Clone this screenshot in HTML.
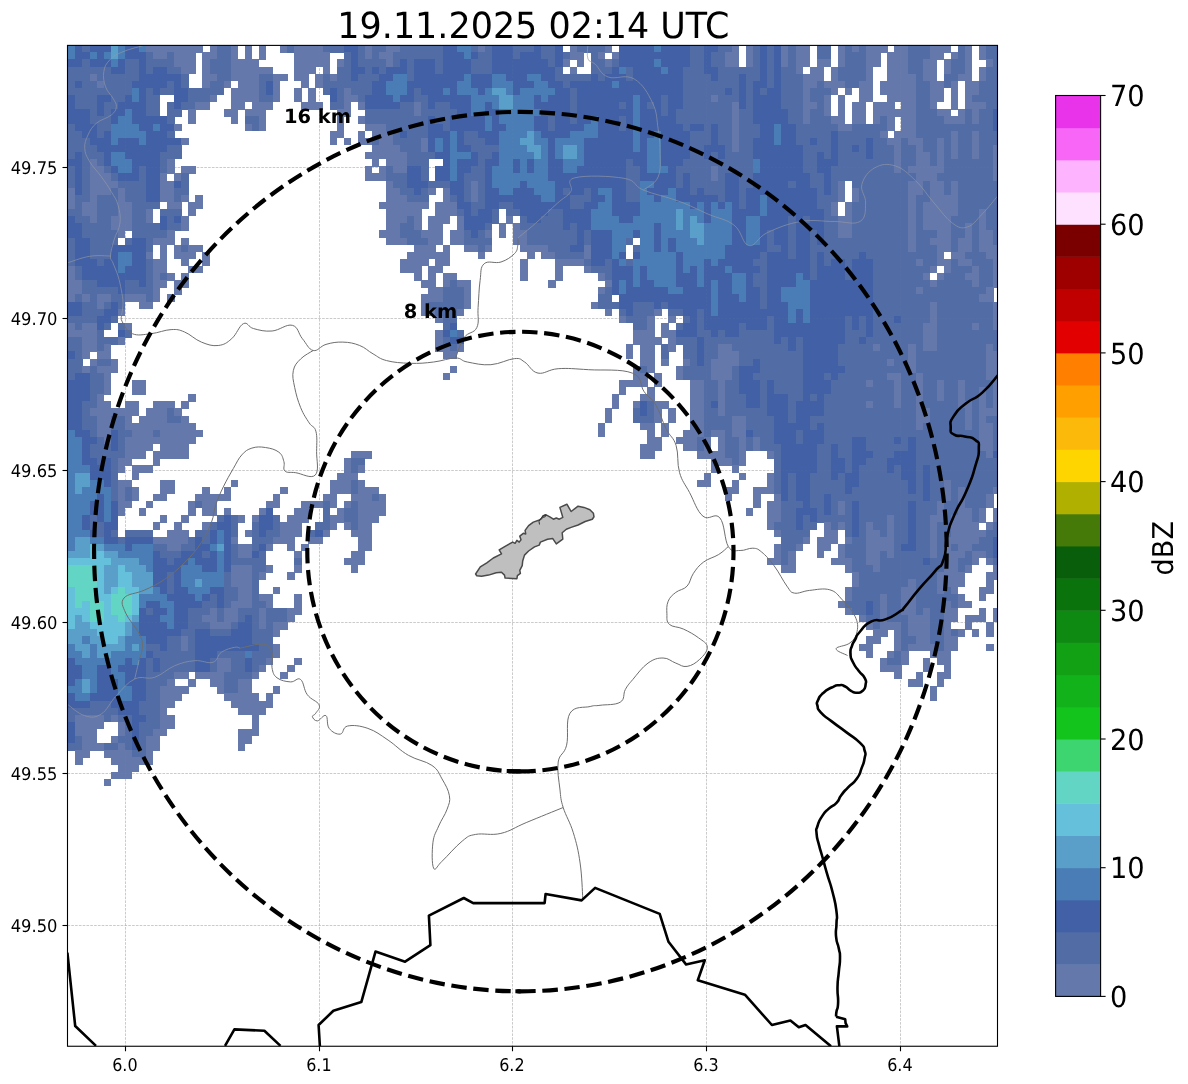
<!DOCTYPE html>
<html><head><meta charset="utf-8"><title>Radar 19.11.2025 02:14 UTC</title>
<style>
html,body{margin:0;padding:0;background:#fff;}
body{width:1188px;height:1084px;overflow:hidden;}
svg{display:block;will-change:transform;}
text{font-family:"DejaVu Sans","Liberation Sans",sans-serif;fill:#000;text-rendering:geometricPrecision;}
</style></head><body>
<svg width="1188" height="1084" viewBox="0 0 1188 1084">
<rect width="1188" height="1084" fill="#fff"/>
<defs><clipPath id="ax"><rect x="67.5" y="45.4" width="930.0" height="1000.85"/></clipPath></defs>

<g clip-path="url(#ax)">
<g stroke="#b0b0b0" stroke-opacity="0.8" stroke-width="0.8" stroke-dasharray="2.6,1.2" fill="none">
<line x1="125.50" y1="45.4" x2="125.50" y2="1046.25"/>
<line x1="319.50" y1="45.4" x2="319.50" y2="1046.25"/>
<line x1="512.50" y1="45.4" x2="512.50" y2="1046.25"/>
<line x1="706.50" y1="45.4" x2="706.50" y2="1046.25"/>
<line x1="900.50" y1="45.4" x2="900.50" y2="1046.25"/>
<line x1="67.5" y1="925.50" x2="997.5" y2="925.50"/>
<line x1="67.5" y1="773.50" x2="997.5" y2="773.50"/>
<line x1="67.5" y1="622.50" x2="997.5" y2="622.50"/>
<line x1="67.5" y1="470.50" x2="997.5" y2="470.50"/>
<line x1="67.5" y1="318.50" x2="997.5" y2="318.50"/>
<line x1="67.5" y1="167.50" x2="997.5" y2="167.50"/>
</g>
<g shape-rendering="crispEdges">
<rect x="61.28" y="45.18" width="7.36" height="7.42" fill="#4160a5"/>
<rect x="68.34" y="45.18" width="7.36" height="7.42" fill="#4a7db5"/>
<rect x="75.40" y="45.18" width="7.36" height="7.42" fill="#4160a5"/>
<rect x="82.46" y="45.18" width="7.36" height="7.42" fill="#526ca6"/>
<rect x="89.52" y="45.18" width="21.48" height="7.42" fill="#4160a5"/>
<rect x="110.70" y="45.18" width="7.36" height="7.42" fill="#5a9fc9"/>
<rect x="117.76" y="45.18" width="7.36" height="7.42" fill="#4a7db5"/>
<rect x="124.82" y="45.18" width="14.42" height="7.42" fill="#4160a5"/>
<rect x="138.94" y="45.18" width="7.36" height="7.42" fill="#4a7db5"/>
<rect x="146.00" y="45.18" width="56.78" height="7.42" fill="#6478ab"/>
<rect x="209.54" y="45.18" width="7.36" height="7.42" fill="#6478ab"/>
<rect x="216.60" y="45.18" width="14.42" height="7.42" fill="#526ca6"/>
<rect x="230.72" y="45.18" width="7.36" height="7.42" fill="#6478ab"/>
<rect x="244.84" y="45.18" width="7.36" height="7.42" fill="#6478ab"/>
<rect x="258.96" y="45.18" width="7.36" height="7.42" fill="#6478ab"/>
<rect x="280.14" y="45.18" width="7.36" height="7.42" fill="#6478ab"/>
<rect x="287.20" y="45.18" width="7.36" height="7.42" fill="#526ca6"/>
<rect x="294.26" y="45.18" width="28.54" height="7.42" fill="#6478ab"/>
<rect x="322.50" y="45.18" width="21.48" height="7.42" fill="#526ca6"/>
<rect x="343.68" y="45.18" width="14.42" height="7.42" fill="#4160a5"/>
<rect x="357.80" y="45.18" width="7.36" height="7.42" fill="#526ca6"/>
<rect x="364.86" y="45.18" width="7.36" height="7.42" fill="#6478ab"/>
<rect x="371.92" y="45.18" width="14.42" height="7.42" fill="#526ca6"/>
<rect x="386.04" y="45.18" width="14.42" height="7.42" fill="#6478ab"/>
<rect x="400.16" y="45.18" width="42.66" height="7.42" fill="#526ca6"/>
<rect x="442.52" y="45.18" width="14.42" height="7.42" fill="#4160a5"/>
<rect x="456.64" y="45.18" width="14.42" height="7.42" fill="#4a7db5"/>
<rect x="470.76" y="45.18" width="7.36" height="7.42" fill="#526ca6"/>
<rect x="477.82" y="45.18" width="7.36" height="7.42" fill="#6478ab"/>
<rect x="484.88" y="45.18" width="7.36" height="7.42" fill="#526ca6"/>
<rect x="491.94" y="45.18" width="21.48" height="7.42" fill="#4160a5"/>
<rect x="513.12" y="45.18" width="21.48" height="7.42" fill="#526ca6"/>
<rect x="534.30" y="45.18" width="7.36" height="7.42" fill="#4160a5"/>
<rect x="541.36" y="45.18" width="14.42" height="7.42" fill="#526ca6"/>
<rect x="555.48" y="45.18" width="7.36" height="7.42" fill="#4160a5"/>
<rect x="569.60" y="45.18" width="7.36" height="7.42" fill="#6478ab"/>
<rect x="576.66" y="45.18" width="28.54" height="7.42" fill="#526ca6"/>
<rect x="604.90" y="45.18" width="7.36" height="7.42" fill="#6478ab"/>
<rect x="619.02" y="45.18" width="35.60" height="7.42" fill="#4160a5"/>
<rect x="654.32" y="45.18" width="7.36" height="7.42" fill="#4a7db5"/>
<rect x="661.38" y="45.18" width="28.54" height="7.42" fill="#4160a5"/>
<rect x="689.62" y="45.18" width="14.42" height="7.42" fill="#526ca6"/>
<rect x="703.74" y="45.18" width="14.42" height="7.42" fill="#4160a5"/>
<rect x="717.86" y="45.18" width="14.42" height="7.42" fill="#526ca6"/>
<rect x="731.98" y="45.18" width="7.36" height="7.42" fill="#6478ab"/>
<rect x="746.10" y="45.18" width="7.36" height="7.42" fill="#6478ab"/>
<rect x="753.16" y="45.18" width="7.36" height="7.42" fill="#526ca6"/>
<rect x="760.22" y="45.18" width="7.36" height="7.42" fill="#4160a5"/>
<rect x="767.28" y="45.18" width="7.36" height="7.42" fill="#526ca6"/>
<rect x="774.34" y="45.18" width="7.36" height="7.42" fill="#4160a5"/>
<rect x="781.40" y="45.18" width="7.36" height="7.42" fill="#6478ab"/>
<rect x="788.46" y="45.18" width="7.36" height="7.42" fill="#526ca6"/>
<rect x="795.52" y="45.18" width="14.42" height="7.42" fill="#6478ab"/>
<rect x="816.70" y="45.18" width="14.42" height="7.42" fill="#526ca6"/>
<rect x="837.88" y="45.18" width="7.36" height="7.42" fill="#6478ab"/>
<rect x="844.94" y="45.18" width="7.36" height="7.42" fill="#526ca6"/>
<rect x="852.00" y="45.18" width="7.36" height="7.42" fill="#6478ab"/>
<rect x="859.06" y="45.18" width="7.36" height="7.42" fill="#526ca6"/>
<rect x="866.12" y="45.18" width="21.48" height="7.42" fill="#6478ab"/>
<rect x="894.36" y="45.18" width="14.42" height="7.42" fill="#6478ab"/>
<rect x="908.48" y="45.18" width="21.48" height="7.42" fill="#526ca6"/>
<rect x="929.66" y="45.18" width="21.48" height="7.42" fill="#6478ab"/>
<rect x="957.90" y="45.18" width="7.36" height="7.42" fill="#526ca6"/>
<rect x="964.96" y="45.18" width="7.36" height="7.42" fill="#6478ab"/>
<rect x="979.08" y="45.18" width="7.36" height="7.42" fill="#6478ab"/>
<rect x="986.14" y="45.18" width="14.42" height="7.42" fill="#526ca6"/>
<rect x="61.28" y="52.30" width="7.36" height="7.42" fill="#4160a5"/>
<rect x="68.34" y="52.30" width="7.36" height="7.42" fill="#4a7db5"/>
<rect x="75.40" y="52.30" width="14.42" height="7.42" fill="#4160a5"/>
<rect x="89.52" y="52.30" width="7.36" height="7.42" fill="#4a7db5"/>
<rect x="96.58" y="52.30" width="7.36" height="7.42" fill="#4160a5"/>
<rect x="103.64" y="52.30" width="7.36" height="7.42" fill="#4a7db5"/>
<rect x="110.70" y="52.30" width="7.36" height="7.42" fill="#5a9fc9"/>
<rect x="117.76" y="52.30" width="7.36" height="7.42" fill="#4a7db5"/>
<rect x="124.82" y="52.30" width="21.48" height="7.42" fill="#4160a5"/>
<rect x="146.00" y="52.30" width="7.36" height="7.42" fill="#526ca6"/>
<rect x="153.06" y="52.30" width="14.42" height="7.42" fill="#6478ab"/>
<rect x="167.18" y="52.30" width="7.36" height="7.42" fill="#526ca6"/>
<rect x="174.24" y="52.30" width="21.48" height="7.42" fill="#6478ab"/>
<rect x="202.48" y="52.30" width="14.42" height="7.42" fill="#6478ab"/>
<rect x="216.60" y="52.30" width="14.42" height="7.42" fill="#526ca6"/>
<rect x="230.72" y="52.30" width="7.36" height="7.42" fill="#6478ab"/>
<rect x="244.84" y="52.30" width="7.36" height="7.42" fill="#6478ab"/>
<rect x="258.96" y="52.30" width="7.36" height="7.42" fill="#6478ab"/>
<rect x="294.26" y="52.30" width="35.60" height="7.42" fill="#6478ab"/>
<rect x="343.68" y="52.30" width="7.36" height="7.42" fill="#526ca6"/>
<rect x="350.74" y="52.30" width="7.36" height="7.42" fill="#4160a5"/>
<rect x="357.80" y="52.30" width="7.36" height="7.42" fill="#526ca6"/>
<rect x="364.86" y="52.30" width="7.36" height="7.42" fill="#6478ab"/>
<rect x="371.92" y="52.30" width="7.36" height="7.42" fill="#526ca6"/>
<rect x="378.98" y="52.30" width="14.42" height="7.42" fill="#6478ab"/>
<rect x="393.10" y="52.30" width="49.72" height="7.42" fill="#526ca6"/>
<rect x="442.52" y="52.30" width="21.48" height="7.42" fill="#4160a5"/>
<rect x="463.70" y="52.30" width="7.36" height="7.42" fill="#4a7db5"/>
<rect x="470.76" y="52.30" width="7.36" height="7.42" fill="#4160a5"/>
<rect x="477.82" y="52.30" width="14.42" height="7.42" fill="#526ca6"/>
<rect x="491.94" y="52.30" width="21.48" height="7.42" fill="#4160a5"/>
<rect x="513.12" y="52.30" width="7.36" height="7.42" fill="#526ca6"/>
<rect x="520.18" y="52.30" width="21.48" height="7.42" fill="#4160a5"/>
<rect x="541.36" y="52.30" width="14.42" height="7.42" fill="#526ca6"/>
<rect x="555.48" y="52.30" width="7.36" height="7.42" fill="#4160a5"/>
<rect x="562.54" y="52.30" width="7.36" height="7.42" fill="#526ca6"/>
<rect x="569.60" y="52.30" width="14.42" height="7.42" fill="#6478ab"/>
<rect x="590.78" y="52.30" width="7.36" height="7.42" fill="#526ca6"/>
<rect x="597.84" y="52.30" width="7.36" height="7.42" fill="#6478ab"/>
<rect x="611.96" y="52.30" width="7.36" height="7.42" fill="#6478ab"/>
<rect x="619.02" y="52.30" width="70.90" height="7.42" fill="#4160a5"/>
<rect x="689.62" y="52.30" width="14.42" height="7.42" fill="#526ca6"/>
<rect x="703.74" y="52.30" width="7.36" height="7.42" fill="#4160a5"/>
<rect x="710.80" y="52.30" width="14.42" height="7.42" fill="#526ca6"/>
<rect x="724.92" y="52.30" width="14.42" height="7.42" fill="#6478ab"/>
<rect x="746.10" y="52.30" width="7.36" height="7.42" fill="#6478ab"/>
<rect x="753.16" y="52.30" width="7.36" height="7.42" fill="#526ca6"/>
<rect x="760.22" y="52.30" width="7.36" height="7.42" fill="#4160a5"/>
<rect x="767.28" y="52.30" width="7.36" height="7.42" fill="#526ca6"/>
<rect x="774.34" y="52.30" width="7.36" height="7.42" fill="#4160a5"/>
<rect x="781.40" y="52.30" width="7.36" height="7.42" fill="#6478ab"/>
<rect x="788.46" y="52.30" width="7.36" height="7.42" fill="#526ca6"/>
<rect x="795.52" y="52.30" width="14.42" height="7.42" fill="#6478ab"/>
<rect x="816.70" y="52.30" width="14.42" height="7.42" fill="#526ca6"/>
<rect x="837.88" y="52.30" width="7.36" height="7.42" fill="#6478ab"/>
<rect x="844.94" y="52.30" width="21.48" height="7.42" fill="#526ca6"/>
<rect x="866.12" y="52.30" width="14.42" height="7.42" fill="#6478ab"/>
<rect x="887.30" y="52.30" width="21.48" height="7.42" fill="#6478ab"/>
<rect x="908.48" y="52.30" width="21.48" height="7.42" fill="#526ca6"/>
<rect x="929.66" y="52.30" width="14.42" height="7.42" fill="#6478ab"/>
<rect x="950.84" y="52.30" width="7.36" height="7.42" fill="#6478ab"/>
<rect x="957.90" y="52.30" width="7.36" height="7.42" fill="#526ca6"/>
<rect x="964.96" y="52.30" width="7.36" height="7.42" fill="#6478ab"/>
<rect x="979.08" y="52.30" width="7.36" height="7.42" fill="#6478ab"/>
<rect x="986.14" y="52.30" width="14.42" height="7.42" fill="#526ca6"/>
<rect x="61.28" y="59.43" width="21.48" height="7.42" fill="#4160a5"/>
<rect x="82.46" y="59.43" width="7.36" height="7.42" fill="#526ca6"/>
<rect x="89.52" y="59.43" width="21.48" height="7.42" fill="#4160a5"/>
<rect x="110.70" y="59.43" width="7.36" height="7.42" fill="#4a7db5"/>
<rect x="117.76" y="59.43" width="7.36" height="7.42" fill="#4160a5"/>
<rect x="124.82" y="59.43" width="14.42" height="7.42" fill="#526ca6"/>
<rect x="138.94" y="59.43" width="7.36" height="7.42" fill="#4160a5"/>
<rect x="146.00" y="59.43" width="28.54" height="7.42" fill="#526ca6"/>
<rect x="174.24" y="59.43" width="21.48" height="7.42" fill="#6478ab"/>
<rect x="202.48" y="59.43" width="7.36" height="7.42" fill="#6478ab"/>
<rect x="209.54" y="59.43" width="21.48" height="7.42" fill="#526ca6"/>
<rect x="230.72" y="59.43" width="28.54" height="7.42" fill="#6478ab"/>
<rect x="294.26" y="59.43" width="35.60" height="7.42" fill="#6478ab"/>
<rect x="336.62" y="59.43" width="7.36" height="7.42" fill="#6478ab"/>
<rect x="343.68" y="59.43" width="7.36" height="7.42" fill="#526ca6"/>
<rect x="350.74" y="59.43" width="7.36" height="7.42" fill="#4160a5"/>
<rect x="357.80" y="59.43" width="28.54" height="7.42" fill="#526ca6"/>
<rect x="386.04" y="59.43" width="7.36" height="7.42" fill="#6478ab"/>
<rect x="393.10" y="59.43" width="7.36" height="7.42" fill="#526ca6"/>
<rect x="400.16" y="59.43" width="7.36" height="7.42" fill="#4160a5"/>
<rect x="407.22" y="59.43" width="7.36" height="7.42" fill="#526ca6"/>
<rect x="414.28" y="59.43" width="21.48" height="7.42" fill="#4160a5"/>
<rect x="435.46" y="59.43" width="7.36" height="7.42" fill="#526ca6"/>
<rect x="442.52" y="59.43" width="28.54" height="7.42" fill="#4160a5"/>
<rect x="470.76" y="59.43" width="21.48" height="7.42" fill="#526ca6"/>
<rect x="491.94" y="59.43" width="56.78" height="7.42" fill="#4160a5"/>
<rect x="548.42" y="59.43" width="7.36" height="7.42" fill="#526ca6"/>
<rect x="555.48" y="59.43" width="7.36" height="7.42" fill="#4160a5"/>
<rect x="562.54" y="59.43" width="7.36" height="7.42" fill="#6478ab"/>
<rect x="576.66" y="59.43" width="7.36" height="7.42" fill="#6478ab"/>
<rect x="590.78" y="59.43" width="14.42" height="7.42" fill="#526ca6"/>
<rect x="604.90" y="59.43" width="7.36" height="7.42" fill="#6478ab"/>
<rect x="611.96" y="59.43" width="7.36" height="7.42" fill="#526ca6"/>
<rect x="619.02" y="59.43" width="35.60" height="7.42" fill="#4160a5"/>
<rect x="654.32" y="59.43" width="7.36" height="7.42" fill="#4a7db5"/>
<rect x="661.38" y="59.43" width="28.54" height="7.42" fill="#4160a5"/>
<rect x="689.62" y="59.43" width="14.42" height="7.42" fill="#526ca6"/>
<rect x="703.74" y="59.43" width="7.36" height="7.42" fill="#4160a5"/>
<rect x="710.80" y="59.43" width="14.42" height="7.42" fill="#526ca6"/>
<rect x="724.92" y="59.43" width="14.42" height="7.42" fill="#6478ab"/>
<rect x="746.10" y="59.43" width="7.36" height="7.42" fill="#6478ab"/>
<rect x="753.16" y="59.43" width="7.36" height="7.42" fill="#526ca6"/>
<rect x="760.22" y="59.43" width="7.36" height="7.42" fill="#4160a5"/>
<rect x="767.28" y="59.43" width="7.36" height="7.42" fill="#526ca6"/>
<rect x="774.34" y="59.43" width="7.36" height="7.42" fill="#4160a5"/>
<rect x="781.40" y="59.43" width="7.36" height="7.42" fill="#6478ab"/>
<rect x="788.46" y="59.43" width="7.36" height="7.42" fill="#526ca6"/>
<rect x="795.52" y="59.43" width="14.42" height="7.42" fill="#6478ab"/>
<rect x="816.70" y="59.43" width="14.42" height="7.42" fill="#6478ab"/>
<rect x="837.88" y="59.43" width="7.36" height="7.42" fill="#6478ab"/>
<rect x="844.94" y="59.43" width="21.48" height="7.42" fill="#526ca6"/>
<rect x="866.12" y="59.43" width="14.42" height="7.42" fill="#6478ab"/>
<rect x="887.30" y="59.43" width="21.48" height="7.42" fill="#6478ab"/>
<rect x="908.48" y="59.43" width="14.42" height="7.42" fill="#526ca6"/>
<rect x="922.60" y="59.43" width="14.42" height="7.42" fill="#6478ab"/>
<rect x="943.78" y="59.43" width="7.36" height="7.42" fill="#6478ab"/>
<rect x="950.84" y="59.43" width="14.42" height="7.42" fill="#526ca6"/>
<rect x="964.96" y="59.43" width="7.36" height="7.42" fill="#6478ab"/>
<rect x="986.14" y="59.43" width="7.36" height="7.42" fill="#6478ab"/>
<rect x="993.20" y="59.43" width="7.36" height="7.42" fill="#526ca6"/>
<rect x="61.28" y="66.55" width="49.72" height="7.42" fill="#526ca6"/>
<rect x="110.70" y="66.55" width="14.42" height="7.42" fill="#4160a5"/>
<rect x="124.82" y="66.55" width="14.42" height="7.42" fill="#526ca6"/>
<rect x="138.94" y="66.55" width="7.36" height="7.42" fill="#4160a5"/>
<rect x="146.00" y="66.55" width="7.36" height="7.42" fill="#526ca6"/>
<rect x="153.06" y="66.55" width="14.42" height="7.42" fill="#4160a5"/>
<rect x="167.18" y="66.55" width="14.42" height="7.42" fill="#526ca6"/>
<rect x="181.30" y="66.55" width="14.42" height="7.42" fill="#6478ab"/>
<rect x="202.48" y="66.55" width="7.36" height="7.42" fill="#6478ab"/>
<rect x="209.54" y="66.55" width="21.48" height="7.42" fill="#526ca6"/>
<rect x="230.72" y="66.55" width="42.66" height="7.42" fill="#6478ab"/>
<rect x="294.26" y="66.55" width="21.48" height="7.42" fill="#6478ab"/>
<rect x="322.50" y="66.55" width="7.36" height="7.42" fill="#6478ab"/>
<rect x="336.62" y="66.55" width="14.42" height="7.42" fill="#526ca6"/>
<rect x="350.74" y="66.55" width="14.42" height="7.42" fill="#4160a5"/>
<rect x="364.86" y="66.55" width="7.36" height="7.42" fill="#526ca6"/>
<rect x="371.92" y="66.55" width="7.36" height="7.42" fill="#4160a5"/>
<rect x="378.98" y="66.55" width="7.36" height="7.42" fill="#526ca6"/>
<rect x="386.04" y="66.55" width="21.48" height="7.42" fill="#4160a5"/>
<rect x="407.22" y="66.55" width="7.36" height="7.42" fill="#526ca6"/>
<rect x="414.28" y="66.55" width="21.48" height="7.42" fill="#4160a5"/>
<rect x="435.46" y="66.55" width="7.36" height="7.42" fill="#526ca6"/>
<rect x="442.52" y="66.55" width="28.54" height="7.42" fill="#4160a5"/>
<rect x="470.76" y="66.55" width="21.48" height="7.42" fill="#526ca6"/>
<rect x="491.94" y="66.55" width="63.84" height="7.42" fill="#4160a5"/>
<rect x="555.48" y="66.55" width="7.36" height="7.42" fill="#526ca6"/>
<rect x="569.60" y="66.55" width="7.36" height="7.42" fill="#6478ab"/>
<rect x="590.78" y="66.55" width="21.48" height="7.42" fill="#526ca6"/>
<rect x="611.96" y="66.55" width="7.36" height="7.42" fill="#4160a5"/>
<rect x="619.02" y="66.55" width="7.36" height="7.42" fill="#4a7db5"/>
<rect x="626.08" y="66.55" width="7.36" height="7.42" fill="#526ca6"/>
<rect x="633.14" y="66.55" width="28.54" height="7.42" fill="#4160a5"/>
<rect x="661.38" y="66.55" width="7.36" height="7.42" fill="#4a7db5"/>
<rect x="668.44" y="66.55" width="14.42" height="7.42" fill="#4160a5"/>
<rect x="682.56" y="66.55" width="21.48" height="7.42" fill="#526ca6"/>
<rect x="703.74" y="66.55" width="14.42" height="7.42" fill="#4160a5"/>
<rect x="717.86" y="66.55" width="42.66" height="7.42" fill="#526ca6"/>
<rect x="760.22" y="66.55" width="7.36" height="7.42" fill="#4160a5"/>
<rect x="767.28" y="66.55" width="7.36" height="7.42" fill="#526ca6"/>
<rect x="774.34" y="66.55" width="7.36" height="7.42" fill="#4160a5"/>
<rect x="781.40" y="66.55" width="14.42" height="7.42" fill="#526ca6"/>
<rect x="795.52" y="66.55" width="7.36" height="7.42" fill="#6478ab"/>
<rect x="809.64" y="66.55" width="14.42" height="7.42" fill="#6478ab"/>
<rect x="830.82" y="66.55" width="7.36" height="7.42" fill="#6478ab"/>
<rect x="837.88" y="66.55" width="28.54" height="7.42" fill="#526ca6"/>
<rect x="866.12" y="66.55" width="7.36" height="7.42" fill="#6478ab"/>
<rect x="887.30" y="66.55" width="21.48" height="7.42" fill="#6478ab"/>
<rect x="908.48" y="66.55" width="14.42" height="7.42" fill="#526ca6"/>
<rect x="922.60" y="66.55" width="14.42" height="7.42" fill="#6478ab"/>
<rect x="943.78" y="66.55" width="7.36" height="7.42" fill="#6478ab"/>
<rect x="950.84" y="66.55" width="14.42" height="7.42" fill="#526ca6"/>
<rect x="964.96" y="66.55" width="7.36" height="7.42" fill="#6478ab"/>
<rect x="979.08" y="66.55" width="7.36" height="7.42" fill="#6478ab"/>
<rect x="986.14" y="66.55" width="14.42" height="7.42" fill="#526ca6"/>
<rect x="61.28" y="73.67" width="7.36" height="7.42" fill="#6478ab"/>
<rect x="68.34" y="73.67" width="21.48" height="7.42" fill="#526ca6"/>
<rect x="89.52" y="73.67" width="7.36" height="7.42" fill="#6478ab"/>
<rect x="96.58" y="73.67" width="42.66" height="7.42" fill="#526ca6"/>
<rect x="138.94" y="73.67" width="42.66" height="7.42" fill="#4160a5"/>
<rect x="181.30" y="73.67" width="7.36" height="7.42" fill="#526ca6"/>
<rect x="202.48" y="73.67" width="14.42" height="7.42" fill="#6478ab"/>
<rect x="216.60" y="73.67" width="14.42" height="7.42" fill="#526ca6"/>
<rect x="230.72" y="73.67" width="28.54" height="7.42" fill="#6478ab"/>
<rect x="258.96" y="73.67" width="14.42" height="7.42" fill="#526ca6"/>
<rect x="273.08" y="73.67" width="14.42" height="7.42" fill="#6478ab"/>
<rect x="294.26" y="73.67" width="14.42" height="7.42" fill="#6478ab"/>
<rect x="315.44" y="73.67" width="7.36" height="7.42" fill="#6478ab"/>
<rect x="322.50" y="73.67" width="7.36" height="7.42" fill="#526ca6"/>
<rect x="329.56" y="73.67" width="7.36" height="7.42" fill="#6478ab"/>
<rect x="336.62" y="73.67" width="14.42" height="7.42" fill="#526ca6"/>
<rect x="350.74" y="73.67" width="7.36" height="7.42" fill="#4160a5"/>
<rect x="357.80" y="73.67" width="21.48" height="7.42" fill="#526ca6"/>
<rect x="378.98" y="73.67" width="14.42" height="7.42" fill="#4160a5"/>
<rect x="393.10" y="73.67" width="14.42" height="7.42" fill="#4a7db5"/>
<rect x="407.22" y="73.67" width="7.36" height="7.42" fill="#526ca6"/>
<rect x="414.28" y="73.67" width="49.72" height="7.42" fill="#4160a5"/>
<rect x="463.70" y="73.67" width="7.36" height="7.42" fill="#4a7db5"/>
<rect x="470.76" y="73.67" width="21.48" height="7.42" fill="#4160a5"/>
<rect x="491.94" y="73.67" width="14.42" height="7.42" fill="#4a7db5"/>
<rect x="506.06" y="73.67" width="21.48" height="7.42" fill="#4160a5"/>
<rect x="527.24" y="73.67" width="14.42" height="7.42" fill="#4a7db5"/>
<rect x="541.36" y="73.67" width="14.42" height="7.42" fill="#4160a5"/>
<rect x="555.48" y="73.67" width="35.60" height="7.42" fill="#526ca6"/>
<rect x="590.78" y="73.67" width="7.36" height="7.42" fill="#4160a5"/>
<rect x="597.84" y="73.67" width="7.36" height="7.42" fill="#526ca6"/>
<rect x="604.90" y="73.67" width="21.48" height="7.42" fill="#4160a5"/>
<rect x="626.08" y="73.67" width="7.36" height="7.42" fill="#526ca6"/>
<rect x="633.14" y="73.67" width="49.72" height="7.42" fill="#4160a5"/>
<rect x="682.56" y="73.67" width="28.54" height="7.42" fill="#526ca6"/>
<rect x="710.80" y="73.67" width="7.36" height="7.42" fill="#4160a5"/>
<rect x="717.86" y="73.67" width="21.48" height="7.42" fill="#526ca6"/>
<rect x="739.04" y="73.67" width="7.36" height="7.42" fill="#4160a5"/>
<rect x="746.10" y="73.67" width="14.42" height="7.42" fill="#526ca6"/>
<rect x="760.22" y="73.67" width="7.36" height="7.42" fill="#4160a5"/>
<rect x="767.28" y="73.67" width="7.36" height="7.42" fill="#526ca6"/>
<rect x="774.34" y="73.67" width="7.36" height="7.42" fill="#4160a5"/>
<rect x="781.40" y="73.67" width="21.48" height="7.42" fill="#526ca6"/>
<rect x="802.58" y="73.67" width="21.48" height="7.42" fill="#6478ab"/>
<rect x="830.82" y="73.67" width="7.36" height="7.42" fill="#6478ab"/>
<rect x="837.88" y="73.67" width="28.54" height="7.42" fill="#526ca6"/>
<rect x="866.12" y="73.67" width="7.36" height="7.42" fill="#6478ab"/>
<rect x="887.30" y="73.67" width="28.54" height="7.42" fill="#6478ab"/>
<rect x="915.54" y="73.67" width="7.36" height="7.42" fill="#526ca6"/>
<rect x="922.60" y="73.67" width="14.42" height="7.42" fill="#6478ab"/>
<rect x="943.78" y="73.67" width="14.42" height="7.42" fill="#526ca6"/>
<rect x="957.90" y="73.67" width="14.42" height="7.42" fill="#6478ab"/>
<rect x="979.08" y="73.67" width="7.36" height="7.42" fill="#6478ab"/>
<rect x="986.14" y="73.67" width="14.42" height="7.42" fill="#526ca6"/>
<rect x="61.28" y="80.80" width="7.36" height="7.42" fill="#6478ab"/>
<rect x="68.34" y="80.80" width="7.36" height="7.42" fill="#526ca6"/>
<rect x="75.40" y="80.80" width="7.36" height="7.42" fill="#4160a5"/>
<rect x="82.46" y="80.80" width="14.42" height="7.42" fill="#526ca6"/>
<rect x="96.58" y="80.80" width="7.36" height="7.42" fill="#6478ab"/>
<rect x="103.64" y="80.80" width="28.54" height="7.42" fill="#526ca6"/>
<rect x="131.88" y="80.80" width="35.60" height="7.42" fill="#4160a5"/>
<rect x="167.18" y="80.80" width="7.36" height="7.42" fill="#526ca6"/>
<rect x="174.24" y="80.80" width="7.36" height="7.42" fill="#4160a5"/>
<rect x="181.30" y="80.80" width="7.36" height="7.42" fill="#526ca6"/>
<rect x="202.48" y="80.80" width="7.36" height="7.42" fill="#6478ab"/>
<rect x="209.54" y="80.80" width="14.42" height="7.42" fill="#526ca6"/>
<rect x="223.66" y="80.80" width="7.36" height="7.42" fill="#6478ab"/>
<rect x="237.78" y="80.80" width="21.48" height="7.42" fill="#6478ab"/>
<rect x="258.96" y="80.80" width="7.36" height="7.42" fill="#526ca6"/>
<rect x="266.02" y="80.80" width="7.36" height="7.42" fill="#4160a5"/>
<rect x="273.08" y="80.80" width="7.36" height="7.42" fill="#6478ab"/>
<rect x="301.32" y="80.80" width="7.36" height="7.42" fill="#6478ab"/>
<rect x="315.44" y="80.80" width="7.36" height="7.42" fill="#6478ab"/>
<rect x="322.50" y="80.80" width="49.72" height="7.42" fill="#526ca6"/>
<rect x="371.92" y="80.80" width="14.42" height="7.42" fill="#4160a5"/>
<rect x="386.04" y="80.80" width="21.48" height="7.42" fill="#4a7db5"/>
<rect x="407.22" y="80.80" width="49.72" height="7.42" fill="#4160a5"/>
<rect x="456.64" y="80.80" width="14.42" height="7.42" fill="#4a7db5"/>
<rect x="470.76" y="80.80" width="21.48" height="7.42" fill="#4160a5"/>
<rect x="491.94" y="80.80" width="21.48" height="7.42" fill="#4a7db5"/>
<rect x="513.12" y="80.80" width="21.48" height="7.42" fill="#4160a5"/>
<rect x="534.30" y="80.80" width="14.42" height="7.42" fill="#4a7db5"/>
<rect x="548.42" y="80.80" width="14.42" height="7.42" fill="#4160a5"/>
<rect x="562.54" y="80.80" width="7.36" height="7.42" fill="#526ca6"/>
<rect x="569.60" y="80.80" width="42.66" height="7.42" fill="#4160a5"/>
<rect x="611.96" y="80.80" width="7.36" height="7.42" fill="#4a7db5"/>
<rect x="619.02" y="80.80" width="63.84" height="7.42" fill="#4160a5"/>
<rect x="682.56" y="80.80" width="56.78" height="7.42" fill="#526ca6"/>
<rect x="739.04" y="80.80" width="7.36" height="7.42" fill="#4160a5"/>
<rect x="746.10" y="80.80" width="7.36" height="7.42" fill="#526ca6"/>
<rect x="753.16" y="80.80" width="14.42" height="7.42" fill="#4160a5"/>
<rect x="767.28" y="80.80" width="7.36" height="7.42" fill="#526ca6"/>
<rect x="774.34" y="80.80" width="7.36" height="7.42" fill="#4160a5"/>
<rect x="781.40" y="80.80" width="21.48" height="7.42" fill="#526ca6"/>
<rect x="802.58" y="80.80" width="14.42" height="7.42" fill="#6478ab"/>
<rect x="816.70" y="80.80" width="7.36" height="7.42" fill="#526ca6"/>
<rect x="823.76" y="80.80" width="21.48" height="7.42" fill="#6478ab"/>
<rect x="844.94" y="80.80" width="14.42" height="7.42" fill="#526ca6"/>
<rect x="859.06" y="80.80" width="14.42" height="7.42" fill="#6478ab"/>
<rect x="880.24" y="80.80" width="35.60" height="7.42" fill="#6478ab"/>
<rect x="915.54" y="80.80" width="14.42" height="7.42" fill="#526ca6"/>
<rect x="929.66" y="80.80" width="14.42" height="7.42" fill="#6478ab"/>
<rect x="943.78" y="80.80" width="7.36" height="7.42" fill="#526ca6"/>
<rect x="950.84" y="80.80" width="7.36" height="7.42" fill="#6478ab"/>
<rect x="964.96" y="80.80" width="14.42" height="7.42" fill="#6478ab"/>
<rect x="979.08" y="80.80" width="21.48" height="7.42" fill="#526ca6"/>
<rect x="61.28" y="87.92" width="70.90" height="7.42" fill="#526ca6"/>
<rect x="131.88" y="87.92" width="7.36" height="7.42" fill="#4a7db5"/>
<rect x="138.94" y="87.92" width="7.36" height="7.42" fill="#4160a5"/>
<rect x="146.00" y="87.92" width="7.36" height="7.42" fill="#526ca6"/>
<rect x="153.06" y="87.92" width="7.36" height="7.42" fill="#4160a5"/>
<rect x="160.12" y="87.92" width="14.42" height="7.42" fill="#526ca6"/>
<rect x="174.24" y="87.92" width="14.42" height="7.42" fill="#4160a5"/>
<rect x="188.36" y="87.92" width="35.60" height="7.42" fill="#526ca6"/>
<rect x="230.72" y="87.92" width="28.54" height="7.42" fill="#6478ab"/>
<rect x="258.96" y="87.92" width="7.36" height="7.42" fill="#526ca6"/>
<rect x="266.02" y="87.92" width="7.36" height="7.42" fill="#4160a5"/>
<rect x="273.08" y="87.92" width="7.36" height="7.42" fill="#6478ab"/>
<rect x="294.26" y="87.92" width="7.36" height="7.42" fill="#6478ab"/>
<rect x="308.38" y="87.92" width="7.36" height="7.42" fill="#6478ab"/>
<rect x="322.50" y="87.92" width="7.36" height="7.42" fill="#526ca6"/>
<rect x="329.56" y="87.92" width="7.36" height="7.42" fill="#4160a5"/>
<rect x="336.62" y="87.92" width="7.36" height="7.42" fill="#526ca6"/>
<rect x="343.68" y="87.92" width="7.36" height="7.42" fill="#6478ab"/>
<rect x="350.74" y="87.92" width="21.48" height="7.42" fill="#526ca6"/>
<rect x="371.92" y="87.92" width="14.42" height="7.42" fill="#4160a5"/>
<rect x="386.04" y="87.92" width="21.48" height="7.42" fill="#4a7db5"/>
<rect x="407.22" y="87.92" width="7.36" height="7.42" fill="#4160a5"/>
<rect x="414.28" y="87.92" width="7.36" height="7.42" fill="#526ca6"/>
<rect x="421.34" y="87.92" width="21.48" height="7.42" fill="#4160a5"/>
<rect x="442.52" y="87.92" width="7.36" height="7.42" fill="#4a7db5"/>
<rect x="449.58" y="87.92" width="7.36" height="7.42" fill="#4160a5"/>
<rect x="456.64" y="87.92" width="21.48" height="7.42" fill="#4a7db5"/>
<rect x="477.82" y="87.92" width="7.36" height="7.42" fill="#4160a5"/>
<rect x="484.88" y="87.92" width="7.36" height="7.42" fill="#4a7db5"/>
<rect x="491.94" y="87.92" width="14.42" height="7.42" fill="#5a9fc9"/>
<rect x="506.06" y="87.92" width="7.36" height="7.42" fill="#4a7db5"/>
<rect x="513.12" y="87.92" width="7.36" height="7.42" fill="#4160a5"/>
<rect x="520.18" y="87.92" width="35.60" height="7.42" fill="#4a7db5"/>
<rect x="555.48" y="87.92" width="14.42" height="7.42" fill="#4160a5"/>
<rect x="569.60" y="87.92" width="7.36" height="7.42" fill="#526ca6"/>
<rect x="576.66" y="87.92" width="106.20" height="7.42" fill="#4160a5"/>
<rect x="682.56" y="87.92" width="42.66" height="7.42" fill="#526ca6"/>
<rect x="724.92" y="87.92" width="7.36" height="7.42" fill="#4160a5"/>
<rect x="731.98" y="87.92" width="7.36" height="7.42" fill="#526ca6"/>
<rect x="739.04" y="87.92" width="7.36" height="7.42" fill="#4160a5"/>
<rect x="746.10" y="87.92" width="7.36" height="7.42" fill="#526ca6"/>
<rect x="753.16" y="87.92" width="7.36" height="7.42" fill="#4160a5"/>
<rect x="760.22" y="87.92" width="7.36" height="7.42" fill="#526ca6"/>
<rect x="767.28" y="87.92" width="14.42" height="7.42" fill="#4160a5"/>
<rect x="781.40" y="87.92" width="21.48" height="7.42" fill="#526ca6"/>
<rect x="802.58" y="87.92" width="7.36" height="7.42" fill="#6478ab"/>
<rect x="809.64" y="87.92" width="21.48" height="7.42" fill="#526ca6"/>
<rect x="830.82" y="87.92" width="7.36" height="7.42" fill="#6478ab"/>
<rect x="844.94" y="87.92" width="7.36" height="7.42" fill="#6478ab"/>
<rect x="859.06" y="87.92" width="14.42" height="7.42" fill="#6478ab"/>
<rect x="880.24" y="87.92" width="35.60" height="7.42" fill="#6478ab"/>
<rect x="915.54" y="87.92" width="14.42" height="7.42" fill="#526ca6"/>
<rect x="929.66" y="87.92" width="14.42" height="7.42" fill="#6478ab"/>
<rect x="950.84" y="87.92" width="7.36" height="7.42" fill="#6478ab"/>
<rect x="964.96" y="87.92" width="14.42" height="7.42" fill="#6478ab"/>
<rect x="979.08" y="87.92" width="21.48" height="7.42" fill="#526ca6"/>
<rect x="61.28" y="95.04" width="14.42" height="7.42" fill="#4160a5"/>
<rect x="75.40" y="95.04" width="21.48" height="7.42" fill="#526ca6"/>
<rect x="96.58" y="95.04" width="14.42" height="7.42" fill="#4160a5"/>
<rect x="110.70" y="95.04" width="14.42" height="7.42" fill="#526ca6"/>
<rect x="124.82" y="95.04" width="7.36" height="7.42" fill="#4160a5"/>
<rect x="131.88" y="95.04" width="7.36" height="7.42" fill="#4a7db5"/>
<rect x="138.94" y="95.04" width="7.36" height="7.42" fill="#4160a5"/>
<rect x="146.00" y="95.04" width="14.42" height="7.42" fill="#526ca6"/>
<rect x="174.24" y="95.04" width="14.42" height="7.42" fill="#4160a5"/>
<rect x="188.36" y="95.04" width="21.48" height="7.42" fill="#526ca6"/>
<rect x="209.54" y="95.04" width="7.36" height="7.42" fill="#6478ab"/>
<rect x="230.72" y="95.04" width="28.54" height="7.42" fill="#6478ab"/>
<rect x="258.96" y="95.04" width="14.42" height="7.42" fill="#526ca6"/>
<rect x="273.08" y="95.04" width="7.36" height="7.42" fill="#6478ab"/>
<rect x="294.26" y="95.04" width="7.36" height="7.42" fill="#6478ab"/>
<rect x="308.38" y="95.04" width="7.36" height="7.42" fill="#6478ab"/>
<rect x="329.56" y="95.04" width="7.36" height="7.42" fill="#4160a5"/>
<rect x="336.62" y="95.04" width="7.36" height="7.42" fill="#526ca6"/>
<rect x="343.68" y="95.04" width="14.42" height="7.42" fill="#6478ab"/>
<rect x="357.80" y="95.04" width="7.36" height="7.42" fill="#526ca6"/>
<rect x="364.86" y="95.04" width="28.54" height="7.42" fill="#4160a5"/>
<rect x="393.10" y="95.04" width="7.36" height="7.42" fill="#4a7db5"/>
<rect x="400.16" y="95.04" width="14.42" height="7.42" fill="#4160a5"/>
<rect x="414.28" y="95.04" width="14.42" height="7.42" fill="#526ca6"/>
<rect x="428.40" y="95.04" width="42.66" height="7.42" fill="#4160a5"/>
<rect x="470.76" y="95.04" width="28.54" height="7.42" fill="#4a7db5"/>
<rect x="499.00" y="95.04" width="14.42" height="7.42" fill="#5a9fc9"/>
<rect x="513.12" y="95.04" width="21.48" height="7.42" fill="#4a7db5"/>
<rect x="534.30" y="95.04" width="7.36" height="7.42" fill="#4160a5"/>
<rect x="541.36" y="95.04" width="7.36" height="7.42" fill="#4a7db5"/>
<rect x="548.42" y="95.04" width="21.48" height="7.42" fill="#4160a5"/>
<rect x="569.60" y="95.04" width="7.36" height="7.42" fill="#526ca6"/>
<rect x="576.66" y="95.04" width="56.78" height="7.42" fill="#4160a5"/>
<rect x="633.14" y="95.04" width="7.36" height="7.42" fill="#4a7db5"/>
<rect x="640.20" y="95.04" width="21.48" height="7.42" fill="#4160a5"/>
<rect x="661.38" y="95.04" width="7.36" height="7.42" fill="#526ca6"/>
<rect x="668.44" y="95.04" width="14.42" height="7.42" fill="#4160a5"/>
<rect x="682.56" y="95.04" width="28.54" height="7.42" fill="#526ca6"/>
<rect x="710.80" y="95.04" width="7.36" height="7.42" fill="#6478ab"/>
<rect x="717.86" y="95.04" width="21.48" height="7.42" fill="#526ca6"/>
<rect x="739.04" y="95.04" width="7.36" height="7.42" fill="#4160a5"/>
<rect x="746.10" y="95.04" width="7.36" height="7.42" fill="#526ca6"/>
<rect x="753.16" y="95.04" width="28.54" height="7.42" fill="#4160a5"/>
<rect x="781.40" y="95.04" width="21.48" height="7.42" fill="#526ca6"/>
<rect x="802.58" y="95.04" width="7.36" height="7.42" fill="#6478ab"/>
<rect x="809.64" y="95.04" width="14.42" height="7.42" fill="#526ca6"/>
<rect x="823.76" y="95.04" width="7.36" height="7.42" fill="#6478ab"/>
<rect x="837.88" y="95.04" width="7.36" height="7.42" fill="#6478ab"/>
<rect x="859.06" y="95.04" width="14.42" height="7.42" fill="#6478ab"/>
<rect x="887.30" y="95.04" width="28.54" height="7.42" fill="#6478ab"/>
<rect x="915.54" y="95.04" width="14.42" height="7.42" fill="#526ca6"/>
<rect x="929.66" y="95.04" width="14.42" height="7.42" fill="#6478ab"/>
<rect x="950.84" y="95.04" width="7.36" height="7.42" fill="#6478ab"/>
<rect x="964.96" y="95.04" width="7.36" height="7.42" fill="#6478ab"/>
<rect x="972.02" y="95.04" width="28.54" height="7.42" fill="#526ca6"/>
<rect x="61.28" y="102.16" width="14.42" height="7.42" fill="#4160a5"/>
<rect x="75.40" y="102.16" width="21.48" height="7.42" fill="#526ca6"/>
<rect x="96.58" y="102.16" width="7.36" height="7.42" fill="#4160a5"/>
<rect x="103.64" y="102.16" width="14.42" height="7.42" fill="#526ca6"/>
<rect x="117.76" y="102.16" width="28.54" height="7.42" fill="#4160a5"/>
<rect x="146.00" y="102.16" width="14.42" height="7.42" fill="#526ca6"/>
<rect x="167.18" y="102.16" width="7.36" height="7.42" fill="#526ca6"/>
<rect x="174.24" y="102.16" width="7.36" height="7.42" fill="#4160a5"/>
<rect x="181.30" y="102.16" width="14.42" height="7.42" fill="#526ca6"/>
<rect x="195.42" y="102.16" width="14.42" height="7.42" fill="#6478ab"/>
<rect x="230.72" y="102.16" width="14.42" height="7.42" fill="#6478ab"/>
<rect x="251.90" y="102.16" width="21.48" height="7.42" fill="#6478ab"/>
<rect x="301.32" y="102.16" width="21.48" height="7.42" fill="#6478ab"/>
<rect x="329.56" y="102.16" width="14.42" height="7.42" fill="#526ca6"/>
<rect x="343.68" y="102.16" width="7.36" height="7.42" fill="#6478ab"/>
<rect x="357.80" y="102.16" width="7.36" height="7.42" fill="#6478ab"/>
<rect x="364.86" y="102.16" width="35.60" height="7.42" fill="#4160a5"/>
<rect x="400.16" y="102.16" width="14.42" height="7.42" fill="#526ca6"/>
<rect x="414.28" y="102.16" width="7.36" height="7.42" fill="#6478ab"/>
<rect x="421.34" y="102.16" width="7.36" height="7.42" fill="#526ca6"/>
<rect x="428.40" y="102.16" width="7.36" height="7.42" fill="#4160a5"/>
<rect x="435.46" y="102.16" width="14.42" height="7.42" fill="#526ca6"/>
<rect x="449.58" y="102.16" width="21.48" height="7.42" fill="#4160a5"/>
<rect x="470.76" y="102.16" width="14.42" height="7.42" fill="#4a7db5"/>
<rect x="484.88" y="102.16" width="7.36" height="7.42" fill="#4160a5"/>
<rect x="491.94" y="102.16" width="7.36" height="7.42" fill="#4a7db5"/>
<rect x="499.00" y="102.16" width="14.42" height="7.42" fill="#5a9fc9"/>
<rect x="513.12" y="102.16" width="21.48" height="7.42" fill="#4a7db5"/>
<rect x="534.30" y="102.16" width="35.60" height="7.42" fill="#4160a5"/>
<rect x="569.60" y="102.16" width="7.36" height="7.42" fill="#526ca6"/>
<rect x="576.66" y="102.16" width="42.66" height="7.42" fill="#4160a5"/>
<rect x="619.02" y="102.16" width="7.36" height="7.42" fill="#526ca6"/>
<rect x="626.08" y="102.16" width="7.36" height="7.42" fill="#4160a5"/>
<rect x="633.14" y="102.16" width="7.36" height="7.42" fill="#4a7db5"/>
<rect x="640.20" y="102.16" width="7.36" height="7.42" fill="#4160a5"/>
<rect x="647.26" y="102.16" width="7.36" height="7.42" fill="#526ca6"/>
<rect x="654.32" y="102.16" width="7.36" height="7.42" fill="#4160a5"/>
<rect x="661.38" y="102.16" width="7.36" height="7.42" fill="#526ca6"/>
<rect x="668.44" y="102.16" width="14.42" height="7.42" fill="#4160a5"/>
<rect x="682.56" y="102.16" width="49.72" height="7.42" fill="#526ca6"/>
<rect x="731.98" y="102.16" width="7.36" height="7.42" fill="#6478ab"/>
<rect x="739.04" y="102.16" width="7.36" height="7.42" fill="#4160a5"/>
<rect x="746.10" y="102.16" width="7.36" height="7.42" fill="#526ca6"/>
<rect x="753.16" y="102.16" width="28.54" height="7.42" fill="#4160a5"/>
<rect x="781.40" y="102.16" width="21.48" height="7.42" fill="#526ca6"/>
<rect x="802.58" y="102.16" width="14.42" height="7.42" fill="#6478ab"/>
<rect x="816.70" y="102.16" width="7.36" height="7.42" fill="#526ca6"/>
<rect x="823.76" y="102.16" width="7.36" height="7.42" fill="#6478ab"/>
<rect x="837.88" y="102.16" width="7.36" height="7.42" fill="#6478ab"/>
<rect x="852.00" y="102.16" width="14.42" height="7.42" fill="#6478ab"/>
<rect x="873.18" y="102.16" width="21.48" height="7.42" fill="#6478ab"/>
<rect x="901.42" y="102.16" width="14.42" height="7.42" fill="#6478ab"/>
<rect x="915.54" y="102.16" width="14.42" height="7.42" fill="#526ca6"/>
<rect x="929.66" y="102.16" width="7.36" height="7.42" fill="#6478ab"/>
<rect x="950.84" y="102.16" width="7.36" height="7.42" fill="#6478ab"/>
<rect x="964.96" y="102.16" width="21.48" height="7.42" fill="#6478ab"/>
<rect x="986.14" y="102.16" width="14.42" height="7.42" fill="#526ca6"/>
<rect x="61.28" y="109.29" width="28.54" height="7.42" fill="#4160a5"/>
<rect x="89.52" y="109.29" width="7.36" height="7.42" fill="#526ca6"/>
<rect x="96.58" y="109.29" width="7.36" height="7.42" fill="#4160a5"/>
<rect x="103.64" y="109.29" width="7.36" height="7.42" fill="#526ca6"/>
<rect x="110.70" y="109.29" width="14.42" height="7.42" fill="#4160a5"/>
<rect x="124.82" y="109.29" width="7.36" height="7.42" fill="#4a7db5"/>
<rect x="131.88" y="109.29" width="14.42" height="7.42" fill="#4160a5"/>
<rect x="146.00" y="109.29" width="14.42" height="7.42" fill="#526ca6"/>
<rect x="167.18" y="109.29" width="14.42" height="7.42" fill="#526ca6"/>
<rect x="188.36" y="109.29" width="7.36" height="7.42" fill="#6478ab"/>
<rect x="223.66" y="109.29" width="14.42" height="7.42" fill="#6478ab"/>
<rect x="244.84" y="109.29" width="21.48" height="7.42" fill="#6478ab"/>
<rect x="336.62" y="109.29" width="14.42" height="7.42" fill="#6478ab"/>
<rect x="364.86" y="109.29" width="49.72" height="7.42" fill="#526ca6"/>
<rect x="414.28" y="109.29" width="7.36" height="7.42" fill="#6478ab"/>
<rect x="421.34" y="109.29" width="35.60" height="7.42" fill="#526ca6"/>
<rect x="456.64" y="109.29" width="14.42" height="7.42" fill="#4160a5"/>
<rect x="470.76" y="109.29" width="14.42" height="7.42" fill="#4a7db5"/>
<rect x="484.88" y="109.29" width="14.42" height="7.42" fill="#4160a5"/>
<rect x="499.00" y="109.29" width="42.66" height="7.42" fill="#4a7db5"/>
<rect x="541.36" y="109.29" width="28.54" height="7.42" fill="#4160a5"/>
<rect x="569.60" y="109.29" width="7.36" height="7.42" fill="#526ca6"/>
<rect x="576.66" y="109.29" width="56.78" height="7.42" fill="#4160a5"/>
<rect x="633.14" y="109.29" width="7.36" height="7.42" fill="#4a7db5"/>
<rect x="640.20" y="109.29" width="21.48" height="7.42" fill="#4160a5"/>
<rect x="661.38" y="109.29" width="7.36" height="7.42" fill="#526ca6"/>
<rect x="668.44" y="109.29" width="7.36" height="7.42" fill="#4160a5"/>
<rect x="675.50" y="109.29" width="56.78" height="7.42" fill="#526ca6"/>
<rect x="731.98" y="109.29" width="7.36" height="7.42" fill="#6478ab"/>
<rect x="739.04" y="109.29" width="14.42" height="7.42" fill="#526ca6"/>
<rect x="753.16" y="109.29" width="35.60" height="7.42" fill="#4160a5"/>
<rect x="788.46" y="109.29" width="14.42" height="7.42" fill="#526ca6"/>
<rect x="802.58" y="109.29" width="7.36" height="7.42" fill="#6478ab"/>
<rect x="809.64" y="109.29" width="14.42" height="7.42" fill="#526ca6"/>
<rect x="823.76" y="109.29" width="7.36" height="7.42" fill="#6478ab"/>
<rect x="837.88" y="109.29" width="7.36" height="7.42" fill="#6478ab"/>
<rect x="852.00" y="109.29" width="14.42" height="7.42" fill="#6478ab"/>
<rect x="873.18" y="109.29" width="42.66" height="7.42" fill="#6478ab"/>
<rect x="915.54" y="109.29" width="21.48" height="7.42" fill="#526ca6"/>
<rect x="936.72" y="109.29" width="14.42" height="7.42" fill="#6478ab"/>
<rect x="957.90" y="109.29" width="7.36" height="7.42" fill="#6478ab"/>
<rect x="964.96" y="109.29" width="7.36" height="7.42" fill="#526ca6"/>
<rect x="972.02" y="109.29" width="7.36" height="7.42" fill="#6478ab"/>
<rect x="979.08" y="109.29" width="14.42" height="7.42" fill="#526ca6"/>
<rect x="993.20" y="109.29" width="7.36" height="7.42" fill="#4160a5"/>
<rect x="61.28" y="116.41" width="28.54" height="7.42" fill="#4160a5"/>
<rect x="89.52" y="116.41" width="21.48" height="7.42" fill="#526ca6"/>
<rect x="110.70" y="116.41" width="7.36" height="7.42" fill="#4160a5"/>
<rect x="117.76" y="116.41" width="14.42" height="7.42" fill="#4a7db5"/>
<rect x="131.88" y="116.41" width="35.60" height="7.42" fill="#4160a5"/>
<rect x="167.18" y="116.41" width="7.36" height="7.42" fill="#526ca6"/>
<rect x="188.36" y="116.41" width="7.36" height="7.42" fill="#6478ab"/>
<rect x="230.72" y="116.41" width="7.36" height="7.42" fill="#6478ab"/>
<rect x="244.84" y="116.41" width="14.42" height="7.42" fill="#526ca6"/>
<rect x="258.96" y="116.41" width="7.36" height="7.42" fill="#6478ab"/>
<rect x="336.62" y="116.41" width="7.36" height="7.42" fill="#6478ab"/>
<rect x="357.80" y="116.41" width="7.36" height="7.42" fill="#6478ab"/>
<rect x="364.86" y="116.41" width="63.84" height="7.42" fill="#526ca6"/>
<rect x="428.40" y="116.41" width="7.36" height="7.42" fill="#4160a5"/>
<rect x="435.46" y="116.41" width="14.42" height="7.42" fill="#526ca6"/>
<rect x="449.58" y="116.41" width="35.60" height="7.42" fill="#4160a5"/>
<rect x="484.88" y="116.41" width="7.36" height="7.42" fill="#4a7db5"/>
<rect x="491.94" y="116.41" width="7.36" height="7.42" fill="#4160a5"/>
<rect x="499.00" y="116.41" width="35.60" height="7.42" fill="#4a7db5"/>
<rect x="534.30" y="116.41" width="14.42" height="7.42" fill="#4160a5"/>
<rect x="548.42" y="116.41" width="7.36" height="7.42" fill="#526ca6"/>
<rect x="555.48" y="116.41" width="14.42" height="7.42" fill="#4160a5"/>
<rect x="569.60" y="116.41" width="7.36" height="7.42" fill="#526ca6"/>
<rect x="576.66" y="116.41" width="14.42" height="7.42" fill="#4160a5"/>
<rect x="590.78" y="116.41" width="7.36" height="7.42" fill="#4a7db5"/>
<rect x="597.84" y="116.41" width="21.48" height="7.42" fill="#4160a5"/>
<rect x="619.02" y="116.41" width="7.36" height="7.42" fill="#526ca6"/>
<rect x="626.08" y="116.41" width="7.36" height="7.42" fill="#4160a5"/>
<rect x="633.14" y="116.41" width="7.36" height="7.42" fill="#4a7db5"/>
<rect x="640.20" y="116.41" width="35.60" height="7.42" fill="#4160a5"/>
<rect x="675.50" y="116.41" width="56.78" height="7.42" fill="#526ca6"/>
<rect x="731.98" y="116.41" width="7.36" height="7.42" fill="#6478ab"/>
<rect x="739.04" y="116.41" width="14.42" height="7.42" fill="#526ca6"/>
<rect x="753.16" y="116.41" width="35.60" height="7.42" fill="#4160a5"/>
<rect x="788.46" y="116.41" width="14.42" height="7.42" fill="#526ca6"/>
<rect x="802.58" y="116.41" width="7.36" height="7.42" fill="#6478ab"/>
<rect x="809.64" y="116.41" width="21.48" height="7.42" fill="#526ca6"/>
<rect x="830.82" y="116.41" width="14.42" height="7.42" fill="#6478ab"/>
<rect x="852.00" y="116.41" width="14.42" height="7.42" fill="#6478ab"/>
<rect x="873.18" y="116.41" width="7.36" height="7.42" fill="#6478ab"/>
<rect x="880.24" y="116.41" width="7.36" height="7.42" fill="#526ca6"/>
<rect x="887.30" y="116.41" width="7.36" height="7.42" fill="#6478ab"/>
<rect x="901.42" y="116.41" width="14.42" height="7.42" fill="#6478ab"/>
<rect x="915.54" y="116.41" width="28.54" height="7.42" fill="#526ca6"/>
<rect x="943.78" y="116.41" width="21.48" height="7.42" fill="#6478ab"/>
<rect x="964.96" y="116.41" width="7.36" height="7.42" fill="#526ca6"/>
<rect x="972.02" y="116.41" width="7.36" height="7.42" fill="#6478ab"/>
<rect x="979.08" y="116.41" width="14.42" height="7.42" fill="#526ca6"/>
<rect x="993.20" y="116.41" width="7.36" height="7.42" fill="#4160a5"/>
<rect x="61.28" y="123.53" width="14.42" height="7.42" fill="#526ca6"/>
<rect x="75.40" y="123.53" width="21.48" height="7.42" fill="#4160a5"/>
<rect x="96.58" y="123.53" width="14.42" height="7.42" fill="#526ca6"/>
<rect x="110.70" y="123.53" width="28.54" height="7.42" fill="#4a7db5"/>
<rect x="138.94" y="123.53" width="14.42" height="7.42" fill="#4160a5"/>
<rect x="153.06" y="123.53" width="7.36" height="7.42" fill="#4a7db5"/>
<rect x="160.12" y="123.53" width="14.42" height="7.42" fill="#4160a5"/>
<rect x="174.24" y="123.53" width="7.36" height="7.42" fill="#6478ab"/>
<rect x="244.84" y="123.53" width="7.36" height="7.42" fill="#6478ab"/>
<rect x="251.90" y="123.53" width="7.36" height="7.42" fill="#526ca6"/>
<rect x="258.96" y="123.53" width="7.36" height="7.42" fill="#6478ab"/>
<rect x="336.62" y="123.53" width="7.36" height="7.42" fill="#6478ab"/>
<rect x="364.86" y="123.53" width="21.48" height="7.42" fill="#6478ab"/>
<rect x="386.04" y="123.53" width="42.66" height="7.42" fill="#526ca6"/>
<rect x="428.40" y="123.53" width="14.42" height="7.42" fill="#4160a5"/>
<rect x="442.52" y="123.53" width="7.36" height="7.42" fill="#526ca6"/>
<rect x="449.58" y="123.53" width="35.60" height="7.42" fill="#4160a5"/>
<rect x="484.88" y="123.53" width="7.36" height="7.42" fill="#4a7db5"/>
<rect x="491.94" y="123.53" width="14.42" height="7.42" fill="#4160a5"/>
<rect x="506.06" y="123.53" width="28.54" height="7.42" fill="#4a7db5"/>
<rect x="534.30" y="123.53" width="14.42" height="7.42" fill="#4160a5"/>
<rect x="548.42" y="123.53" width="7.36" height="7.42" fill="#526ca6"/>
<rect x="555.48" y="123.53" width="28.54" height="7.42" fill="#4160a5"/>
<rect x="583.72" y="123.53" width="14.42" height="7.42" fill="#4a7db5"/>
<rect x="597.84" y="123.53" width="21.48" height="7.42" fill="#4160a5"/>
<rect x="619.02" y="123.53" width="7.36" height="7.42" fill="#526ca6"/>
<rect x="626.08" y="123.53" width="7.36" height="7.42" fill="#4160a5"/>
<rect x="633.14" y="123.53" width="7.36" height="7.42" fill="#4a7db5"/>
<rect x="640.20" y="123.53" width="42.66" height="7.42" fill="#4160a5"/>
<rect x="682.56" y="123.53" width="7.36" height="7.42" fill="#526ca6"/>
<rect x="689.62" y="123.53" width="14.42" height="7.42" fill="#4160a5"/>
<rect x="703.74" y="123.53" width="7.36" height="7.42" fill="#526ca6"/>
<rect x="710.80" y="123.53" width="7.36" height="7.42" fill="#4160a5"/>
<rect x="717.86" y="123.53" width="14.42" height="7.42" fill="#526ca6"/>
<rect x="731.98" y="123.53" width="7.36" height="7.42" fill="#6478ab"/>
<rect x="739.04" y="123.53" width="21.48" height="7.42" fill="#526ca6"/>
<rect x="760.22" y="123.53" width="14.42" height="7.42" fill="#4160a5"/>
<rect x="774.34" y="123.53" width="7.36" height="7.42" fill="#4a7db5"/>
<rect x="781.40" y="123.53" width="14.42" height="7.42" fill="#4160a5"/>
<rect x="795.52" y="123.53" width="42.66" height="7.42" fill="#526ca6"/>
<rect x="837.88" y="123.53" width="14.42" height="7.42" fill="#6478ab"/>
<rect x="852.00" y="123.53" width="35.60" height="7.42" fill="#526ca6"/>
<rect x="887.30" y="123.53" width="7.36" height="7.42" fill="#6478ab"/>
<rect x="901.42" y="123.53" width="14.42" height="7.42" fill="#6478ab"/>
<rect x="915.54" y="123.53" width="77.96" height="7.42" fill="#526ca6"/>
<rect x="993.20" y="123.53" width="7.36" height="7.42" fill="#4160a5"/>
<rect x="61.28" y="130.66" width="21.48" height="7.42" fill="#526ca6"/>
<rect x="82.46" y="130.66" width="14.42" height="7.42" fill="#4160a5"/>
<rect x="96.58" y="130.66" width="7.36" height="7.42" fill="#526ca6"/>
<rect x="103.64" y="130.66" width="7.36" height="7.42" fill="#4160a5"/>
<rect x="110.70" y="130.66" width="35.60" height="7.42" fill="#4a7db5"/>
<rect x="146.00" y="130.66" width="21.48" height="7.42" fill="#4160a5"/>
<rect x="167.18" y="130.66" width="7.36" height="7.42" fill="#526ca6"/>
<rect x="329.56" y="130.66" width="14.42" height="7.42" fill="#6478ab"/>
<rect x="357.80" y="130.66" width="7.36" height="7.42" fill="#6478ab"/>
<rect x="371.92" y="130.66" width="21.48" height="7.42" fill="#6478ab"/>
<rect x="393.10" y="130.66" width="7.36" height="7.42" fill="#526ca6"/>
<rect x="400.16" y="130.66" width="7.36" height="7.42" fill="#4160a5"/>
<rect x="407.22" y="130.66" width="21.48" height="7.42" fill="#526ca6"/>
<rect x="428.40" y="130.66" width="21.48" height="7.42" fill="#4160a5"/>
<rect x="449.58" y="130.66" width="7.36" height="7.42" fill="#4a7db5"/>
<rect x="456.64" y="130.66" width="7.36" height="7.42" fill="#4160a5"/>
<rect x="463.70" y="130.66" width="14.42" height="7.42" fill="#526ca6"/>
<rect x="477.82" y="130.66" width="21.48" height="7.42" fill="#4160a5"/>
<rect x="499.00" y="130.66" width="28.54" height="7.42" fill="#4a7db5"/>
<rect x="527.24" y="130.66" width="7.36" height="7.42" fill="#5a9fc9"/>
<rect x="534.30" y="130.66" width="7.36" height="7.42" fill="#4a7db5"/>
<rect x="541.36" y="130.66" width="28.54" height="7.42" fill="#4160a5"/>
<rect x="569.60" y="130.66" width="28.54" height="7.42" fill="#4a7db5"/>
<rect x="597.84" y="130.66" width="35.60" height="7.42" fill="#4160a5"/>
<rect x="633.14" y="130.66" width="7.36" height="7.42" fill="#4a7db5"/>
<rect x="640.20" y="130.66" width="14.42" height="7.42" fill="#4160a5"/>
<rect x="654.32" y="130.66" width="7.36" height="7.42" fill="#4a7db5"/>
<rect x="661.38" y="130.66" width="28.54" height="7.42" fill="#4160a5"/>
<rect x="689.62" y="130.66" width="21.48" height="7.42" fill="#526ca6"/>
<rect x="710.80" y="130.66" width="7.36" height="7.42" fill="#4160a5"/>
<rect x="717.86" y="130.66" width="14.42" height="7.42" fill="#526ca6"/>
<rect x="731.98" y="130.66" width="7.36" height="7.42" fill="#6478ab"/>
<rect x="739.04" y="130.66" width="21.48" height="7.42" fill="#526ca6"/>
<rect x="760.22" y="130.66" width="14.42" height="7.42" fill="#4160a5"/>
<rect x="774.34" y="130.66" width="7.36" height="7.42" fill="#4a7db5"/>
<rect x="781.40" y="130.66" width="14.42" height="7.42" fill="#4160a5"/>
<rect x="795.52" y="130.66" width="35.60" height="7.42" fill="#526ca6"/>
<rect x="830.82" y="130.66" width="7.36" height="7.42" fill="#4160a5"/>
<rect x="837.88" y="130.66" width="42.66" height="7.42" fill="#526ca6"/>
<rect x="880.24" y="130.66" width="7.36" height="7.42" fill="#6478ab"/>
<rect x="894.36" y="130.66" width="21.48" height="7.42" fill="#6478ab"/>
<rect x="915.54" y="130.66" width="35.60" height="7.42" fill="#526ca6"/>
<rect x="950.84" y="130.66" width="7.36" height="7.42" fill="#6478ab"/>
<rect x="957.90" y="130.66" width="14.42" height="7.42" fill="#526ca6"/>
<rect x="972.02" y="130.66" width="7.36" height="7.42" fill="#6478ab"/>
<rect x="979.08" y="130.66" width="21.48" height="7.42" fill="#526ca6"/>
<rect x="61.28" y="137.78" width="28.54" height="7.42" fill="#526ca6"/>
<rect x="89.52" y="137.78" width="21.48" height="7.42" fill="#4160a5"/>
<rect x="110.70" y="137.78" width="7.36" height="7.42" fill="#4a7db5"/>
<rect x="117.76" y="137.78" width="21.48" height="7.42" fill="#4160a5"/>
<rect x="138.94" y="137.78" width="7.36" height="7.42" fill="#4a7db5"/>
<rect x="146.00" y="137.78" width="35.60" height="7.42" fill="#4160a5"/>
<rect x="181.30" y="137.78" width="7.36" height="7.42" fill="#6478ab"/>
<rect x="329.56" y="137.78" width="7.36" height="7.42" fill="#6478ab"/>
<rect x="343.68" y="137.78" width="7.36" height="7.42" fill="#6478ab"/>
<rect x="357.80" y="137.78" width="14.42" height="7.42" fill="#6478ab"/>
<rect x="371.92" y="137.78" width="7.36" height="7.42" fill="#526ca6"/>
<rect x="378.98" y="137.78" width="14.42" height="7.42" fill="#6478ab"/>
<rect x="393.10" y="137.78" width="28.54" height="7.42" fill="#526ca6"/>
<rect x="421.34" y="137.78" width="7.36" height="7.42" fill="#6478ab"/>
<rect x="428.40" y="137.78" width="7.36" height="7.42" fill="#4160a5"/>
<rect x="435.46" y="137.78" width="7.36" height="7.42" fill="#4a7db5"/>
<rect x="442.52" y="137.78" width="7.36" height="7.42" fill="#4160a5"/>
<rect x="449.58" y="137.78" width="7.36" height="7.42" fill="#4a7db5"/>
<rect x="456.64" y="137.78" width="7.36" height="7.42" fill="#4160a5"/>
<rect x="463.70" y="137.78" width="21.48" height="7.42" fill="#526ca6"/>
<rect x="484.88" y="137.78" width="14.42" height="7.42" fill="#4160a5"/>
<rect x="499.00" y="137.78" width="21.48" height="7.42" fill="#4a7db5"/>
<rect x="520.18" y="137.78" width="14.42" height="7.42" fill="#5a9fc9"/>
<rect x="534.30" y="137.78" width="14.42" height="7.42" fill="#4a7db5"/>
<rect x="548.42" y="137.78" width="7.36" height="7.42" fill="#4160a5"/>
<rect x="555.48" y="137.78" width="28.54" height="7.42" fill="#4a7db5"/>
<rect x="583.72" y="137.78" width="49.72" height="7.42" fill="#4160a5"/>
<rect x="633.14" y="137.78" width="7.36" height="7.42" fill="#4a7db5"/>
<rect x="640.20" y="137.78" width="7.36" height="7.42" fill="#4160a5"/>
<rect x="647.26" y="137.78" width="14.42" height="7.42" fill="#4a7db5"/>
<rect x="661.38" y="137.78" width="28.54" height="7.42" fill="#4160a5"/>
<rect x="689.62" y="137.78" width="21.48" height="7.42" fill="#526ca6"/>
<rect x="710.80" y="137.78" width="7.36" height="7.42" fill="#4160a5"/>
<rect x="717.86" y="137.78" width="14.42" height="7.42" fill="#526ca6"/>
<rect x="731.98" y="137.78" width="7.36" height="7.42" fill="#6478ab"/>
<rect x="739.04" y="137.78" width="14.42" height="7.42" fill="#526ca6"/>
<rect x="753.16" y="137.78" width="21.48" height="7.42" fill="#4160a5"/>
<rect x="774.34" y="137.78" width="7.36" height="7.42" fill="#4a7db5"/>
<rect x="781.40" y="137.78" width="14.42" height="7.42" fill="#4160a5"/>
<rect x="795.52" y="137.78" width="14.42" height="7.42" fill="#526ca6"/>
<rect x="809.64" y="137.78" width="7.36" height="7.42" fill="#4160a5"/>
<rect x="816.70" y="137.78" width="14.42" height="7.42" fill="#526ca6"/>
<rect x="830.82" y="137.78" width="7.36" height="7.42" fill="#4160a5"/>
<rect x="837.88" y="137.78" width="28.54" height="7.42" fill="#526ca6"/>
<rect x="866.12" y="137.78" width="7.36" height="7.42" fill="#4160a5"/>
<rect x="873.18" y="137.78" width="14.42" height="7.42" fill="#526ca6"/>
<rect x="887.30" y="137.78" width="14.42" height="7.42" fill="#6478ab"/>
<rect x="901.42" y="137.78" width="7.36" height="7.42" fill="#526ca6"/>
<rect x="908.48" y="137.78" width="14.42" height="7.42" fill="#6478ab"/>
<rect x="922.60" y="137.78" width="14.42" height="7.42" fill="#526ca6"/>
<rect x="936.72" y="137.78" width="7.36" height="7.42" fill="#6478ab"/>
<rect x="943.78" y="137.78" width="7.36" height="7.42" fill="#526ca6"/>
<rect x="950.84" y="137.78" width="7.36" height="7.42" fill="#6478ab"/>
<rect x="957.90" y="137.78" width="14.42" height="7.42" fill="#526ca6"/>
<rect x="972.02" y="137.78" width="7.36" height="7.42" fill="#6478ab"/>
<rect x="979.08" y="137.78" width="21.48" height="7.42" fill="#526ca6"/>
<rect x="61.28" y="144.90" width="35.60" height="7.42" fill="#526ca6"/>
<rect x="96.58" y="144.90" width="70.90" height="7.42" fill="#4160a5"/>
<rect x="167.18" y="144.90" width="14.42" height="7.42" fill="#526ca6"/>
<rect x="371.92" y="144.90" width="28.54" height="7.42" fill="#6478ab"/>
<rect x="400.16" y="144.90" width="21.48" height="7.42" fill="#526ca6"/>
<rect x="421.34" y="144.90" width="7.36" height="7.42" fill="#6478ab"/>
<rect x="428.40" y="144.90" width="7.36" height="7.42" fill="#4160a5"/>
<rect x="435.46" y="144.90" width="7.36" height="7.42" fill="#4a7db5"/>
<rect x="442.52" y="144.90" width="7.36" height="7.42" fill="#4160a5"/>
<rect x="449.58" y="144.90" width="7.36" height="7.42" fill="#4a7db5"/>
<rect x="456.64" y="144.90" width="14.42" height="7.42" fill="#4160a5"/>
<rect x="470.76" y="144.90" width="28.54" height="7.42" fill="#526ca6"/>
<rect x="499.00" y="144.90" width="28.54" height="7.42" fill="#4a7db5"/>
<rect x="527.24" y="144.90" width="14.42" height="7.42" fill="#5a9fc9"/>
<rect x="541.36" y="144.90" width="7.36" height="7.42" fill="#4a7db5"/>
<rect x="548.42" y="144.90" width="7.36" height="7.42" fill="#4160a5"/>
<rect x="555.48" y="144.90" width="7.36" height="7.42" fill="#4a7db5"/>
<rect x="562.54" y="144.90" width="14.42" height="7.42" fill="#5a9fc9"/>
<rect x="576.66" y="144.90" width="7.36" height="7.42" fill="#4a7db5"/>
<rect x="583.72" y="144.90" width="49.72" height="7.42" fill="#4160a5"/>
<rect x="633.14" y="144.90" width="7.36" height="7.42" fill="#4a7db5"/>
<rect x="640.20" y="144.90" width="7.36" height="7.42" fill="#4160a5"/>
<rect x="647.26" y="144.90" width="14.42" height="7.42" fill="#4a7db5"/>
<rect x="661.38" y="144.90" width="28.54" height="7.42" fill="#4160a5"/>
<rect x="689.62" y="144.90" width="14.42" height="7.42" fill="#526ca6"/>
<rect x="703.74" y="144.90" width="21.48" height="7.42" fill="#4160a5"/>
<rect x="724.92" y="144.90" width="7.36" height="7.42" fill="#526ca6"/>
<rect x="731.98" y="144.90" width="7.36" height="7.42" fill="#6478ab"/>
<rect x="739.04" y="144.90" width="14.42" height="7.42" fill="#526ca6"/>
<rect x="753.16" y="144.90" width="49.72" height="7.42" fill="#4160a5"/>
<rect x="802.58" y="144.90" width="28.54" height="7.42" fill="#526ca6"/>
<rect x="830.82" y="144.90" width="7.36" height="7.42" fill="#4160a5"/>
<rect x="837.88" y="144.90" width="14.42" height="7.42" fill="#526ca6"/>
<rect x="852.00" y="144.90" width="7.36" height="7.42" fill="#4160a5"/>
<rect x="859.06" y="144.90" width="7.36" height="7.42" fill="#526ca6"/>
<rect x="866.12" y="144.90" width="7.36" height="7.42" fill="#4160a5"/>
<rect x="873.18" y="144.90" width="21.48" height="7.42" fill="#526ca6"/>
<rect x="894.36" y="144.90" width="7.36" height="7.42" fill="#6478ab"/>
<rect x="901.42" y="144.90" width="14.42" height="7.42" fill="#526ca6"/>
<rect x="915.54" y="144.90" width="7.36" height="7.42" fill="#6478ab"/>
<rect x="922.60" y="144.90" width="14.42" height="7.42" fill="#526ca6"/>
<rect x="936.72" y="144.90" width="7.36" height="7.42" fill="#6478ab"/>
<rect x="943.78" y="144.90" width="7.36" height="7.42" fill="#526ca6"/>
<rect x="950.84" y="144.90" width="7.36" height="7.42" fill="#6478ab"/>
<rect x="957.90" y="144.90" width="14.42" height="7.42" fill="#526ca6"/>
<rect x="972.02" y="144.90" width="7.36" height="7.42" fill="#6478ab"/>
<rect x="979.08" y="144.90" width="14.42" height="7.42" fill="#526ca6"/>
<rect x="993.20" y="144.90" width="7.36" height="7.42" fill="#6478ab"/>
<rect x="61.28" y="152.03" width="14.42" height="7.42" fill="#526ca6"/>
<rect x="75.40" y="152.03" width="7.36" height="7.42" fill="#4160a5"/>
<rect x="82.46" y="152.03" width="21.48" height="7.42" fill="#526ca6"/>
<rect x="103.64" y="152.03" width="7.36" height="7.42" fill="#4160a5"/>
<rect x="110.70" y="152.03" width="14.42" height="7.42" fill="#4a7db5"/>
<rect x="124.82" y="152.03" width="35.60" height="7.42" fill="#4160a5"/>
<rect x="160.12" y="152.03" width="21.48" height="7.42" fill="#526ca6"/>
<rect x="364.86" y="152.03" width="42.66" height="7.42" fill="#6478ab"/>
<rect x="407.22" y="152.03" width="28.54" height="7.42" fill="#526ca6"/>
<rect x="435.46" y="152.03" width="14.42" height="7.42" fill="#4160a5"/>
<rect x="449.58" y="152.03" width="21.48" height="7.42" fill="#4a7db5"/>
<rect x="470.76" y="152.03" width="7.36" height="7.42" fill="#4160a5"/>
<rect x="477.82" y="152.03" width="14.42" height="7.42" fill="#526ca6"/>
<rect x="491.94" y="152.03" width="7.36" height="7.42" fill="#4160a5"/>
<rect x="499.00" y="152.03" width="35.60" height="7.42" fill="#4a7db5"/>
<rect x="534.30" y="152.03" width="7.36" height="7.42" fill="#5a9fc9"/>
<rect x="541.36" y="152.03" width="7.36" height="7.42" fill="#4a7db5"/>
<rect x="548.42" y="152.03" width="7.36" height="7.42" fill="#4160a5"/>
<rect x="555.48" y="152.03" width="7.36" height="7.42" fill="#4a7db5"/>
<rect x="562.54" y="152.03" width="14.42" height="7.42" fill="#5a9fc9"/>
<rect x="576.66" y="152.03" width="7.36" height="7.42" fill="#4a7db5"/>
<rect x="583.72" y="152.03" width="63.84" height="7.42" fill="#4160a5"/>
<rect x="647.26" y="152.03" width="14.42" height="7.42" fill="#4a7db5"/>
<rect x="661.38" y="152.03" width="28.54" height="7.42" fill="#4160a5"/>
<rect x="689.62" y="152.03" width="14.42" height="7.42" fill="#526ca6"/>
<rect x="703.74" y="152.03" width="7.36" height="7.42" fill="#4160a5"/>
<rect x="710.80" y="152.03" width="7.36" height="7.42" fill="#526ca6"/>
<rect x="717.86" y="152.03" width="7.36" height="7.42" fill="#4160a5"/>
<rect x="724.92" y="152.03" width="28.54" height="7.42" fill="#526ca6"/>
<rect x="753.16" y="152.03" width="49.72" height="7.42" fill="#4160a5"/>
<rect x="802.58" y="152.03" width="14.42" height="7.42" fill="#526ca6"/>
<rect x="816.70" y="152.03" width="7.36" height="7.42" fill="#4160a5"/>
<rect x="823.76" y="152.03" width="7.36" height="7.42" fill="#526ca6"/>
<rect x="830.82" y="152.03" width="7.36" height="7.42" fill="#4160a5"/>
<rect x="837.88" y="152.03" width="28.54" height="7.42" fill="#526ca6"/>
<rect x="866.12" y="152.03" width="7.36" height="7.42" fill="#4160a5"/>
<rect x="873.18" y="152.03" width="21.48" height="7.42" fill="#526ca6"/>
<rect x="894.36" y="152.03" width="7.36" height="7.42" fill="#6478ab"/>
<rect x="901.42" y="152.03" width="14.42" height="7.42" fill="#526ca6"/>
<rect x="915.54" y="152.03" width="14.42" height="7.42" fill="#6478ab"/>
<rect x="929.66" y="152.03" width="7.36" height="7.42" fill="#526ca6"/>
<rect x="936.72" y="152.03" width="7.36" height="7.42" fill="#6478ab"/>
<rect x="943.78" y="152.03" width="7.36" height="7.42" fill="#526ca6"/>
<rect x="950.84" y="152.03" width="7.36" height="7.42" fill="#6478ab"/>
<rect x="957.90" y="152.03" width="14.42" height="7.42" fill="#526ca6"/>
<rect x="972.02" y="152.03" width="7.36" height="7.42" fill="#6478ab"/>
<rect x="979.08" y="152.03" width="14.42" height="7.42" fill="#526ca6"/>
<rect x="993.20" y="152.03" width="7.36" height="7.42" fill="#6478ab"/>
<rect x="61.28" y="159.15" width="7.36" height="7.42" fill="#526ca6"/>
<rect x="68.34" y="159.15" width="14.42" height="7.42" fill="#4160a5"/>
<rect x="82.46" y="159.15" width="7.36" height="7.42" fill="#526ca6"/>
<rect x="89.52" y="159.15" width="7.36" height="7.42" fill="#6478ab"/>
<rect x="96.58" y="159.15" width="7.36" height="7.42" fill="#526ca6"/>
<rect x="103.64" y="159.15" width="7.36" height="7.42" fill="#4160a5"/>
<rect x="110.70" y="159.15" width="21.48" height="7.42" fill="#4a7db5"/>
<rect x="131.88" y="159.15" width="28.54" height="7.42" fill="#4160a5"/>
<rect x="160.12" y="159.15" width="7.36" height="7.42" fill="#526ca6"/>
<rect x="167.18" y="159.15" width="7.36" height="7.42" fill="#6478ab"/>
<rect x="371.92" y="159.15" width="7.36" height="7.42" fill="#6478ab"/>
<rect x="386.04" y="159.15" width="21.48" height="7.42" fill="#6478ab"/>
<rect x="407.22" y="159.15" width="21.48" height="7.42" fill="#526ca6"/>
<rect x="442.52" y="159.15" width="7.36" height="7.42" fill="#4160a5"/>
<rect x="449.58" y="159.15" width="7.36" height="7.42" fill="#4a7db5"/>
<rect x="456.64" y="159.15" width="21.48" height="7.42" fill="#4160a5"/>
<rect x="477.82" y="159.15" width="7.36" height="7.42" fill="#526ca6"/>
<rect x="484.88" y="159.15" width="14.42" height="7.42" fill="#4160a5"/>
<rect x="499.00" y="159.15" width="14.42" height="7.42" fill="#4a7db5"/>
<rect x="513.12" y="159.15" width="7.36" height="7.42" fill="#4160a5"/>
<rect x="520.18" y="159.15" width="7.36" height="7.42" fill="#4a7db5"/>
<rect x="527.24" y="159.15" width="7.36" height="7.42" fill="#4160a5"/>
<rect x="534.30" y="159.15" width="14.42" height="7.42" fill="#4a7db5"/>
<rect x="548.42" y="159.15" width="14.42" height="7.42" fill="#4160a5"/>
<rect x="562.54" y="159.15" width="21.48" height="7.42" fill="#4a7db5"/>
<rect x="583.72" y="159.15" width="42.66" height="7.42" fill="#4160a5"/>
<rect x="626.08" y="159.15" width="7.36" height="7.42" fill="#526ca6"/>
<rect x="633.14" y="159.15" width="14.42" height="7.42" fill="#4160a5"/>
<rect x="647.26" y="159.15" width="14.42" height="7.42" fill="#4a7db5"/>
<rect x="661.38" y="159.15" width="21.48" height="7.42" fill="#4160a5"/>
<rect x="682.56" y="159.15" width="70.90" height="7.42" fill="#526ca6"/>
<rect x="753.16" y="159.15" width="7.36" height="7.42" fill="#4a7db5"/>
<rect x="760.22" y="159.15" width="42.66" height="7.42" fill="#4160a5"/>
<rect x="802.58" y="159.15" width="14.42" height="7.42" fill="#526ca6"/>
<rect x="816.70" y="159.15" width="21.48" height="7.42" fill="#4160a5"/>
<rect x="837.88" y="159.15" width="56.78" height="7.42" fill="#526ca6"/>
<rect x="894.36" y="159.15" width="7.36" height="7.42" fill="#6478ab"/>
<rect x="901.42" y="159.15" width="14.42" height="7.42" fill="#526ca6"/>
<rect x="915.54" y="159.15" width="14.42" height="7.42" fill="#6478ab"/>
<rect x="929.66" y="159.15" width="7.36" height="7.42" fill="#526ca6"/>
<rect x="936.72" y="159.15" width="7.36" height="7.42" fill="#6478ab"/>
<rect x="943.78" y="159.15" width="49.72" height="7.42" fill="#526ca6"/>
<rect x="993.20" y="159.15" width="7.36" height="7.42" fill="#6478ab"/>
<rect x="61.28" y="166.27" width="7.36" height="7.42" fill="#6478ab"/>
<rect x="68.34" y="166.27" width="7.36" height="7.42" fill="#526ca6"/>
<rect x="75.40" y="166.27" width="7.36" height="7.42" fill="#4160a5"/>
<rect x="82.46" y="166.27" width="7.36" height="7.42" fill="#526ca6"/>
<rect x="89.52" y="166.27" width="14.42" height="7.42" fill="#6478ab"/>
<rect x="103.64" y="166.27" width="7.36" height="7.42" fill="#526ca6"/>
<rect x="110.70" y="166.27" width="7.36" height="7.42" fill="#4160a5"/>
<rect x="117.76" y="166.27" width="14.42" height="7.42" fill="#4a7db5"/>
<rect x="131.88" y="166.27" width="7.36" height="7.42" fill="#4160a5"/>
<rect x="138.94" y="166.27" width="7.36" height="7.42" fill="#526ca6"/>
<rect x="146.00" y="166.27" width="14.42" height="7.42" fill="#4160a5"/>
<rect x="160.12" y="166.27" width="7.36" height="7.42" fill="#526ca6"/>
<rect x="167.18" y="166.27" width="7.36" height="7.42" fill="#6478ab"/>
<rect x="181.30" y="166.27" width="14.42" height="7.42" fill="#6478ab"/>
<rect x="364.86" y="166.27" width="7.36" height="7.42" fill="#6478ab"/>
<rect x="378.98" y="166.27" width="7.36" height="7.42" fill="#6478ab"/>
<rect x="386.04" y="166.27" width="7.36" height="7.42" fill="#526ca6"/>
<rect x="393.10" y="166.27" width="14.42" height="7.42" fill="#6478ab"/>
<rect x="407.22" y="166.27" width="14.42" height="7.42" fill="#4160a5"/>
<rect x="421.34" y="166.27" width="7.36" height="7.42" fill="#526ca6"/>
<rect x="435.46" y="166.27" width="14.42" height="7.42" fill="#4160a5"/>
<rect x="449.58" y="166.27" width="7.36" height="7.42" fill="#4a7db5"/>
<rect x="456.64" y="166.27" width="14.42" height="7.42" fill="#4160a5"/>
<rect x="470.76" y="166.27" width="14.42" height="7.42" fill="#526ca6"/>
<rect x="484.88" y="166.27" width="7.36" height="7.42" fill="#4160a5"/>
<rect x="491.94" y="166.27" width="21.48" height="7.42" fill="#4a7db5"/>
<rect x="513.12" y="166.27" width="7.36" height="7.42" fill="#4160a5"/>
<rect x="520.18" y="166.27" width="7.36" height="7.42" fill="#4a7db5"/>
<rect x="527.24" y="166.27" width="7.36" height="7.42" fill="#4160a5"/>
<rect x="534.30" y="166.27" width="14.42" height="7.42" fill="#4a7db5"/>
<rect x="548.42" y="166.27" width="14.42" height="7.42" fill="#4160a5"/>
<rect x="562.54" y="166.27" width="14.42" height="7.42" fill="#4a7db5"/>
<rect x="576.66" y="166.27" width="49.72" height="7.42" fill="#4160a5"/>
<rect x="626.08" y="166.27" width="14.42" height="7.42" fill="#526ca6"/>
<rect x="640.20" y="166.27" width="7.36" height="7.42" fill="#4160a5"/>
<rect x="647.26" y="166.27" width="21.48" height="7.42" fill="#4a7db5"/>
<rect x="668.44" y="166.27" width="7.36" height="7.42" fill="#4160a5"/>
<rect x="675.50" y="166.27" width="35.60" height="7.42" fill="#526ca6"/>
<rect x="710.80" y="166.27" width="7.36" height="7.42" fill="#6478ab"/>
<rect x="717.86" y="166.27" width="35.60" height="7.42" fill="#526ca6"/>
<rect x="753.16" y="166.27" width="7.36" height="7.42" fill="#4a7db5"/>
<rect x="760.22" y="166.27" width="42.66" height="7.42" fill="#4160a5"/>
<rect x="802.58" y="166.27" width="14.42" height="7.42" fill="#526ca6"/>
<rect x="816.70" y="166.27" width="14.42" height="7.42" fill="#4160a5"/>
<rect x="830.82" y="166.27" width="63.84" height="7.42" fill="#526ca6"/>
<rect x="894.36" y="166.27" width="7.36" height="7.42" fill="#6478ab"/>
<rect x="901.42" y="166.27" width="7.36" height="7.42" fill="#526ca6"/>
<rect x="908.48" y="166.27" width="35.60" height="7.42" fill="#6478ab"/>
<rect x="943.78" y="166.27" width="49.72" height="7.42" fill="#526ca6"/>
<rect x="993.20" y="166.27" width="7.36" height="7.42" fill="#6478ab"/>
<rect x="61.28" y="173.39" width="7.36" height="7.42" fill="#6478ab"/>
<rect x="68.34" y="173.39" width="7.36" height="7.42" fill="#526ca6"/>
<rect x="75.40" y="173.39" width="7.36" height="7.42" fill="#4160a5"/>
<rect x="82.46" y="173.39" width="7.36" height="7.42" fill="#526ca6"/>
<rect x="89.52" y="173.39" width="21.48" height="7.42" fill="#6478ab"/>
<rect x="110.70" y="173.39" width="7.36" height="7.42" fill="#526ca6"/>
<rect x="117.76" y="173.39" width="21.48" height="7.42" fill="#4160a5"/>
<rect x="138.94" y="173.39" width="7.36" height="7.42" fill="#526ca6"/>
<rect x="146.00" y="173.39" width="14.42" height="7.42" fill="#4160a5"/>
<rect x="160.12" y="173.39" width="7.36" height="7.42" fill="#6478ab"/>
<rect x="174.24" y="173.39" width="7.36" height="7.42" fill="#6478ab"/>
<rect x="181.30" y="173.39" width="7.36" height="7.42" fill="#526ca6"/>
<rect x="364.86" y="173.39" width="21.48" height="7.42" fill="#6478ab"/>
<rect x="386.04" y="173.39" width="21.48" height="7.42" fill="#526ca6"/>
<rect x="407.22" y="173.39" width="14.42" height="7.42" fill="#4160a5"/>
<rect x="421.34" y="173.39" width="7.36" height="7.42" fill="#526ca6"/>
<rect x="435.46" y="173.39" width="14.42" height="7.42" fill="#4160a5"/>
<rect x="449.58" y="173.39" width="7.36" height="7.42" fill="#4a7db5"/>
<rect x="456.64" y="173.39" width="7.36" height="7.42" fill="#4160a5"/>
<rect x="463.70" y="173.39" width="21.48" height="7.42" fill="#526ca6"/>
<rect x="484.88" y="173.39" width="7.36" height="7.42" fill="#4160a5"/>
<rect x="491.94" y="173.39" width="56.78" height="7.42" fill="#4a7db5"/>
<rect x="548.42" y="173.39" width="77.96" height="7.42" fill="#4160a5"/>
<rect x="626.08" y="173.39" width="14.42" height="7.42" fill="#526ca6"/>
<rect x="640.20" y="173.39" width="35.60" height="7.42" fill="#4160a5"/>
<rect x="675.50" y="173.39" width="7.36" height="7.42" fill="#526ca6"/>
<rect x="682.56" y="173.39" width="7.36" height="7.42" fill="#4160a5"/>
<rect x="689.62" y="173.39" width="21.48" height="7.42" fill="#526ca6"/>
<rect x="710.80" y="173.39" width="7.36" height="7.42" fill="#6478ab"/>
<rect x="717.86" y="173.39" width="7.36" height="7.42" fill="#526ca6"/>
<rect x="724.92" y="173.39" width="14.42" height="7.42" fill="#4160a5"/>
<rect x="739.04" y="173.39" width="14.42" height="7.42" fill="#526ca6"/>
<rect x="753.16" y="173.39" width="56.78" height="7.42" fill="#4160a5"/>
<rect x="809.64" y="173.39" width="14.42" height="7.42" fill="#526ca6"/>
<rect x="823.76" y="173.39" width="7.36" height="7.42" fill="#4160a5"/>
<rect x="830.82" y="173.39" width="85.02" height="7.42" fill="#526ca6"/>
<rect x="915.54" y="173.39" width="21.48" height="7.42" fill="#6478ab"/>
<rect x="936.72" y="173.39" width="56.78" height="7.42" fill="#526ca6"/>
<rect x="993.20" y="173.39" width="7.36" height="7.42" fill="#6478ab"/>
<rect x="61.28" y="180.52" width="7.36" height="7.42" fill="#6478ab"/>
<rect x="68.34" y="180.52" width="7.36" height="7.42" fill="#526ca6"/>
<rect x="75.40" y="180.52" width="7.36" height="7.42" fill="#4160a5"/>
<rect x="82.46" y="180.52" width="7.36" height="7.42" fill="#526ca6"/>
<rect x="89.52" y="180.52" width="28.54" height="7.42" fill="#6478ab"/>
<rect x="117.76" y="180.52" width="28.54" height="7.42" fill="#526ca6"/>
<rect x="146.00" y="180.52" width="14.42" height="7.42" fill="#4160a5"/>
<rect x="160.12" y="180.52" width="14.42" height="7.42" fill="#6478ab"/>
<rect x="174.24" y="180.52" width="7.36" height="7.42" fill="#4160a5"/>
<rect x="181.30" y="180.52" width="7.36" height="7.42" fill="#526ca6"/>
<rect x="386.04" y="180.52" width="7.36" height="7.42" fill="#6478ab"/>
<rect x="393.10" y="180.52" width="14.42" height="7.42" fill="#526ca6"/>
<rect x="407.22" y="180.52" width="21.48" height="7.42" fill="#4160a5"/>
<rect x="428.40" y="180.52" width="21.48" height="7.42" fill="#526ca6"/>
<rect x="449.58" y="180.52" width="14.42" height="7.42" fill="#4160a5"/>
<rect x="463.70" y="180.52" width="7.36" height="7.42" fill="#526ca6"/>
<rect x="470.76" y="180.52" width="7.36" height="7.42" fill="#6478ab"/>
<rect x="477.82" y="180.52" width="7.36" height="7.42" fill="#526ca6"/>
<rect x="484.88" y="180.52" width="7.36" height="7.42" fill="#4160a5"/>
<rect x="491.94" y="180.52" width="28.54" height="7.42" fill="#4a7db5"/>
<rect x="520.18" y="180.52" width="7.36" height="7.42" fill="#4160a5"/>
<rect x="527.24" y="180.52" width="28.54" height="7.42" fill="#4a7db5"/>
<rect x="555.48" y="180.52" width="70.90" height="7.42" fill="#4160a5"/>
<rect x="626.08" y="180.52" width="14.42" height="7.42" fill="#526ca6"/>
<rect x="640.20" y="180.52" width="14.42" height="7.42" fill="#4a7db5"/>
<rect x="654.32" y="180.52" width="21.48" height="7.42" fill="#4160a5"/>
<rect x="675.50" y="180.52" width="7.36" height="7.42" fill="#526ca6"/>
<rect x="682.56" y="180.52" width="7.36" height="7.42" fill="#4160a5"/>
<rect x="689.62" y="180.52" width="35.60" height="7.42" fill="#526ca6"/>
<rect x="724.92" y="180.52" width="14.42" height="7.42" fill="#4160a5"/>
<rect x="739.04" y="180.52" width="14.42" height="7.42" fill="#526ca6"/>
<rect x="753.16" y="180.52" width="35.60" height="7.42" fill="#4160a5"/>
<rect x="788.46" y="180.52" width="7.36" height="7.42" fill="#526ca6"/>
<rect x="795.52" y="180.52" width="14.42" height="7.42" fill="#4160a5"/>
<rect x="809.64" y="180.52" width="14.42" height="7.42" fill="#526ca6"/>
<rect x="823.76" y="180.52" width="7.36" height="7.42" fill="#4160a5"/>
<rect x="830.82" y="180.52" width="7.36" height="7.42" fill="#526ca6"/>
<rect x="837.88" y="180.52" width="7.36" height="7.42" fill="#6478ab"/>
<rect x="852.00" y="180.52" width="56.78" height="7.42" fill="#526ca6"/>
<rect x="908.48" y="180.52" width="14.42" height="7.42" fill="#6478ab"/>
<rect x="922.60" y="180.52" width="7.36" height="7.42" fill="#526ca6"/>
<rect x="929.66" y="180.52" width="14.42" height="7.42" fill="#6478ab"/>
<rect x="943.78" y="180.52" width="7.36" height="7.42" fill="#526ca6"/>
<rect x="950.84" y="180.52" width="7.36" height="7.42" fill="#6478ab"/>
<rect x="957.90" y="180.52" width="42.66" height="7.42" fill="#526ca6"/>
<rect x="61.28" y="187.64" width="14.42" height="7.42" fill="#6478ab"/>
<rect x="75.40" y="187.64" width="7.36" height="7.42" fill="#4160a5"/>
<rect x="82.46" y="187.64" width="7.36" height="7.42" fill="#526ca6"/>
<rect x="89.52" y="187.64" width="21.48" height="7.42" fill="#6478ab"/>
<rect x="110.70" y="187.64" width="7.36" height="7.42" fill="#526ca6"/>
<rect x="117.76" y="187.64" width="7.36" height="7.42" fill="#6478ab"/>
<rect x="124.82" y="187.64" width="21.48" height="7.42" fill="#526ca6"/>
<rect x="146.00" y="187.64" width="14.42" height="7.42" fill="#4160a5"/>
<rect x="160.12" y="187.64" width="14.42" height="7.42" fill="#6478ab"/>
<rect x="174.24" y="187.64" width="14.42" height="7.42" fill="#526ca6"/>
<rect x="386.04" y="187.64" width="14.42" height="7.42" fill="#6478ab"/>
<rect x="400.16" y="187.64" width="14.42" height="7.42" fill="#526ca6"/>
<rect x="414.28" y="187.64" width="7.36" height="7.42" fill="#4160a5"/>
<rect x="421.34" y="187.64" width="7.36" height="7.42" fill="#526ca6"/>
<rect x="428.40" y="187.64" width="7.36" height="7.42" fill="#6478ab"/>
<rect x="442.52" y="187.64" width="7.36" height="7.42" fill="#6478ab"/>
<rect x="449.58" y="187.64" width="14.42" height="7.42" fill="#4160a5"/>
<rect x="463.70" y="187.64" width="7.36" height="7.42" fill="#526ca6"/>
<rect x="470.76" y="187.64" width="7.36" height="7.42" fill="#6478ab"/>
<rect x="477.82" y="187.64" width="7.36" height="7.42" fill="#526ca6"/>
<rect x="484.88" y="187.64" width="14.42" height="7.42" fill="#4160a5"/>
<rect x="499.00" y="187.64" width="14.42" height="7.42" fill="#4a7db5"/>
<rect x="513.12" y="187.64" width="21.48" height="7.42" fill="#4160a5"/>
<rect x="534.30" y="187.64" width="21.48" height="7.42" fill="#4a7db5"/>
<rect x="555.48" y="187.64" width="7.36" height="7.42" fill="#4160a5"/>
<rect x="562.54" y="187.64" width="7.36" height="7.42" fill="#526ca6"/>
<rect x="569.60" y="187.64" width="14.42" height="7.42" fill="#4160a5"/>
<rect x="583.72" y="187.64" width="7.36" height="7.42" fill="#526ca6"/>
<rect x="590.78" y="187.64" width="7.36" height="7.42" fill="#4160a5"/>
<rect x="597.84" y="187.64" width="14.42" height="7.42" fill="#4a7db5"/>
<rect x="611.96" y="187.64" width="14.42" height="7.42" fill="#4160a5"/>
<rect x="626.08" y="187.64" width="14.42" height="7.42" fill="#526ca6"/>
<rect x="640.20" y="187.64" width="7.36" height="7.42" fill="#4a7db5"/>
<rect x="647.26" y="187.64" width="21.48" height="7.42" fill="#4160a5"/>
<rect x="668.44" y="187.64" width="7.36" height="7.42" fill="#4a7db5"/>
<rect x="675.50" y="187.64" width="14.42" height="7.42" fill="#4160a5"/>
<rect x="689.62" y="187.64" width="7.36" height="7.42" fill="#526ca6"/>
<rect x="696.68" y="187.64" width="7.36" height="7.42" fill="#4160a5"/>
<rect x="703.74" y="187.64" width="21.48" height="7.42" fill="#526ca6"/>
<rect x="724.92" y="187.64" width="14.42" height="7.42" fill="#4160a5"/>
<rect x="739.04" y="187.64" width="7.36" height="7.42" fill="#526ca6"/>
<rect x="746.10" y="187.64" width="70.90" height="7.42" fill="#4160a5"/>
<rect x="816.70" y="187.64" width="7.36" height="7.42" fill="#526ca6"/>
<rect x="823.76" y="187.64" width="7.36" height="7.42" fill="#4160a5"/>
<rect x="830.82" y="187.64" width="7.36" height="7.42" fill="#526ca6"/>
<rect x="837.88" y="187.64" width="7.36" height="7.42" fill="#6478ab"/>
<rect x="852.00" y="187.64" width="7.36" height="7.42" fill="#6478ab"/>
<rect x="859.06" y="187.64" width="49.72" height="7.42" fill="#526ca6"/>
<rect x="908.48" y="187.64" width="14.42" height="7.42" fill="#6478ab"/>
<rect x="922.60" y="187.64" width="7.36" height="7.42" fill="#526ca6"/>
<rect x="929.66" y="187.64" width="14.42" height="7.42" fill="#6478ab"/>
<rect x="943.78" y="187.64" width="7.36" height="7.42" fill="#526ca6"/>
<rect x="950.84" y="187.64" width="7.36" height="7.42" fill="#6478ab"/>
<rect x="957.90" y="187.64" width="42.66" height="7.42" fill="#526ca6"/>
<rect x="61.28" y="194.76" width="14.42" height="7.42" fill="#6478ab"/>
<rect x="75.40" y="194.76" width="14.42" height="7.42" fill="#526ca6"/>
<rect x="89.52" y="194.76" width="7.36" height="7.42" fill="#6478ab"/>
<rect x="96.58" y="194.76" width="21.48" height="7.42" fill="#526ca6"/>
<rect x="117.76" y="194.76" width="7.36" height="7.42" fill="#6478ab"/>
<rect x="124.82" y="194.76" width="21.48" height="7.42" fill="#526ca6"/>
<rect x="146.00" y="194.76" width="14.42" height="7.42" fill="#4160a5"/>
<rect x="160.12" y="194.76" width="14.42" height="7.42" fill="#6478ab"/>
<rect x="174.24" y="194.76" width="7.36" height="7.42" fill="#526ca6"/>
<rect x="181.30" y="194.76" width="7.36" height="7.42" fill="#6478ab"/>
<rect x="195.42" y="194.76" width="7.36" height="7.42" fill="#6478ab"/>
<rect x="386.04" y="194.76" width="21.48" height="7.42" fill="#6478ab"/>
<rect x="407.22" y="194.76" width="21.48" height="7.42" fill="#526ca6"/>
<rect x="442.52" y="194.76" width="7.36" height="7.42" fill="#6478ab"/>
<rect x="449.58" y="194.76" width="7.36" height="7.42" fill="#526ca6"/>
<rect x="456.64" y="194.76" width="7.36" height="7.42" fill="#4160a5"/>
<rect x="463.70" y="194.76" width="7.36" height="7.42" fill="#526ca6"/>
<rect x="470.76" y="194.76" width="7.36" height="7.42" fill="#6478ab"/>
<rect x="477.82" y="194.76" width="7.36" height="7.42" fill="#526ca6"/>
<rect x="484.88" y="194.76" width="56.78" height="7.42" fill="#4160a5"/>
<rect x="541.36" y="194.76" width="14.42" height="7.42" fill="#4a7db5"/>
<rect x="555.48" y="194.76" width="14.42" height="7.42" fill="#4160a5"/>
<rect x="569.60" y="194.76" width="21.48" height="7.42" fill="#526ca6"/>
<rect x="590.78" y="194.76" width="14.42" height="7.42" fill="#4160a5"/>
<rect x="604.90" y="194.76" width="7.36" height="7.42" fill="#4a7db5"/>
<rect x="611.96" y="194.76" width="14.42" height="7.42" fill="#4160a5"/>
<rect x="626.08" y="194.76" width="14.42" height="7.42" fill="#526ca6"/>
<rect x="640.20" y="194.76" width="14.42" height="7.42" fill="#4a7db5"/>
<rect x="654.32" y="194.76" width="7.36" height="7.42" fill="#4160a5"/>
<rect x="661.38" y="194.76" width="14.42" height="7.42" fill="#4a7db5"/>
<rect x="675.50" y="194.76" width="42.66" height="7.42" fill="#4160a5"/>
<rect x="717.86" y="194.76" width="7.36" height="7.42" fill="#526ca6"/>
<rect x="724.92" y="194.76" width="14.42" height="7.42" fill="#4160a5"/>
<rect x="739.04" y="194.76" width="7.36" height="7.42" fill="#526ca6"/>
<rect x="746.10" y="194.76" width="14.42" height="7.42" fill="#4160a5"/>
<rect x="760.22" y="194.76" width="7.36" height="7.42" fill="#4a7db5"/>
<rect x="767.28" y="194.76" width="49.72" height="7.42" fill="#4160a5"/>
<rect x="816.70" y="194.76" width="21.48" height="7.42" fill="#526ca6"/>
<rect x="837.88" y="194.76" width="7.36" height="7.42" fill="#6478ab"/>
<rect x="852.00" y="194.76" width="7.36" height="7.42" fill="#6478ab"/>
<rect x="859.06" y="194.76" width="49.72" height="7.42" fill="#526ca6"/>
<rect x="908.48" y="194.76" width="7.36" height="7.42" fill="#6478ab"/>
<rect x="915.54" y="194.76" width="14.42" height="7.42" fill="#526ca6"/>
<rect x="929.66" y="194.76" width="28.54" height="7.42" fill="#6478ab"/>
<rect x="957.90" y="194.76" width="42.66" height="7.42" fill="#526ca6"/>
<rect x="61.28" y="201.89" width="14.42" height="7.42" fill="#6478ab"/>
<rect x="75.40" y="201.89" width="7.36" height="7.42" fill="#526ca6"/>
<rect x="82.46" y="201.89" width="14.42" height="7.42" fill="#6478ab"/>
<rect x="96.58" y="201.89" width="21.48" height="7.42" fill="#526ca6"/>
<rect x="117.76" y="201.89" width="14.42" height="7.42" fill="#6478ab"/>
<rect x="131.88" y="201.89" width="28.54" height="7.42" fill="#526ca6"/>
<rect x="167.18" y="201.89" width="14.42" height="7.42" fill="#6478ab"/>
<rect x="188.36" y="201.89" width="14.42" height="7.42" fill="#6478ab"/>
<rect x="378.98" y="201.89" width="49.72" height="7.42" fill="#6478ab"/>
<rect x="435.46" y="201.89" width="21.48" height="7.42" fill="#6478ab"/>
<rect x="456.64" y="201.89" width="14.42" height="7.42" fill="#4160a5"/>
<rect x="470.76" y="201.89" width="14.42" height="7.42" fill="#526ca6"/>
<rect x="484.88" y="201.89" width="14.42" height="7.42" fill="#4160a5"/>
<rect x="499.00" y="201.89" width="14.42" height="7.42" fill="#526ca6"/>
<rect x="513.12" y="201.89" width="56.78" height="7.42" fill="#4160a5"/>
<rect x="569.60" y="201.89" width="14.42" height="7.42" fill="#526ca6"/>
<rect x="583.72" y="201.89" width="14.42" height="7.42" fill="#4160a5"/>
<rect x="597.84" y="201.89" width="14.42" height="7.42" fill="#4a7db5"/>
<rect x="611.96" y="201.89" width="28.54" height="7.42" fill="#4160a5"/>
<rect x="640.20" y="201.89" width="49.72" height="7.42" fill="#4a7db5"/>
<rect x="689.62" y="201.89" width="7.36" height="7.42" fill="#4160a5"/>
<rect x="696.68" y="201.89" width="7.36" height="7.42" fill="#4a7db5"/>
<rect x="703.74" y="201.89" width="7.36" height="7.42" fill="#4160a5"/>
<rect x="710.80" y="201.89" width="7.36" height="7.42" fill="#4a7db5"/>
<rect x="717.86" y="201.89" width="7.36" height="7.42" fill="#4160a5"/>
<rect x="724.92" y="201.89" width="7.36" height="7.42" fill="#4a7db5"/>
<rect x="731.98" y="201.89" width="7.36" height="7.42" fill="#4160a5"/>
<rect x="739.04" y="201.89" width="7.36" height="7.42" fill="#526ca6"/>
<rect x="746.10" y="201.89" width="14.42" height="7.42" fill="#4160a5"/>
<rect x="760.22" y="201.89" width="7.36" height="7.42" fill="#4a7db5"/>
<rect x="767.28" y="201.89" width="49.72" height="7.42" fill="#4160a5"/>
<rect x="816.70" y="201.89" width="14.42" height="7.42" fill="#526ca6"/>
<rect x="830.82" y="201.89" width="7.36" height="7.42" fill="#6478ab"/>
<rect x="844.94" y="201.89" width="7.36" height="7.42" fill="#6478ab"/>
<rect x="852.00" y="201.89" width="56.78" height="7.42" fill="#526ca6"/>
<rect x="908.48" y="201.89" width="7.36" height="7.42" fill="#6478ab"/>
<rect x="915.54" y="201.89" width="7.36" height="7.42" fill="#526ca6"/>
<rect x="922.60" y="201.89" width="35.60" height="7.42" fill="#6478ab"/>
<rect x="957.90" y="201.89" width="42.66" height="7.42" fill="#526ca6"/>
<rect x="61.28" y="209.01" width="21.48" height="7.42" fill="#526ca6"/>
<rect x="82.46" y="209.01" width="14.42" height="7.42" fill="#6478ab"/>
<rect x="96.58" y="209.01" width="21.48" height="7.42" fill="#526ca6"/>
<rect x="117.76" y="209.01" width="14.42" height="7.42" fill="#6478ab"/>
<rect x="131.88" y="209.01" width="14.42" height="7.42" fill="#526ca6"/>
<rect x="146.00" y="209.01" width="7.36" height="7.42" fill="#6478ab"/>
<rect x="160.12" y="209.01" width="21.48" height="7.42" fill="#526ca6"/>
<rect x="188.36" y="209.01" width="7.36" height="7.42" fill="#6478ab"/>
<rect x="386.04" y="209.01" width="35.60" height="7.42" fill="#6478ab"/>
<rect x="435.46" y="209.01" width="21.48" height="7.42" fill="#6478ab"/>
<rect x="456.64" y="209.01" width="7.36" height="7.42" fill="#526ca6"/>
<rect x="463.70" y="209.01" width="7.36" height="7.42" fill="#4160a5"/>
<rect x="470.76" y="209.01" width="7.36" height="7.42" fill="#526ca6"/>
<rect x="477.82" y="209.01" width="14.42" height="7.42" fill="#4160a5"/>
<rect x="491.94" y="209.01" width="7.36" height="7.42" fill="#526ca6"/>
<rect x="506.06" y="209.01" width="14.42" height="7.42" fill="#526ca6"/>
<rect x="520.18" y="209.01" width="28.54" height="7.42" fill="#4160a5"/>
<rect x="548.42" y="209.01" width="14.42" height="7.42" fill="#526ca6"/>
<rect x="562.54" y="209.01" width="28.54" height="7.42" fill="#4160a5"/>
<rect x="590.78" y="209.01" width="21.48" height="7.42" fill="#4a7db5"/>
<rect x="611.96" y="209.01" width="28.54" height="7.42" fill="#4160a5"/>
<rect x="640.20" y="209.01" width="35.60" height="7.42" fill="#4a7db5"/>
<rect x="675.50" y="209.01" width="7.36" height="7.42" fill="#5a9fc9"/>
<rect x="682.56" y="209.01" width="21.48" height="7.42" fill="#4a7db5"/>
<rect x="703.74" y="209.01" width="7.36" height="7.42" fill="#4160a5"/>
<rect x="710.80" y="209.01" width="21.48" height="7.42" fill="#4a7db5"/>
<rect x="731.98" y="209.01" width="28.54" height="7.42" fill="#4160a5"/>
<rect x="760.22" y="209.01" width="7.36" height="7.42" fill="#4a7db5"/>
<rect x="767.28" y="209.01" width="56.78" height="7.42" fill="#4160a5"/>
<rect x="823.76" y="209.01" width="7.36" height="7.42" fill="#526ca6"/>
<rect x="830.82" y="209.01" width="7.36" height="7.42" fill="#6478ab"/>
<rect x="844.94" y="209.01" width="7.36" height="7.42" fill="#6478ab"/>
<rect x="852.00" y="209.01" width="56.78" height="7.42" fill="#526ca6"/>
<rect x="908.48" y="209.01" width="7.36" height="7.42" fill="#6478ab"/>
<rect x="915.54" y="209.01" width="7.36" height="7.42" fill="#526ca6"/>
<rect x="922.60" y="209.01" width="35.60" height="7.42" fill="#6478ab"/>
<rect x="957.90" y="209.01" width="21.48" height="7.42" fill="#526ca6"/>
<rect x="979.08" y="209.01" width="7.36" height="7.42" fill="#6478ab"/>
<rect x="986.14" y="209.01" width="14.42" height="7.42" fill="#526ca6"/>
<rect x="61.28" y="216.13" width="14.42" height="7.42" fill="#4160a5"/>
<rect x="75.40" y="216.13" width="14.42" height="7.42" fill="#526ca6"/>
<rect x="89.52" y="216.13" width="7.36" height="7.42" fill="#6478ab"/>
<rect x="96.58" y="216.13" width="14.42" height="7.42" fill="#526ca6"/>
<rect x="110.70" y="216.13" width="21.48" height="7.42" fill="#6478ab"/>
<rect x="131.88" y="216.13" width="14.42" height="7.42" fill="#526ca6"/>
<rect x="146.00" y="216.13" width="7.36" height="7.42" fill="#6478ab"/>
<rect x="160.12" y="216.13" width="7.36" height="7.42" fill="#4160a5"/>
<rect x="167.18" y="216.13" width="7.36" height="7.42" fill="#526ca6"/>
<rect x="174.24" y="216.13" width="7.36" height="7.42" fill="#4160a5"/>
<rect x="181.30" y="216.13" width="7.36" height="7.42" fill="#6478ab"/>
<rect x="386.04" y="216.13" width="21.48" height="7.42" fill="#6478ab"/>
<rect x="407.22" y="216.13" width="7.36" height="7.42" fill="#526ca6"/>
<rect x="414.28" y="216.13" width="7.36" height="7.42" fill="#6478ab"/>
<rect x="428.40" y="216.13" width="21.48" height="7.42" fill="#6478ab"/>
<rect x="456.64" y="216.13" width="7.36" height="7.42" fill="#6478ab"/>
<rect x="463.70" y="216.13" width="28.54" height="7.42" fill="#4160a5"/>
<rect x="491.94" y="216.13" width="7.36" height="7.42" fill="#526ca6"/>
<rect x="506.06" y="216.13" width="7.36" height="7.42" fill="#6478ab"/>
<rect x="520.18" y="216.13" width="7.36" height="7.42" fill="#526ca6"/>
<rect x="527.24" y="216.13" width="14.42" height="7.42" fill="#4160a5"/>
<rect x="541.36" y="216.13" width="21.48" height="7.42" fill="#526ca6"/>
<rect x="562.54" y="216.13" width="28.54" height="7.42" fill="#4160a5"/>
<rect x="590.78" y="216.13" width="28.54" height="7.42" fill="#4a7db5"/>
<rect x="619.02" y="216.13" width="14.42" height="7.42" fill="#4160a5"/>
<rect x="633.14" y="216.13" width="42.66" height="7.42" fill="#4a7db5"/>
<rect x="675.50" y="216.13" width="7.36" height="7.42" fill="#5a9fc9"/>
<rect x="682.56" y="216.13" width="7.36" height="7.42" fill="#4a7db5"/>
<rect x="689.62" y="216.13" width="7.36" height="7.42" fill="#5a9fc9"/>
<rect x="696.68" y="216.13" width="7.36" height="7.42" fill="#4a7db5"/>
<rect x="703.74" y="216.13" width="7.36" height="7.42" fill="#4160a5"/>
<rect x="710.80" y="216.13" width="21.48" height="7.42" fill="#4a7db5"/>
<rect x="731.98" y="216.13" width="14.42" height="7.42" fill="#4160a5"/>
<rect x="746.10" y="216.13" width="14.42" height="7.42" fill="#4a7db5"/>
<rect x="760.22" y="216.13" width="28.54" height="7.42" fill="#4160a5"/>
<rect x="788.46" y="216.13" width="7.36" height="7.42" fill="#526ca6"/>
<rect x="795.52" y="216.13" width="7.36" height="7.42" fill="#4160a5"/>
<rect x="802.58" y="216.13" width="7.36" height="7.42" fill="#526ca6"/>
<rect x="809.64" y="216.13" width="14.42" height="7.42" fill="#4160a5"/>
<rect x="823.76" y="216.13" width="14.42" height="7.42" fill="#526ca6"/>
<rect x="837.88" y="216.13" width="14.42" height="7.42" fill="#6478ab"/>
<rect x="852.00" y="216.13" width="56.78" height="7.42" fill="#526ca6"/>
<rect x="908.48" y="216.13" width="7.36" height="7.42" fill="#6478ab"/>
<rect x="915.54" y="216.13" width="7.36" height="7.42" fill="#526ca6"/>
<rect x="922.60" y="216.13" width="28.54" height="7.42" fill="#6478ab"/>
<rect x="950.84" y="216.13" width="28.54" height="7.42" fill="#526ca6"/>
<rect x="979.08" y="216.13" width="7.36" height="7.42" fill="#6478ab"/>
<rect x="986.14" y="216.13" width="14.42" height="7.42" fill="#526ca6"/>
<rect x="61.28" y="223.26" width="21.48" height="7.42" fill="#4160a5"/>
<rect x="82.46" y="223.26" width="28.54" height="7.42" fill="#526ca6"/>
<rect x="110.70" y="223.26" width="21.48" height="7.42" fill="#6478ab"/>
<rect x="131.88" y="223.26" width="28.54" height="7.42" fill="#526ca6"/>
<rect x="160.12" y="223.26" width="7.36" height="7.42" fill="#4160a5"/>
<rect x="167.18" y="223.26" width="14.42" height="7.42" fill="#526ca6"/>
<rect x="181.30" y="223.26" width="7.36" height="7.42" fill="#6478ab"/>
<rect x="386.04" y="223.26" width="14.42" height="7.42" fill="#6478ab"/>
<rect x="400.16" y="223.26" width="14.42" height="7.42" fill="#526ca6"/>
<rect x="414.28" y="223.26" width="7.36" height="7.42" fill="#6478ab"/>
<rect x="428.40" y="223.26" width="14.42" height="7.42" fill="#6478ab"/>
<rect x="456.64" y="223.26" width="7.36" height="7.42" fill="#6478ab"/>
<rect x="463.70" y="223.26" width="21.48" height="7.42" fill="#4160a5"/>
<rect x="484.88" y="223.26" width="7.36" height="7.42" fill="#526ca6"/>
<rect x="499.00" y="223.26" width="7.36" height="7.42" fill="#6478ab"/>
<rect x="513.12" y="223.26" width="7.36" height="7.42" fill="#6478ab"/>
<rect x="520.18" y="223.26" width="42.66" height="7.42" fill="#526ca6"/>
<rect x="562.54" y="223.26" width="7.36" height="7.42" fill="#4160a5"/>
<rect x="569.60" y="223.26" width="7.36" height="7.42" fill="#526ca6"/>
<rect x="576.66" y="223.26" width="14.42" height="7.42" fill="#4160a5"/>
<rect x="590.78" y="223.26" width="63.84" height="7.42" fill="#4a7db5"/>
<rect x="654.32" y="223.26" width="7.36" height="7.42" fill="#4160a5"/>
<rect x="661.38" y="223.26" width="14.42" height="7.42" fill="#4a7db5"/>
<rect x="675.50" y="223.26" width="7.36" height="7.42" fill="#5a9fc9"/>
<rect x="682.56" y="223.26" width="7.36" height="7.42" fill="#4a7db5"/>
<rect x="689.62" y="223.26" width="14.42" height="7.42" fill="#5a9fc9"/>
<rect x="703.74" y="223.26" width="28.54" height="7.42" fill="#4a7db5"/>
<rect x="731.98" y="223.26" width="14.42" height="7.42" fill="#4160a5"/>
<rect x="746.10" y="223.26" width="14.42" height="7.42" fill="#4a7db5"/>
<rect x="760.22" y="223.26" width="28.54" height="7.42" fill="#4160a5"/>
<rect x="788.46" y="223.26" width="7.36" height="7.42" fill="#526ca6"/>
<rect x="795.52" y="223.26" width="28.54" height="7.42" fill="#4160a5"/>
<rect x="823.76" y="223.26" width="14.42" height="7.42" fill="#526ca6"/>
<rect x="837.88" y="223.26" width="14.42" height="7.42" fill="#6478ab"/>
<rect x="852.00" y="223.26" width="56.78" height="7.42" fill="#526ca6"/>
<rect x="908.48" y="223.26" width="7.36" height="7.42" fill="#6478ab"/>
<rect x="915.54" y="223.26" width="7.36" height="7.42" fill="#526ca6"/>
<rect x="922.60" y="223.26" width="28.54" height="7.42" fill="#6478ab"/>
<rect x="950.84" y="223.26" width="14.42" height="7.42" fill="#526ca6"/>
<rect x="964.96" y="223.26" width="7.36" height="7.42" fill="#6478ab"/>
<rect x="972.02" y="223.26" width="7.36" height="7.42" fill="#526ca6"/>
<rect x="979.08" y="223.26" width="7.36" height="7.42" fill="#6478ab"/>
<rect x="986.14" y="223.26" width="14.42" height="7.42" fill="#526ca6"/>
<rect x="61.28" y="230.38" width="21.48" height="7.42" fill="#4160a5"/>
<rect x="82.46" y="230.38" width="35.60" height="7.42" fill="#526ca6"/>
<rect x="117.76" y="230.38" width="7.36" height="7.42" fill="#6478ab"/>
<rect x="131.88" y="230.38" width="35.60" height="7.42" fill="#526ca6"/>
<rect x="167.18" y="230.38" width="7.36" height="7.42" fill="#6478ab"/>
<rect x="378.98" y="230.38" width="21.48" height="7.42" fill="#6478ab"/>
<rect x="400.16" y="230.38" width="21.48" height="7.42" fill="#526ca6"/>
<rect x="421.34" y="230.38" width="21.48" height="7.42" fill="#6478ab"/>
<rect x="449.58" y="230.38" width="14.42" height="7.42" fill="#6478ab"/>
<rect x="463.70" y="230.38" width="7.36" height="7.42" fill="#526ca6"/>
<rect x="470.76" y="230.38" width="7.36" height="7.42" fill="#4160a5"/>
<rect x="477.82" y="230.38" width="7.36" height="7.42" fill="#526ca6"/>
<rect x="484.88" y="230.38" width="7.36" height="7.42" fill="#6478ab"/>
<rect x="499.00" y="230.38" width="7.36" height="7.42" fill="#6478ab"/>
<rect x="513.12" y="230.38" width="14.42" height="7.42" fill="#6478ab"/>
<rect x="527.24" y="230.38" width="49.72" height="7.42" fill="#526ca6"/>
<rect x="576.66" y="230.38" width="7.36" height="7.42" fill="#4160a5"/>
<rect x="583.72" y="230.38" width="7.36" height="7.42" fill="#526ca6"/>
<rect x="590.78" y="230.38" width="21.48" height="7.42" fill="#4160a5"/>
<rect x="611.96" y="230.38" width="21.48" height="7.42" fill="#4a7db5"/>
<rect x="633.14" y="230.38" width="7.36" height="7.42" fill="#4160a5"/>
<rect x="640.20" y="230.38" width="14.42" height="7.42" fill="#4a7db5"/>
<rect x="654.32" y="230.38" width="7.36" height="7.42" fill="#4160a5"/>
<rect x="661.38" y="230.38" width="28.54" height="7.42" fill="#4a7db5"/>
<rect x="689.62" y="230.38" width="14.42" height="7.42" fill="#5a9fc9"/>
<rect x="703.74" y="230.38" width="28.54" height="7.42" fill="#4a7db5"/>
<rect x="731.98" y="230.38" width="14.42" height="7.42" fill="#4160a5"/>
<rect x="746.10" y="230.38" width="14.42" height="7.42" fill="#4a7db5"/>
<rect x="760.22" y="230.38" width="7.36" height="7.42" fill="#4160a5"/>
<rect x="767.28" y="230.38" width="7.36" height="7.42" fill="#526ca6"/>
<rect x="774.34" y="230.38" width="14.42" height="7.42" fill="#4160a5"/>
<rect x="788.46" y="230.38" width="7.36" height="7.42" fill="#526ca6"/>
<rect x="795.52" y="230.38" width="14.42" height="7.42" fill="#4160a5"/>
<rect x="809.64" y="230.38" width="7.36" height="7.42" fill="#526ca6"/>
<rect x="816.70" y="230.38" width="7.36" height="7.42" fill="#4160a5"/>
<rect x="823.76" y="230.38" width="14.42" height="7.42" fill="#526ca6"/>
<rect x="837.88" y="230.38" width="14.42" height="7.42" fill="#6478ab"/>
<rect x="852.00" y="230.38" width="56.78" height="7.42" fill="#526ca6"/>
<rect x="908.48" y="230.38" width="7.36" height="7.42" fill="#6478ab"/>
<rect x="915.54" y="230.38" width="21.48" height="7.42" fill="#526ca6"/>
<rect x="936.72" y="230.38" width="14.42" height="7.42" fill="#6478ab"/>
<rect x="950.84" y="230.38" width="14.42" height="7.42" fill="#526ca6"/>
<rect x="964.96" y="230.38" width="7.36" height="7.42" fill="#6478ab"/>
<rect x="972.02" y="230.38" width="7.36" height="7.42" fill="#526ca6"/>
<rect x="979.08" y="230.38" width="14.42" height="7.42" fill="#6478ab"/>
<rect x="993.20" y="230.38" width="7.36" height="7.42" fill="#526ca6"/>
<rect x="61.28" y="237.50" width="14.42" height="7.42" fill="#526ca6"/>
<rect x="75.40" y="237.50" width="14.42" height="7.42" fill="#4160a5"/>
<rect x="89.52" y="237.50" width="28.54" height="7.42" fill="#526ca6"/>
<rect x="124.82" y="237.50" width="7.36" height="7.42" fill="#526ca6"/>
<rect x="131.88" y="237.50" width="14.42" height="7.42" fill="#4160a5"/>
<rect x="146.00" y="237.50" width="7.36" height="7.42" fill="#526ca6"/>
<rect x="153.06" y="237.50" width="21.48" height="7.42" fill="#6478ab"/>
<rect x="181.30" y="237.50" width="7.36" height="7.42" fill="#6478ab"/>
<rect x="386.04" y="237.50" width="21.48" height="7.42" fill="#6478ab"/>
<rect x="407.22" y="237.50" width="21.48" height="7.42" fill="#526ca6"/>
<rect x="428.40" y="237.50" width="14.42" height="7.42" fill="#6478ab"/>
<rect x="449.58" y="237.50" width="14.42" height="7.42" fill="#6478ab"/>
<rect x="463.70" y="237.50" width="28.54" height="7.42" fill="#526ca6"/>
<rect x="513.12" y="237.50" width="14.42" height="7.42" fill="#6478ab"/>
<rect x="527.24" y="237.50" width="49.72" height="7.42" fill="#526ca6"/>
<rect x="576.66" y="237.50" width="7.36" height="7.42" fill="#4160a5"/>
<rect x="583.72" y="237.50" width="7.36" height="7.42" fill="#526ca6"/>
<rect x="590.78" y="237.50" width="21.48" height="7.42" fill="#4160a5"/>
<rect x="611.96" y="237.50" width="14.42" height="7.42" fill="#4a7db5"/>
<rect x="626.08" y="237.50" width="7.36" height="7.42" fill="#526ca6"/>
<rect x="640.20" y="237.50" width="14.42" height="7.42" fill="#4a7db5"/>
<rect x="654.32" y="237.50" width="7.36" height="7.42" fill="#4160a5"/>
<rect x="661.38" y="237.50" width="7.36" height="7.42" fill="#4a7db5"/>
<rect x="668.44" y="237.50" width="7.36" height="7.42" fill="#4160a5"/>
<rect x="675.50" y="237.50" width="21.48" height="7.42" fill="#4a7db5"/>
<rect x="696.68" y="237.50" width="7.36" height="7.42" fill="#5a9fc9"/>
<rect x="703.74" y="237.50" width="28.54" height="7.42" fill="#4a7db5"/>
<rect x="731.98" y="237.50" width="14.42" height="7.42" fill="#4160a5"/>
<rect x="746.10" y="237.50" width="14.42" height="7.42" fill="#4a7db5"/>
<rect x="760.22" y="237.50" width="7.36" height="7.42" fill="#4160a5"/>
<rect x="767.28" y="237.50" width="7.36" height="7.42" fill="#526ca6"/>
<rect x="774.34" y="237.50" width="14.42" height="7.42" fill="#4160a5"/>
<rect x="788.46" y="237.50" width="7.36" height="7.42" fill="#526ca6"/>
<rect x="795.52" y="237.50" width="14.42" height="7.42" fill="#4160a5"/>
<rect x="809.64" y="237.50" width="7.36" height="7.42" fill="#526ca6"/>
<rect x="816.70" y="237.50" width="7.36" height="7.42" fill="#4160a5"/>
<rect x="823.76" y="237.50" width="85.02" height="7.42" fill="#526ca6"/>
<rect x="908.48" y="237.50" width="7.36" height="7.42" fill="#6478ab"/>
<rect x="915.54" y="237.50" width="14.42" height="7.42" fill="#526ca6"/>
<rect x="929.66" y="237.50" width="21.48" height="7.42" fill="#6478ab"/>
<rect x="950.84" y="237.50" width="7.36" height="7.42" fill="#526ca6"/>
<rect x="957.90" y="237.50" width="14.42" height="7.42" fill="#6478ab"/>
<rect x="972.02" y="237.50" width="7.36" height="7.42" fill="#526ca6"/>
<rect x="979.08" y="237.50" width="14.42" height="7.42" fill="#6478ab"/>
<rect x="993.20" y="237.50" width="7.36" height="7.42" fill="#526ca6"/>
<rect x="61.28" y="244.62" width="14.42" height="7.42" fill="#526ca6"/>
<rect x="75.40" y="244.62" width="14.42" height="7.42" fill="#4160a5"/>
<rect x="89.52" y="244.62" width="21.48" height="7.42" fill="#526ca6"/>
<rect x="110.70" y="244.62" width="35.60" height="7.42" fill="#4160a5"/>
<rect x="146.00" y="244.62" width="7.36" height="7.42" fill="#526ca6"/>
<rect x="160.12" y="244.62" width="7.36" height="7.42" fill="#6478ab"/>
<rect x="174.24" y="244.62" width="7.36" height="7.42" fill="#6478ab"/>
<rect x="181.30" y="244.62" width="7.36" height="7.42" fill="#526ca6"/>
<rect x="188.36" y="244.62" width="14.42" height="7.42" fill="#6478ab"/>
<rect x="414.28" y="244.62" width="21.48" height="7.42" fill="#6478ab"/>
<rect x="442.52" y="244.62" width="7.36" height="7.42" fill="#6478ab"/>
<rect x="463.70" y="244.62" width="14.42" height="7.42" fill="#6478ab"/>
<rect x="477.82" y="244.62" width="7.36" height="7.42" fill="#526ca6"/>
<rect x="484.88" y="244.62" width="7.36" height="7.42" fill="#6478ab"/>
<rect x="520.18" y="244.62" width="28.54" height="7.42" fill="#6478ab"/>
<rect x="548.42" y="244.62" width="21.48" height="7.42" fill="#526ca6"/>
<rect x="569.60" y="244.62" width="14.42" height="7.42" fill="#4160a5"/>
<rect x="583.72" y="244.62" width="7.36" height="7.42" fill="#6478ab"/>
<rect x="590.78" y="244.62" width="21.48" height="7.42" fill="#4160a5"/>
<rect x="611.96" y="244.62" width="14.42" height="7.42" fill="#4a7db5"/>
<rect x="633.14" y="244.62" width="7.36" height="7.42" fill="#526ca6"/>
<rect x="640.20" y="244.62" width="14.42" height="7.42" fill="#4a7db5"/>
<rect x="654.32" y="244.62" width="7.36" height="7.42" fill="#4160a5"/>
<rect x="661.38" y="244.62" width="7.36" height="7.42" fill="#4a7db5"/>
<rect x="668.44" y="244.62" width="7.36" height="7.42" fill="#4160a5"/>
<rect x="675.50" y="244.62" width="49.72" height="7.42" fill="#4a7db5"/>
<rect x="724.92" y="244.62" width="42.66" height="7.42" fill="#4160a5"/>
<rect x="767.28" y="244.62" width="14.42" height="7.42" fill="#526ca6"/>
<rect x="781.40" y="244.62" width="7.36" height="7.42" fill="#4160a5"/>
<rect x="788.46" y="244.62" width="7.36" height="7.42" fill="#526ca6"/>
<rect x="795.52" y="244.62" width="14.42" height="7.42" fill="#4160a5"/>
<rect x="809.64" y="244.62" width="99.14" height="7.42" fill="#526ca6"/>
<rect x="908.48" y="244.62" width="7.36" height="7.42" fill="#6478ab"/>
<rect x="915.54" y="244.62" width="21.48" height="7.42" fill="#526ca6"/>
<rect x="936.72" y="244.62" width="14.42" height="7.42" fill="#6478ab"/>
<rect x="950.84" y="244.62" width="7.36" height="7.42" fill="#526ca6"/>
<rect x="957.90" y="244.62" width="14.42" height="7.42" fill="#6478ab"/>
<rect x="972.02" y="244.62" width="7.36" height="7.42" fill="#526ca6"/>
<rect x="979.08" y="244.62" width="21.48" height="7.42" fill="#6478ab"/>
<rect x="61.28" y="251.75" width="14.42" height="7.42" fill="#526ca6"/>
<rect x="75.40" y="251.75" width="14.42" height="7.42" fill="#4160a5"/>
<rect x="89.52" y="251.75" width="21.48" height="7.42" fill="#526ca6"/>
<rect x="110.70" y="251.75" width="7.36" height="7.42" fill="#4160a5"/>
<rect x="117.76" y="251.75" width="14.42" height="7.42" fill="#4a7db5"/>
<rect x="131.88" y="251.75" width="14.42" height="7.42" fill="#4160a5"/>
<rect x="146.00" y="251.75" width="7.36" height="7.42" fill="#6478ab"/>
<rect x="160.12" y="251.75" width="7.36" height="7.42" fill="#6478ab"/>
<rect x="174.24" y="251.75" width="21.48" height="7.42" fill="#6478ab"/>
<rect x="202.48" y="251.75" width="7.36" height="7.42" fill="#6478ab"/>
<rect x="407.22" y="251.75" width="42.66" height="7.42" fill="#6478ab"/>
<rect x="477.82" y="251.75" width="7.36" height="7.42" fill="#6478ab"/>
<rect x="527.24" y="251.75" width="7.36" height="7.42" fill="#6478ab"/>
<rect x="541.36" y="251.75" width="14.42" height="7.42" fill="#6478ab"/>
<rect x="555.48" y="251.75" width="28.54" height="7.42" fill="#526ca6"/>
<rect x="583.72" y="251.75" width="7.36" height="7.42" fill="#6478ab"/>
<rect x="590.78" y="251.75" width="21.48" height="7.42" fill="#4160a5"/>
<rect x="611.96" y="251.75" width="7.36" height="7.42" fill="#4a7db5"/>
<rect x="619.02" y="251.75" width="7.36" height="7.42" fill="#4160a5"/>
<rect x="633.14" y="251.75" width="7.36" height="7.42" fill="#4160a5"/>
<rect x="640.20" y="251.75" width="35.60" height="7.42" fill="#4a7db5"/>
<rect x="675.50" y="251.75" width="7.36" height="7.42" fill="#4160a5"/>
<rect x="682.56" y="251.75" width="42.66" height="7.42" fill="#4a7db5"/>
<rect x="724.92" y="251.75" width="35.60" height="7.42" fill="#4160a5"/>
<rect x="760.22" y="251.75" width="7.36" height="7.42" fill="#526ca6"/>
<rect x="767.28" y="251.75" width="21.48" height="7.42" fill="#4160a5"/>
<rect x="788.46" y="251.75" width="7.36" height="7.42" fill="#526ca6"/>
<rect x="795.52" y="251.75" width="14.42" height="7.42" fill="#4160a5"/>
<rect x="809.64" y="251.75" width="7.36" height="7.42" fill="#526ca6"/>
<rect x="816.70" y="251.75" width="7.36" height="7.42" fill="#4160a5"/>
<rect x="823.76" y="251.75" width="35.60" height="7.42" fill="#526ca6"/>
<rect x="859.06" y="251.75" width="7.36" height="7.42" fill="#4160a5"/>
<rect x="866.12" y="251.75" width="70.90" height="7.42" fill="#526ca6"/>
<rect x="936.72" y="251.75" width="7.36" height="7.42" fill="#6478ab"/>
<rect x="950.84" y="251.75" width="14.42" height="7.42" fill="#6478ab"/>
<rect x="964.96" y="251.75" width="21.48" height="7.42" fill="#526ca6"/>
<rect x="986.14" y="251.75" width="14.42" height="7.42" fill="#6478ab"/>
<rect x="61.28" y="258.87" width="7.36" height="7.42" fill="#6478ab"/>
<rect x="68.34" y="258.87" width="7.36" height="7.42" fill="#526ca6"/>
<rect x="75.40" y="258.87" width="21.48" height="7.42" fill="#4160a5"/>
<rect x="96.58" y="258.87" width="7.36" height="7.42" fill="#526ca6"/>
<rect x="103.64" y="258.87" width="14.42" height="7.42" fill="#4160a5"/>
<rect x="117.76" y="258.87" width="14.42" height="7.42" fill="#4a7db5"/>
<rect x="131.88" y="258.87" width="14.42" height="7.42" fill="#4160a5"/>
<rect x="146.00" y="258.87" width="7.36" height="7.42" fill="#526ca6"/>
<rect x="153.06" y="258.87" width="14.42" height="7.42" fill="#6478ab"/>
<rect x="181.30" y="258.87" width="7.36" height="7.42" fill="#6478ab"/>
<rect x="202.48" y="258.87" width="7.36" height="7.42" fill="#6478ab"/>
<rect x="400.16" y="258.87" width="28.54" height="7.42" fill="#6478ab"/>
<rect x="435.46" y="258.87" width="14.42" height="7.42" fill="#6478ab"/>
<rect x="520.18" y="258.87" width="7.36" height="7.42" fill="#6478ab"/>
<rect x="555.48" y="258.87" width="28.54" height="7.42" fill="#6478ab"/>
<rect x="583.72" y="258.87" width="7.36" height="7.42" fill="#526ca6"/>
<rect x="590.78" y="258.87" width="14.42" height="7.42" fill="#4160a5"/>
<rect x="604.90" y="258.87" width="7.36" height="7.42" fill="#526ca6"/>
<rect x="611.96" y="258.87" width="7.36" height="7.42" fill="#4160a5"/>
<rect x="619.02" y="258.87" width="7.36" height="7.42" fill="#4a7db5"/>
<rect x="626.08" y="258.87" width="7.36" height="7.42" fill="#526ca6"/>
<rect x="633.14" y="258.87" width="42.66" height="7.42" fill="#4a7db5"/>
<rect x="675.50" y="258.87" width="7.36" height="7.42" fill="#4160a5"/>
<rect x="682.56" y="258.87" width="21.48" height="7.42" fill="#4a7db5"/>
<rect x="703.74" y="258.87" width="7.36" height="7.42" fill="#4160a5"/>
<rect x="710.80" y="258.87" width="7.36" height="7.42" fill="#4a7db5"/>
<rect x="717.86" y="258.87" width="35.60" height="7.42" fill="#4160a5"/>
<rect x="753.16" y="258.87" width="14.42" height="7.42" fill="#526ca6"/>
<rect x="767.28" y="258.87" width="42.66" height="7.42" fill="#4160a5"/>
<rect x="809.64" y="258.87" width="7.36" height="7.42" fill="#526ca6"/>
<rect x="816.70" y="258.87" width="7.36" height="7.42" fill="#4160a5"/>
<rect x="823.76" y="258.87" width="7.36" height="7.42" fill="#526ca6"/>
<rect x="830.82" y="258.87" width="14.42" height="7.42" fill="#4160a5"/>
<rect x="844.94" y="258.87" width="7.36" height="7.42" fill="#526ca6"/>
<rect x="852.00" y="258.87" width="21.48" height="7.42" fill="#4160a5"/>
<rect x="873.18" y="258.87" width="42.66" height="7.42" fill="#526ca6"/>
<rect x="915.54" y="258.87" width="7.36" height="7.42" fill="#6478ab"/>
<rect x="922.60" y="258.87" width="14.42" height="7.42" fill="#526ca6"/>
<rect x="936.72" y="258.87" width="14.42" height="7.42" fill="#6478ab"/>
<rect x="950.84" y="258.87" width="7.36" height="7.42" fill="#526ca6"/>
<rect x="957.90" y="258.87" width="14.42" height="7.42" fill="#6478ab"/>
<rect x="972.02" y="258.87" width="21.48" height="7.42" fill="#526ca6"/>
<rect x="993.20" y="258.87" width="7.36" height="7.42" fill="#6478ab"/>
<rect x="61.28" y="265.99" width="14.42" height="7.42" fill="#6478ab"/>
<rect x="75.40" y="265.99" width="7.36" height="7.42" fill="#526ca6"/>
<rect x="82.46" y="265.99" width="35.60" height="7.42" fill="#4160a5"/>
<rect x="117.76" y="265.99" width="7.36" height="7.42" fill="#4a7db5"/>
<rect x="124.82" y="265.99" width="21.48" height="7.42" fill="#4160a5"/>
<rect x="146.00" y="265.99" width="7.36" height="7.42" fill="#526ca6"/>
<rect x="153.06" y="265.99" width="14.42" height="7.42" fill="#6478ab"/>
<rect x="188.36" y="265.99" width="14.42" height="7.42" fill="#6478ab"/>
<rect x="400.16" y="265.99" width="21.48" height="7.42" fill="#6478ab"/>
<rect x="428.40" y="265.99" width="14.42" height="7.42" fill="#6478ab"/>
<rect x="520.18" y="265.99" width="7.36" height="7.42" fill="#6478ab"/>
<rect x="555.48" y="265.99" width="7.36" height="7.42" fill="#6478ab"/>
<rect x="583.72" y="265.99" width="7.36" height="7.42" fill="#6478ab"/>
<rect x="590.78" y="265.99" width="21.48" height="7.42" fill="#526ca6"/>
<rect x="611.96" y="265.99" width="21.48" height="7.42" fill="#4160a5"/>
<rect x="633.14" y="265.99" width="7.36" height="7.42" fill="#4a7db5"/>
<rect x="640.20" y="265.99" width="7.36" height="7.42" fill="#4160a5"/>
<rect x="647.26" y="265.99" width="28.54" height="7.42" fill="#4a7db5"/>
<rect x="675.50" y="265.99" width="7.36" height="7.42" fill="#4160a5"/>
<rect x="682.56" y="265.99" width="7.36" height="7.42" fill="#4a7db5"/>
<rect x="689.62" y="265.99" width="7.36" height="7.42" fill="#4160a5"/>
<rect x="696.68" y="265.99" width="7.36" height="7.42" fill="#4a7db5"/>
<rect x="703.74" y="265.99" width="21.48" height="7.42" fill="#4160a5"/>
<rect x="724.92" y="265.99" width="7.36" height="7.42" fill="#4a7db5"/>
<rect x="731.98" y="265.99" width="28.54" height="7.42" fill="#4160a5"/>
<rect x="760.22" y="265.99" width="7.36" height="7.42" fill="#526ca6"/>
<rect x="767.28" y="265.99" width="42.66" height="7.42" fill="#4160a5"/>
<rect x="809.64" y="265.99" width="7.36" height="7.42" fill="#526ca6"/>
<rect x="816.70" y="265.99" width="28.54" height="7.42" fill="#4160a5"/>
<rect x="844.94" y="265.99" width="7.36" height="7.42" fill="#526ca6"/>
<rect x="852.00" y="265.99" width="21.48" height="7.42" fill="#4160a5"/>
<rect x="873.18" y="265.99" width="56.78" height="7.42" fill="#526ca6"/>
<rect x="929.66" y="265.99" width="7.36" height="7.42" fill="#6478ab"/>
<rect x="943.78" y="265.99" width="7.36" height="7.42" fill="#6478ab"/>
<rect x="950.84" y="265.99" width="21.48" height="7.42" fill="#526ca6"/>
<rect x="972.02" y="265.99" width="7.36" height="7.42" fill="#6478ab"/>
<rect x="979.08" y="265.99" width="14.42" height="7.42" fill="#526ca6"/>
<rect x="993.20" y="265.99" width="7.36" height="7.42" fill="#6478ab"/>
<rect x="61.28" y="273.12" width="14.42" height="7.42" fill="#6478ab"/>
<rect x="75.40" y="273.12" width="7.36" height="7.42" fill="#526ca6"/>
<rect x="82.46" y="273.12" width="63.84" height="7.42" fill="#4160a5"/>
<rect x="146.00" y="273.12" width="7.36" height="7.42" fill="#526ca6"/>
<rect x="153.06" y="273.12" width="7.36" height="7.42" fill="#6478ab"/>
<rect x="160.12" y="273.12" width="7.36" height="7.42" fill="#526ca6"/>
<rect x="167.18" y="273.12" width="7.36" height="7.42" fill="#6478ab"/>
<rect x="181.30" y="273.12" width="7.36" height="7.42" fill="#6478ab"/>
<rect x="414.28" y="273.12" width="7.36" height="7.42" fill="#6478ab"/>
<rect x="428.40" y="273.12" width="7.36" height="7.42" fill="#6478ab"/>
<rect x="442.52" y="273.12" width="14.42" height="7.42" fill="#6478ab"/>
<rect x="520.18" y="273.12" width="7.36" height="7.42" fill="#6478ab"/>
<rect x="555.48" y="273.12" width="7.36" height="7.42" fill="#6478ab"/>
<rect x="597.84" y="273.12" width="7.36" height="7.42" fill="#6478ab"/>
<rect x="604.90" y="273.12" width="7.36" height="7.42" fill="#526ca6"/>
<rect x="611.96" y="273.12" width="21.48" height="7.42" fill="#4160a5"/>
<rect x="633.14" y="273.12" width="7.36" height="7.42" fill="#4a7db5"/>
<rect x="640.20" y="273.12" width="7.36" height="7.42" fill="#4160a5"/>
<rect x="647.26" y="273.12" width="28.54" height="7.42" fill="#4a7db5"/>
<rect x="675.50" y="273.12" width="21.48" height="7.42" fill="#4160a5"/>
<rect x="696.68" y="273.12" width="7.36" height="7.42" fill="#4a7db5"/>
<rect x="703.74" y="273.12" width="28.54" height="7.42" fill="#4160a5"/>
<rect x="731.98" y="273.12" width="14.42" height="7.42" fill="#4a7db5"/>
<rect x="746.10" y="273.12" width="7.36" height="7.42" fill="#4160a5"/>
<rect x="753.16" y="273.12" width="14.42" height="7.42" fill="#526ca6"/>
<rect x="767.28" y="273.12" width="28.54" height="7.42" fill="#4160a5"/>
<rect x="795.52" y="273.12" width="7.36" height="7.42" fill="#4a7db5"/>
<rect x="802.58" y="273.12" width="7.36" height="7.42" fill="#4160a5"/>
<rect x="809.64" y="273.12" width="7.36" height="7.42" fill="#526ca6"/>
<rect x="816.70" y="273.12" width="28.54" height="7.42" fill="#4160a5"/>
<rect x="844.94" y="273.12" width="7.36" height="7.42" fill="#526ca6"/>
<rect x="852.00" y="273.12" width="21.48" height="7.42" fill="#4160a5"/>
<rect x="873.18" y="273.12" width="49.72" height="7.42" fill="#526ca6"/>
<rect x="922.60" y="273.12" width="7.36" height="7.42" fill="#6478ab"/>
<rect x="936.72" y="273.12" width="7.36" height="7.42" fill="#6478ab"/>
<rect x="943.78" y="273.12" width="21.48" height="7.42" fill="#526ca6"/>
<rect x="964.96" y="273.12" width="14.42" height="7.42" fill="#6478ab"/>
<rect x="979.08" y="273.12" width="14.42" height="7.42" fill="#526ca6"/>
<rect x="993.20" y="273.12" width="7.36" height="7.42" fill="#6478ab"/>
<rect x="61.28" y="280.24" width="21.48" height="7.42" fill="#6478ab"/>
<rect x="82.46" y="280.24" width="14.42" height="7.42" fill="#526ca6"/>
<rect x="96.58" y="280.24" width="28.54" height="7.42" fill="#4160a5"/>
<rect x="124.82" y="280.24" width="14.42" height="7.42" fill="#526ca6"/>
<rect x="138.94" y="280.24" width="7.36" height="7.42" fill="#4160a5"/>
<rect x="146.00" y="280.24" width="7.36" height="7.42" fill="#526ca6"/>
<rect x="153.06" y="280.24" width="14.42" height="7.42" fill="#6478ab"/>
<rect x="174.24" y="280.24" width="14.42" height="7.42" fill="#6478ab"/>
<rect x="421.34" y="280.24" width="14.42" height="7.42" fill="#6478ab"/>
<rect x="442.52" y="280.24" width="7.36" height="7.42" fill="#6478ab"/>
<rect x="449.58" y="280.24" width="7.36" height="7.42" fill="#526ca6"/>
<rect x="456.64" y="280.24" width="14.42" height="7.42" fill="#6478ab"/>
<rect x="548.42" y="280.24" width="7.36" height="7.42" fill="#6478ab"/>
<rect x="604.90" y="280.24" width="7.36" height="7.42" fill="#6478ab"/>
<rect x="611.96" y="280.24" width="7.36" height="7.42" fill="#4160a5"/>
<rect x="619.02" y="280.24" width="7.36" height="7.42" fill="#4a7db5"/>
<rect x="626.08" y="280.24" width="7.36" height="7.42" fill="#4160a5"/>
<rect x="633.14" y="280.24" width="7.36" height="7.42" fill="#4a7db5"/>
<rect x="640.20" y="280.24" width="14.42" height="7.42" fill="#4160a5"/>
<rect x="654.32" y="280.24" width="21.48" height="7.42" fill="#4a7db5"/>
<rect x="675.50" y="280.24" width="21.48" height="7.42" fill="#4160a5"/>
<rect x="696.68" y="280.24" width="7.36" height="7.42" fill="#4a7db5"/>
<rect x="703.74" y="280.24" width="7.36" height="7.42" fill="#4160a5"/>
<rect x="710.80" y="280.24" width="7.36" height="7.42" fill="#4a7db5"/>
<rect x="717.86" y="280.24" width="14.42" height="7.42" fill="#4160a5"/>
<rect x="731.98" y="280.24" width="14.42" height="7.42" fill="#4a7db5"/>
<rect x="746.10" y="280.24" width="7.36" height="7.42" fill="#4160a5"/>
<rect x="753.16" y="280.24" width="14.42" height="7.42" fill="#526ca6"/>
<rect x="767.28" y="280.24" width="28.54" height="7.42" fill="#4160a5"/>
<rect x="795.52" y="280.24" width="14.42" height="7.42" fill="#4a7db5"/>
<rect x="809.64" y="280.24" width="63.84" height="7.42" fill="#4160a5"/>
<rect x="873.18" y="280.24" width="56.78" height="7.42" fill="#526ca6"/>
<rect x="929.66" y="280.24" width="7.36" height="7.42" fill="#6478ab"/>
<rect x="936.72" y="280.24" width="35.60" height="7.42" fill="#526ca6"/>
<rect x="972.02" y="280.24" width="7.36" height="7.42" fill="#6478ab"/>
<rect x="979.08" y="280.24" width="14.42" height="7.42" fill="#526ca6"/>
<rect x="993.20" y="280.24" width="7.36" height="7.42" fill="#6478ab"/>
<rect x="61.28" y="287.36" width="21.48" height="7.42" fill="#6478ab"/>
<rect x="82.46" y="287.36" width="35.60" height="7.42" fill="#526ca6"/>
<rect x="117.76" y="287.36" width="7.36" height="7.42" fill="#4160a5"/>
<rect x="124.82" y="287.36" width="28.54" height="7.42" fill="#526ca6"/>
<rect x="153.06" y="287.36" width="7.36" height="7.42" fill="#6478ab"/>
<rect x="174.24" y="287.36" width="7.36" height="7.42" fill="#6478ab"/>
<rect x="428.40" y="287.36" width="14.42" height="7.42" fill="#6478ab"/>
<rect x="442.52" y="287.36" width="21.48" height="7.42" fill="#526ca6"/>
<rect x="463.70" y="287.36" width="7.36" height="7.42" fill="#6478ab"/>
<rect x="597.84" y="287.36" width="7.36" height="7.42" fill="#6478ab"/>
<rect x="604.90" y="287.36" width="7.36" height="7.42" fill="#526ca6"/>
<rect x="611.96" y="287.36" width="7.36" height="7.42" fill="#4160a5"/>
<rect x="619.02" y="287.36" width="7.36" height="7.42" fill="#4a7db5"/>
<rect x="626.08" y="287.36" width="42.66" height="7.42" fill="#4160a5"/>
<rect x="668.44" y="287.36" width="14.42" height="7.42" fill="#4a7db5"/>
<rect x="682.56" y="287.36" width="28.54" height="7.42" fill="#4160a5"/>
<rect x="710.80" y="287.36" width="7.36" height="7.42" fill="#4a7db5"/>
<rect x="717.86" y="287.36" width="14.42" height="7.42" fill="#4160a5"/>
<rect x="731.98" y="287.36" width="14.42" height="7.42" fill="#4a7db5"/>
<rect x="746.10" y="287.36" width="14.42" height="7.42" fill="#4160a5"/>
<rect x="760.22" y="287.36" width="7.36" height="7.42" fill="#526ca6"/>
<rect x="767.28" y="287.36" width="14.42" height="7.42" fill="#4160a5"/>
<rect x="781.40" y="287.36" width="28.54" height="7.42" fill="#4a7db5"/>
<rect x="809.64" y="287.36" width="63.84" height="7.42" fill="#4160a5"/>
<rect x="873.18" y="287.36" width="42.66" height="7.42" fill="#526ca6"/>
<rect x="915.54" y="287.36" width="7.36" height="7.42" fill="#6478ab"/>
<rect x="922.60" y="287.36" width="63.84" height="7.42" fill="#526ca6"/>
<rect x="986.14" y="287.36" width="7.36" height="7.42" fill="#6478ab"/>
<rect x="61.28" y="294.49" width="14.42" height="7.42" fill="#6478ab"/>
<rect x="75.40" y="294.49" width="7.36" height="7.42" fill="#526ca6"/>
<rect x="82.46" y="294.49" width="7.36" height="7.42" fill="#6478ab"/>
<rect x="89.52" y="294.49" width="7.36" height="7.42" fill="#526ca6"/>
<rect x="96.58" y="294.49" width="14.42" height="7.42" fill="#6478ab"/>
<rect x="110.70" y="294.49" width="14.42" height="7.42" fill="#526ca6"/>
<rect x="124.82" y="294.49" width="21.48" height="7.42" fill="#6478ab"/>
<rect x="146.00" y="294.49" width="7.36" height="7.42" fill="#526ca6"/>
<rect x="153.06" y="294.49" width="7.36" height="7.42" fill="#6478ab"/>
<rect x="167.18" y="294.49" width="7.36" height="7.42" fill="#6478ab"/>
<rect x="421.34" y="294.49" width="21.48" height="7.42" fill="#6478ab"/>
<rect x="442.52" y="294.49" width="21.48" height="7.42" fill="#526ca6"/>
<rect x="463.70" y="294.49" width="7.36" height="7.42" fill="#6478ab"/>
<rect x="597.84" y="294.49" width="14.42" height="7.42" fill="#526ca6"/>
<rect x="619.02" y="294.49" width="92.08" height="7.42" fill="#4160a5"/>
<rect x="710.80" y="294.49" width="7.36" height="7.42" fill="#4a7db5"/>
<rect x="717.86" y="294.49" width="21.48" height="7.42" fill="#4160a5"/>
<rect x="739.04" y="294.49" width="7.36" height="7.42" fill="#4a7db5"/>
<rect x="746.10" y="294.49" width="14.42" height="7.42" fill="#4160a5"/>
<rect x="760.22" y="294.49" width="7.36" height="7.42" fill="#526ca6"/>
<rect x="767.28" y="294.49" width="14.42" height="7.42" fill="#4160a5"/>
<rect x="781.40" y="294.49" width="28.54" height="7.42" fill="#4a7db5"/>
<rect x="809.64" y="294.49" width="63.84" height="7.42" fill="#4160a5"/>
<rect x="873.18" y="294.49" width="106.20" height="7.42" fill="#526ca6"/>
<rect x="979.08" y="294.49" width="14.42" height="7.42" fill="#6478ab"/>
<rect x="61.28" y="301.61" width="7.36" height="7.42" fill="#526ca6"/>
<rect x="68.34" y="301.61" width="14.42" height="7.42" fill="#4160a5"/>
<rect x="82.46" y="301.61" width="14.42" height="7.42" fill="#526ca6"/>
<rect x="96.58" y="301.61" width="7.36" height="7.42" fill="#6478ab"/>
<rect x="103.64" y="301.61" width="7.36" height="7.42" fill="#526ca6"/>
<rect x="110.70" y="301.61" width="7.36" height="7.42" fill="#4160a5"/>
<rect x="117.76" y="301.61" width="7.36" height="7.42" fill="#526ca6"/>
<rect x="138.94" y="301.61" width="14.42" height="7.42" fill="#6478ab"/>
<rect x="421.34" y="301.61" width="7.36" height="7.42" fill="#6478ab"/>
<rect x="428.40" y="301.61" width="35.60" height="7.42" fill="#526ca6"/>
<rect x="463.70" y="301.61" width="7.36" height="7.42" fill="#6478ab"/>
<rect x="590.78" y="301.61" width="7.36" height="7.42" fill="#6478ab"/>
<rect x="597.84" y="301.61" width="21.48" height="7.42" fill="#526ca6"/>
<rect x="619.02" y="301.61" width="14.42" height="7.42" fill="#4160a5"/>
<rect x="633.14" y="301.61" width="21.48" height="7.42" fill="#526ca6"/>
<rect x="654.32" y="301.61" width="7.36" height="7.42" fill="#4160a5"/>
<rect x="661.38" y="301.61" width="7.36" height="7.42" fill="#526ca6"/>
<rect x="668.44" y="301.61" width="42.66" height="7.42" fill="#4160a5"/>
<rect x="710.80" y="301.61" width="7.36" height="7.42" fill="#4a7db5"/>
<rect x="717.86" y="301.61" width="42.66" height="7.42" fill="#4160a5"/>
<rect x="760.22" y="301.61" width="7.36" height="7.42" fill="#526ca6"/>
<rect x="767.28" y="301.61" width="21.48" height="7.42" fill="#4160a5"/>
<rect x="788.46" y="301.61" width="21.48" height="7.42" fill="#4a7db5"/>
<rect x="809.64" y="301.61" width="63.84" height="7.42" fill="#4160a5"/>
<rect x="873.18" y="301.61" width="56.78" height="7.42" fill="#526ca6"/>
<rect x="929.66" y="301.61" width="7.36" height="7.42" fill="#6478ab"/>
<rect x="936.72" y="301.61" width="56.78" height="7.42" fill="#526ca6"/>
<rect x="993.20" y="301.61" width="7.36" height="7.42" fill="#6478ab"/>
<rect x="61.28" y="308.73" width="7.36" height="7.42" fill="#526ca6"/>
<rect x="68.34" y="308.73" width="14.42" height="7.42" fill="#4160a5"/>
<rect x="82.46" y="308.73" width="21.48" height="7.42" fill="#526ca6"/>
<rect x="103.64" y="308.73" width="14.42" height="7.42" fill="#4160a5"/>
<rect x="117.76" y="308.73" width="7.36" height="7.42" fill="#6478ab"/>
<rect x="421.34" y="308.73" width="14.42" height="7.42" fill="#6478ab"/>
<rect x="435.46" y="308.73" width="21.48" height="7.42" fill="#526ca6"/>
<rect x="456.64" y="308.73" width="7.36" height="7.42" fill="#6478ab"/>
<rect x="604.90" y="308.73" width="7.36" height="7.42" fill="#6478ab"/>
<rect x="619.02" y="308.73" width="7.36" height="7.42" fill="#526ca6"/>
<rect x="626.08" y="308.73" width="7.36" height="7.42" fill="#4160a5"/>
<rect x="633.14" y="308.73" width="21.48" height="7.42" fill="#526ca6"/>
<rect x="654.32" y="308.73" width="7.36" height="7.42" fill="#6478ab"/>
<rect x="668.44" y="308.73" width="14.42" height="7.42" fill="#526ca6"/>
<rect x="682.56" y="308.73" width="14.42" height="7.42" fill="#4160a5"/>
<rect x="696.68" y="308.73" width="7.36" height="7.42" fill="#526ca6"/>
<rect x="703.74" y="308.73" width="7.36" height="7.42" fill="#4160a5"/>
<rect x="710.80" y="308.73" width="7.36" height="7.42" fill="#4a7db5"/>
<rect x="717.86" y="308.73" width="70.90" height="7.42" fill="#4160a5"/>
<rect x="788.46" y="308.73" width="7.36" height="7.42" fill="#4a7db5"/>
<rect x="795.52" y="308.73" width="7.36" height="7.42" fill="#4160a5"/>
<rect x="802.58" y="308.73" width="7.36" height="7.42" fill="#4a7db5"/>
<rect x="809.64" y="308.73" width="63.84" height="7.42" fill="#4160a5"/>
<rect x="873.18" y="308.73" width="56.78" height="7.42" fill="#526ca6"/>
<rect x="929.66" y="308.73" width="7.36" height="7.42" fill="#6478ab"/>
<rect x="936.72" y="308.73" width="56.78" height="7.42" fill="#526ca6"/>
<rect x="993.20" y="308.73" width="7.36" height="7.42" fill="#6478ab"/>
<rect x="61.28" y="315.85" width="7.36" height="7.42" fill="#6478ab"/>
<rect x="68.34" y="315.85" width="28.54" height="7.42" fill="#526ca6"/>
<rect x="96.58" y="315.85" width="14.42" height="7.42" fill="#4160a5"/>
<rect x="110.70" y="315.85" width="7.36" height="7.42" fill="#526ca6"/>
<rect x="435.46" y="315.85" width="7.36" height="7.42" fill="#6478ab"/>
<rect x="442.52" y="315.85" width="14.42" height="7.42" fill="#526ca6"/>
<rect x="619.02" y="315.85" width="7.36" height="7.42" fill="#6478ab"/>
<rect x="626.08" y="315.85" width="21.48" height="7.42" fill="#526ca6"/>
<rect x="647.26" y="315.85" width="7.36" height="7.42" fill="#6478ab"/>
<rect x="668.44" y="315.85" width="7.36" height="7.42" fill="#6478ab"/>
<rect x="682.56" y="315.85" width="7.36" height="7.42" fill="#526ca6"/>
<rect x="689.62" y="315.85" width="7.36" height="7.42" fill="#4160a5"/>
<rect x="696.68" y="315.85" width="7.36" height="7.42" fill="#526ca6"/>
<rect x="703.74" y="315.85" width="63.84" height="7.42" fill="#4160a5"/>
<rect x="767.28" y="315.85" width="7.36" height="7.42" fill="#526ca6"/>
<rect x="774.34" y="315.85" width="14.42" height="7.42" fill="#4160a5"/>
<rect x="788.46" y="315.85" width="7.36" height="7.42" fill="#4a7db5"/>
<rect x="795.52" y="315.85" width="7.36" height="7.42" fill="#4160a5"/>
<rect x="802.58" y="315.85" width="7.36" height="7.42" fill="#4a7db5"/>
<rect x="809.64" y="315.85" width="35.60" height="7.42" fill="#4160a5"/>
<rect x="844.94" y="315.85" width="7.36" height="7.42" fill="#526ca6"/>
<rect x="852.00" y="315.85" width="7.36" height="7.42" fill="#4160a5"/>
<rect x="859.06" y="315.85" width="7.36" height="7.42" fill="#526ca6"/>
<rect x="866.12" y="315.85" width="7.36" height="7.42" fill="#4160a5"/>
<rect x="873.18" y="315.85" width="21.48" height="7.42" fill="#526ca6"/>
<rect x="894.36" y="315.85" width="7.36" height="7.42" fill="#4160a5"/>
<rect x="901.42" y="315.85" width="28.54" height="7.42" fill="#526ca6"/>
<rect x="929.66" y="315.85" width="7.36" height="7.42" fill="#6478ab"/>
<rect x="936.72" y="315.85" width="56.78" height="7.42" fill="#526ca6"/>
<rect x="993.20" y="315.85" width="7.36" height="7.42" fill="#6478ab"/>
<rect x="61.28" y="322.98" width="14.42" height="7.42" fill="#6478ab"/>
<rect x="75.40" y="322.98" width="7.36" height="7.42" fill="#526ca6"/>
<rect x="82.46" y="322.98" width="14.42" height="7.42" fill="#6478ab"/>
<rect x="96.58" y="322.98" width="7.36" height="7.42" fill="#4160a5"/>
<rect x="103.64" y="322.98" width="7.36" height="7.42" fill="#526ca6"/>
<rect x="117.76" y="322.98" width="7.36" height="7.42" fill="#526ca6"/>
<rect x="124.82" y="322.98" width="7.36" height="7.42" fill="#6478ab"/>
<rect x="442.52" y="322.98" width="7.36" height="7.42" fill="#526ca6"/>
<rect x="449.58" y="322.98" width="7.36" height="7.42" fill="#4160a5"/>
<rect x="633.14" y="322.98" width="14.42" height="7.42" fill="#526ca6"/>
<rect x="647.26" y="322.98" width="7.36" height="7.42" fill="#6478ab"/>
<rect x="661.38" y="322.98" width="7.36" height="7.42" fill="#6478ab"/>
<rect x="675.50" y="322.98" width="7.36" height="7.42" fill="#526ca6"/>
<rect x="682.56" y="322.98" width="14.42" height="7.42" fill="#4160a5"/>
<rect x="696.68" y="322.98" width="7.36" height="7.42" fill="#526ca6"/>
<rect x="703.74" y="322.98" width="35.60" height="7.42" fill="#4160a5"/>
<rect x="739.04" y="322.98" width="7.36" height="7.42" fill="#526ca6"/>
<rect x="746.10" y="322.98" width="21.48" height="7.42" fill="#4160a5"/>
<rect x="767.28" y="322.98" width="7.36" height="7.42" fill="#526ca6"/>
<rect x="774.34" y="322.98" width="70.90" height="7.42" fill="#4160a5"/>
<rect x="844.94" y="322.98" width="7.36" height="7.42" fill="#526ca6"/>
<rect x="852.00" y="322.98" width="7.36" height="7.42" fill="#4160a5"/>
<rect x="859.06" y="322.98" width="7.36" height="7.42" fill="#526ca6"/>
<rect x="866.12" y="322.98" width="7.36" height="7.42" fill="#4160a5"/>
<rect x="873.18" y="322.98" width="49.72" height="7.42" fill="#526ca6"/>
<rect x="922.60" y="322.98" width="14.42" height="7.42" fill="#6478ab"/>
<rect x="936.72" y="322.98" width="35.60" height="7.42" fill="#526ca6"/>
<rect x="972.02" y="322.98" width="7.36" height="7.42" fill="#6478ab"/>
<rect x="979.08" y="322.98" width="14.42" height="7.42" fill="#526ca6"/>
<rect x="993.20" y="322.98" width="7.36" height="7.42" fill="#6478ab"/>
<rect x="61.28" y="330.10" width="35.60" height="7.42" fill="#6478ab"/>
<rect x="96.58" y="330.10" width="7.36" height="7.42" fill="#526ca6"/>
<rect x="117.76" y="330.10" width="7.36" height="7.42" fill="#4160a5"/>
<rect x="124.82" y="330.10" width="7.36" height="7.42" fill="#526ca6"/>
<rect x="435.46" y="330.10" width="7.36" height="7.42" fill="#6478ab"/>
<rect x="442.52" y="330.10" width="7.36" height="7.42" fill="#4160a5"/>
<rect x="449.58" y="330.10" width="7.36" height="7.42" fill="#4a7db5"/>
<rect x="456.64" y="330.10" width="7.36" height="7.42" fill="#526ca6"/>
<rect x="633.14" y="330.10" width="21.48" height="7.42" fill="#6478ab"/>
<rect x="661.38" y="330.10" width="14.42" height="7.42" fill="#6478ab"/>
<rect x="675.50" y="330.10" width="21.48" height="7.42" fill="#4160a5"/>
<rect x="696.68" y="330.10" width="14.42" height="7.42" fill="#526ca6"/>
<rect x="710.80" y="330.10" width="7.36" height="7.42" fill="#4160a5"/>
<rect x="717.86" y="330.10" width="7.36" height="7.42" fill="#526ca6"/>
<rect x="724.92" y="330.10" width="14.42" height="7.42" fill="#4160a5"/>
<rect x="739.04" y="330.10" width="35.60" height="7.42" fill="#526ca6"/>
<rect x="774.34" y="330.10" width="70.90" height="7.42" fill="#4160a5"/>
<rect x="844.94" y="330.10" width="21.48" height="7.42" fill="#526ca6"/>
<rect x="866.12" y="330.10" width="7.36" height="7.42" fill="#4160a5"/>
<rect x="873.18" y="330.10" width="49.72" height="7.42" fill="#526ca6"/>
<rect x="922.60" y="330.10" width="14.42" height="7.42" fill="#6478ab"/>
<rect x="936.72" y="330.10" width="63.84" height="7.42" fill="#526ca6"/>
<rect x="61.28" y="337.22" width="21.48" height="7.42" fill="#526ca6"/>
<rect x="82.46" y="337.22" width="14.42" height="7.42" fill="#6478ab"/>
<rect x="96.58" y="337.22" width="21.48" height="7.42" fill="#526ca6"/>
<rect x="117.76" y="337.22" width="7.36" height="7.42" fill="#6478ab"/>
<rect x="435.46" y="337.22" width="7.36" height="7.42" fill="#6478ab"/>
<rect x="442.52" y="337.22" width="7.36" height="7.42" fill="#526ca6"/>
<rect x="449.58" y="337.22" width="14.42" height="7.42" fill="#4160a5"/>
<rect x="633.14" y="337.22" width="28.54" height="7.42" fill="#6478ab"/>
<rect x="668.44" y="337.22" width="7.36" height="7.42" fill="#6478ab"/>
<rect x="675.50" y="337.22" width="21.48" height="7.42" fill="#526ca6"/>
<rect x="696.68" y="337.22" width="7.36" height="7.42" fill="#4160a5"/>
<rect x="703.74" y="337.22" width="70.90" height="7.42" fill="#526ca6"/>
<rect x="774.34" y="337.22" width="7.36" height="7.42" fill="#4160a5"/>
<rect x="781.40" y="337.22" width="7.36" height="7.42" fill="#526ca6"/>
<rect x="788.46" y="337.22" width="7.36" height="7.42" fill="#4160a5"/>
<rect x="795.52" y="337.22" width="7.36" height="7.42" fill="#526ca6"/>
<rect x="802.58" y="337.22" width="42.66" height="7.42" fill="#4160a5"/>
<rect x="844.94" y="337.22" width="14.42" height="7.42" fill="#526ca6"/>
<rect x="859.06" y="337.22" width="7.36" height="7.42" fill="#4160a5"/>
<rect x="866.12" y="337.22" width="56.78" height="7.42" fill="#526ca6"/>
<rect x="922.60" y="337.22" width="14.42" height="7.42" fill="#6478ab"/>
<rect x="936.72" y="337.22" width="63.84" height="7.42" fill="#526ca6"/>
<rect x="61.28" y="344.35" width="21.48" height="7.42" fill="#526ca6"/>
<rect x="82.46" y="344.35" width="14.42" height="7.42" fill="#6478ab"/>
<rect x="96.58" y="344.35" width="7.36" height="7.42" fill="#526ca6"/>
<rect x="103.64" y="344.35" width="7.36" height="7.42" fill="#6478ab"/>
<rect x="435.46" y="344.35" width="14.42" height="7.42" fill="#6478ab"/>
<rect x="449.58" y="344.35" width="7.36" height="7.42" fill="#526ca6"/>
<rect x="456.64" y="344.35" width="7.36" height="7.42" fill="#6478ab"/>
<rect x="626.08" y="344.35" width="7.36" height="7.42" fill="#6478ab"/>
<rect x="640.20" y="344.35" width="14.42" height="7.42" fill="#6478ab"/>
<rect x="661.38" y="344.35" width="7.36" height="7.42" fill="#526ca6"/>
<rect x="668.44" y="344.35" width="7.36" height="7.42" fill="#6478ab"/>
<rect x="682.56" y="344.35" width="14.42" height="7.42" fill="#526ca6"/>
<rect x="696.68" y="344.35" width="7.36" height="7.42" fill="#4160a5"/>
<rect x="703.74" y="344.35" width="14.42" height="7.42" fill="#526ca6"/>
<rect x="717.86" y="344.35" width="14.42" height="7.42" fill="#6478ab"/>
<rect x="731.98" y="344.35" width="56.78" height="7.42" fill="#526ca6"/>
<rect x="788.46" y="344.35" width="7.36" height="7.42" fill="#4160a5"/>
<rect x="795.52" y="344.35" width="7.36" height="7.42" fill="#526ca6"/>
<rect x="802.58" y="344.35" width="35.60" height="7.42" fill="#4160a5"/>
<rect x="837.88" y="344.35" width="35.60" height="7.42" fill="#526ca6"/>
<rect x="873.18" y="344.35" width="7.36" height="7.42" fill="#6478ab"/>
<rect x="880.24" y="344.35" width="28.54" height="7.42" fill="#526ca6"/>
<rect x="908.48" y="344.35" width="7.36" height="7.42" fill="#6478ab"/>
<rect x="915.54" y="344.35" width="7.36" height="7.42" fill="#526ca6"/>
<rect x="922.60" y="344.35" width="14.42" height="7.42" fill="#6478ab"/>
<rect x="936.72" y="344.35" width="49.72" height="7.42" fill="#526ca6"/>
<rect x="986.14" y="344.35" width="7.36" height="7.42" fill="#6478ab"/>
<rect x="993.20" y="344.35" width="7.36" height="7.42" fill="#526ca6"/>
<rect x="61.28" y="351.47" width="7.36" height="7.42" fill="#526ca6"/>
<rect x="68.34" y="351.47" width="7.36" height="7.42" fill="#4160a5"/>
<rect x="75.40" y="351.47" width="7.36" height="7.42" fill="#526ca6"/>
<rect x="82.46" y="351.47" width="7.36" height="7.42" fill="#6478ab"/>
<rect x="96.58" y="351.47" width="14.42" height="7.42" fill="#6478ab"/>
<rect x="442.52" y="351.47" width="14.42" height="7.42" fill="#6478ab"/>
<rect x="626.08" y="351.47" width="7.36" height="7.42" fill="#6478ab"/>
<rect x="640.20" y="351.47" width="14.42" height="7.42" fill="#6478ab"/>
<rect x="661.38" y="351.47" width="7.36" height="7.42" fill="#526ca6"/>
<rect x="682.56" y="351.47" width="14.42" height="7.42" fill="#526ca6"/>
<rect x="696.68" y="351.47" width="7.36" height="7.42" fill="#4160a5"/>
<rect x="703.74" y="351.47" width="14.42" height="7.42" fill="#526ca6"/>
<rect x="717.86" y="351.47" width="21.48" height="7.42" fill="#6478ab"/>
<rect x="739.04" y="351.47" width="63.84" height="7.42" fill="#526ca6"/>
<rect x="802.58" y="351.47" width="35.60" height="7.42" fill="#4160a5"/>
<rect x="837.88" y="351.47" width="70.90" height="7.42" fill="#526ca6"/>
<rect x="908.48" y="351.47" width="7.36" height="7.42" fill="#6478ab"/>
<rect x="915.54" y="351.47" width="70.90" height="7.42" fill="#526ca6"/>
<rect x="986.14" y="351.47" width="14.42" height="7.42" fill="#6478ab"/>
<rect x="61.28" y="358.59" width="21.48" height="7.42" fill="#526ca6"/>
<rect x="89.52" y="358.59" width="7.36" height="7.42" fill="#6478ab"/>
<rect x="96.58" y="358.59" width="14.42" height="7.42" fill="#526ca6"/>
<rect x="110.70" y="358.59" width="7.36" height="7.42" fill="#6478ab"/>
<rect x="640.20" y="358.59" width="14.42" height="7.42" fill="#6478ab"/>
<rect x="661.38" y="358.59" width="7.36" height="7.42" fill="#6478ab"/>
<rect x="682.56" y="358.59" width="7.36" height="7.42" fill="#6478ab"/>
<rect x="689.62" y="358.59" width="7.36" height="7.42" fill="#526ca6"/>
<rect x="696.68" y="358.59" width="7.36" height="7.42" fill="#4160a5"/>
<rect x="703.74" y="358.59" width="7.36" height="7.42" fill="#526ca6"/>
<rect x="710.80" y="358.59" width="28.54" height="7.42" fill="#6478ab"/>
<rect x="739.04" y="358.59" width="14.42" height="7.42" fill="#526ca6"/>
<rect x="753.16" y="358.59" width="7.36" height="7.42" fill="#4160a5"/>
<rect x="760.22" y="358.59" width="42.66" height="7.42" fill="#526ca6"/>
<rect x="802.58" y="358.59" width="35.60" height="7.42" fill="#4160a5"/>
<rect x="837.88" y="358.59" width="49.72" height="7.42" fill="#526ca6"/>
<rect x="887.30" y="358.59" width="7.36" height="7.42" fill="#6478ab"/>
<rect x="894.36" y="358.59" width="14.42" height="7.42" fill="#526ca6"/>
<rect x="908.48" y="358.59" width="7.36" height="7.42" fill="#6478ab"/>
<rect x="915.54" y="358.59" width="70.90" height="7.42" fill="#526ca6"/>
<rect x="986.14" y="358.59" width="14.42" height="7.42" fill="#6478ab"/>
<rect x="61.28" y="365.72" width="21.48" height="7.42" fill="#526ca6"/>
<rect x="82.46" y="365.72" width="7.36" height="7.42" fill="#6478ab"/>
<rect x="89.52" y="365.72" width="7.36" height="7.42" fill="#526ca6"/>
<rect x="96.58" y="365.72" width="21.48" height="7.42" fill="#6478ab"/>
<rect x="449.58" y="365.72" width="7.36" height="7.42" fill="#6478ab"/>
<rect x="633.14" y="365.72" width="7.36" height="7.42" fill="#6478ab"/>
<rect x="640.20" y="365.72" width="7.36" height="7.42" fill="#526ca6"/>
<rect x="647.26" y="365.72" width="7.36" height="7.42" fill="#6478ab"/>
<rect x="675.50" y="365.72" width="7.36" height="7.42" fill="#6478ab"/>
<rect x="682.56" y="365.72" width="28.54" height="7.42" fill="#526ca6"/>
<rect x="710.80" y="365.72" width="21.48" height="7.42" fill="#6478ab"/>
<rect x="731.98" y="365.72" width="7.36" height="7.42" fill="#526ca6"/>
<rect x="739.04" y="365.72" width="21.48" height="7.42" fill="#4160a5"/>
<rect x="760.22" y="365.72" width="42.66" height="7.42" fill="#526ca6"/>
<rect x="802.58" y="365.72" width="42.66" height="7.42" fill="#4160a5"/>
<rect x="844.94" y="365.72" width="63.84" height="7.42" fill="#526ca6"/>
<rect x="908.48" y="365.72" width="7.36" height="7.42" fill="#6478ab"/>
<rect x="915.54" y="365.72" width="70.90" height="7.42" fill="#526ca6"/>
<rect x="986.14" y="365.72" width="14.42" height="7.42" fill="#6478ab"/>
<rect x="61.28" y="372.84" width="14.42" height="7.42" fill="#526ca6"/>
<rect x="75.40" y="372.84" width="14.42" height="7.42" fill="#4160a5"/>
<rect x="89.52" y="372.84" width="14.42" height="7.42" fill="#526ca6"/>
<rect x="103.64" y="372.84" width="7.36" height="7.42" fill="#6478ab"/>
<rect x="442.52" y="372.84" width="7.36" height="7.42" fill="#6478ab"/>
<rect x="633.14" y="372.84" width="14.42" height="7.42" fill="#6478ab"/>
<rect x="654.32" y="372.84" width="7.36" height="7.42" fill="#6478ab"/>
<rect x="675.50" y="372.84" width="7.36" height="7.42" fill="#6478ab"/>
<rect x="682.56" y="372.84" width="28.54" height="7.42" fill="#526ca6"/>
<rect x="710.80" y="372.84" width="21.48" height="7.42" fill="#6478ab"/>
<rect x="731.98" y="372.84" width="7.36" height="7.42" fill="#526ca6"/>
<rect x="739.04" y="372.84" width="14.42" height="7.42" fill="#4160a5"/>
<rect x="753.16" y="372.84" width="49.72" height="7.42" fill="#526ca6"/>
<rect x="802.58" y="372.84" width="21.48" height="7.42" fill="#4160a5"/>
<rect x="823.76" y="372.84" width="7.36" height="7.42" fill="#526ca6"/>
<rect x="830.82" y="372.84" width="7.36" height="7.42" fill="#4160a5"/>
<rect x="837.88" y="372.84" width="49.72" height="7.42" fill="#526ca6"/>
<rect x="887.30" y="372.84" width="14.42" height="7.42" fill="#6478ab"/>
<rect x="901.42" y="372.84" width="14.42" height="7.42" fill="#526ca6"/>
<rect x="915.54" y="372.84" width="7.36" height="7.42" fill="#6478ab"/>
<rect x="922.60" y="372.84" width="63.84" height="7.42" fill="#526ca6"/>
<rect x="986.14" y="372.84" width="14.42" height="7.42" fill="#6478ab"/>
<rect x="61.28" y="379.96" width="28.54" height="7.42" fill="#4160a5"/>
<rect x="89.52" y="379.96" width="14.42" height="7.42" fill="#526ca6"/>
<rect x="103.64" y="379.96" width="7.36" height="7.42" fill="#6478ab"/>
<rect x="131.88" y="379.96" width="14.42" height="7.42" fill="#6478ab"/>
<rect x="619.02" y="379.96" width="28.54" height="7.42" fill="#6478ab"/>
<rect x="654.32" y="379.96" width="7.36" height="7.42" fill="#6478ab"/>
<rect x="689.62" y="379.96" width="14.42" height="7.42" fill="#6478ab"/>
<rect x="703.74" y="379.96" width="14.42" height="7.42" fill="#526ca6"/>
<rect x="717.86" y="379.96" width="7.36" height="7.42" fill="#6478ab"/>
<rect x="724.92" y="379.96" width="14.42" height="7.42" fill="#526ca6"/>
<rect x="739.04" y="379.96" width="21.48" height="7.42" fill="#4160a5"/>
<rect x="760.22" y="379.96" width="7.36" height="7.42" fill="#526ca6"/>
<rect x="767.28" y="379.96" width="7.36" height="7.42" fill="#4160a5"/>
<rect x="774.34" y="379.96" width="28.54" height="7.42" fill="#526ca6"/>
<rect x="802.58" y="379.96" width="28.54" height="7.42" fill="#4160a5"/>
<rect x="830.82" y="379.96" width="35.60" height="7.42" fill="#526ca6"/>
<rect x="866.12" y="379.96" width="7.36" height="7.42" fill="#6478ab"/>
<rect x="873.18" y="379.96" width="21.48" height="7.42" fill="#526ca6"/>
<rect x="894.36" y="379.96" width="7.36" height="7.42" fill="#6478ab"/>
<rect x="901.42" y="379.96" width="14.42" height="7.42" fill="#526ca6"/>
<rect x="915.54" y="379.96" width="7.36" height="7.42" fill="#6478ab"/>
<rect x="922.60" y="379.96" width="14.42" height="7.42" fill="#526ca6"/>
<rect x="936.72" y="379.96" width="7.36" height="7.42" fill="#6478ab"/>
<rect x="943.78" y="379.96" width="14.42" height="7.42" fill="#526ca6"/>
<rect x="957.90" y="379.96" width="7.36" height="7.42" fill="#6478ab"/>
<rect x="964.96" y="379.96" width="28.54" height="7.42" fill="#526ca6"/>
<rect x="993.20" y="379.96" width="7.36" height="7.42" fill="#6478ab"/>
<rect x="61.28" y="387.08" width="28.54" height="7.42" fill="#4160a5"/>
<rect x="89.52" y="387.08" width="14.42" height="7.42" fill="#526ca6"/>
<rect x="103.64" y="387.08" width="7.36" height="7.42" fill="#6478ab"/>
<rect x="131.88" y="387.08" width="14.42" height="7.42" fill="#6478ab"/>
<rect x="619.02" y="387.08" width="7.36" height="7.42" fill="#6478ab"/>
<rect x="647.26" y="387.08" width="7.36" height="7.42" fill="#6478ab"/>
<rect x="689.62" y="387.08" width="14.42" height="7.42" fill="#6478ab"/>
<rect x="703.74" y="387.08" width="14.42" height="7.42" fill="#526ca6"/>
<rect x="717.86" y="387.08" width="7.36" height="7.42" fill="#6478ab"/>
<rect x="724.92" y="387.08" width="14.42" height="7.42" fill="#526ca6"/>
<rect x="739.04" y="387.08" width="21.48" height="7.42" fill="#4160a5"/>
<rect x="760.22" y="387.08" width="7.36" height="7.42" fill="#526ca6"/>
<rect x="767.28" y="387.08" width="7.36" height="7.42" fill="#4160a5"/>
<rect x="774.34" y="387.08" width="28.54" height="7.42" fill="#526ca6"/>
<rect x="802.58" y="387.08" width="28.54" height="7.42" fill="#4160a5"/>
<rect x="830.82" y="387.08" width="63.84" height="7.42" fill="#526ca6"/>
<rect x="894.36" y="387.08" width="7.36" height="7.42" fill="#6478ab"/>
<rect x="901.42" y="387.08" width="14.42" height="7.42" fill="#526ca6"/>
<rect x="915.54" y="387.08" width="7.36" height="7.42" fill="#6478ab"/>
<rect x="922.60" y="387.08" width="14.42" height="7.42" fill="#526ca6"/>
<rect x="936.72" y="387.08" width="7.36" height="7.42" fill="#6478ab"/>
<rect x="943.78" y="387.08" width="14.42" height="7.42" fill="#526ca6"/>
<rect x="957.90" y="387.08" width="7.36" height="7.42" fill="#6478ab"/>
<rect x="964.96" y="387.08" width="14.42" height="7.42" fill="#526ca6"/>
<rect x="979.08" y="387.08" width="7.36" height="7.42" fill="#6478ab"/>
<rect x="986.14" y="387.08" width="7.36" height="7.42" fill="#526ca6"/>
<rect x="993.20" y="387.08" width="7.36" height="7.42" fill="#6478ab"/>
<rect x="61.28" y="394.21" width="28.54" height="7.42" fill="#4160a5"/>
<rect x="89.52" y="394.21" width="7.36" height="7.42" fill="#526ca6"/>
<rect x="96.58" y="394.21" width="7.36" height="7.42" fill="#6478ab"/>
<rect x="188.36" y="394.21" width="7.36" height="7.42" fill="#6478ab"/>
<rect x="611.96" y="394.21" width="7.36" height="7.42" fill="#6478ab"/>
<rect x="640.20" y="394.21" width="14.42" height="7.42" fill="#6478ab"/>
<rect x="689.62" y="394.21" width="14.42" height="7.42" fill="#6478ab"/>
<rect x="703.74" y="394.21" width="14.42" height="7.42" fill="#526ca6"/>
<rect x="717.86" y="394.21" width="7.36" height="7.42" fill="#6478ab"/>
<rect x="724.92" y="394.21" width="21.48" height="7.42" fill="#526ca6"/>
<rect x="746.10" y="394.21" width="14.42" height="7.42" fill="#4160a5"/>
<rect x="760.22" y="394.21" width="7.36" height="7.42" fill="#526ca6"/>
<rect x="767.28" y="394.21" width="21.48" height="7.42" fill="#4160a5"/>
<rect x="788.46" y="394.21" width="14.42" height="7.42" fill="#526ca6"/>
<rect x="802.58" y="394.21" width="7.36" height="7.42" fill="#4160a5"/>
<rect x="809.64" y="394.21" width="7.36" height="7.42" fill="#526ca6"/>
<rect x="816.70" y="394.21" width="7.36" height="7.42" fill="#4160a5"/>
<rect x="823.76" y="394.21" width="70.90" height="7.42" fill="#526ca6"/>
<rect x="894.36" y="394.21" width="7.36" height="7.42" fill="#6478ab"/>
<rect x="901.42" y="394.21" width="14.42" height="7.42" fill="#526ca6"/>
<rect x="915.54" y="394.21" width="7.36" height="7.42" fill="#6478ab"/>
<rect x="922.60" y="394.21" width="14.42" height="7.42" fill="#526ca6"/>
<rect x="936.72" y="394.21" width="7.36" height="7.42" fill="#6478ab"/>
<rect x="943.78" y="394.21" width="14.42" height="7.42" fill="#526ca6"/>
<rect x="957.90" y="394.21" width="7.36" height="7.42" fill="#6478ab"/>
<rect x="964.96" y="394.21" width="14.42" height="7.42" fill="#526ca6"/>
<rect x="979.08" y="394.21" width="7.36" height="7.42" fill="#6478ab"/>
<rect x="986.14" y="394.21" width="7.36" height="7.42" fill="#526ca6"/>
<rect x="993.20" y="394.21" width="7.36" height="7.42" fill="#6478ab"/>
<rect x="61.28" y="401.33" width="7.36" height="7.42" fill="#526ca6"/>
<rect x="68.34" y="401.33" width="14.42" height="7.42" fill="#4160a5"/>
<rect x="82.46" y="401.33" width="14.42" height="7.42" fill="#526ca6"/>
<rect x="96.58" y="401.33" width="14.42" height="7.42" fill="#6478ab"/>
<rect x="124.82" y="401.33" width="14.42" height="7.42" fill="#6478ab"/>
<rect x="153.06" y="401.33" width="21.48" height="7.42" fill="#6478ab"/>
<rect x="181.30" y="401.33" width="7.36" height="7.42" fill="#6478ab"/>
<rect x="611.96" y="401.33" width="7.36" height="7.42" fill="#6478ab"/>
<rect x="633.14" y="401.33" width="7.36" height="7.42" fill="#6478ab"/>
<rect x="640.20" y="401.33" width="7.36" height="7.42" fill="#4160a5"/>
<rect x="647.26" y="401.33" width="7.36" height="7.42" fill="#526ca6"/>
<rect x="654.32" y="401.33" width="14.42" height="7.42" fill="#6478ab"/>
<rect x="689.62" y="401.33" width="14.42" height="7.42" fill="#6478ab"/>
<rect x="703.74" y="401.33" width="7.36" height="7.42" fill="#526ca6"/>
<rect x="710.80" y="401.33" width="7.36" height="7.42" fill="#4160a5"/>
<rect x="717.86" y="401.33" width="7.36" height="7.42" fill="#6478ab"/>
<rect x="724.92" y="401.33" width="21.48" height="7.42" fill="#526ca6"/>
<rect x="746.10" y="401.33" width="14.42" height="7.42" fill="#4160a5"/>
<rect x="760.22" y="401.33" width="7.36" height="7.42" fill="#526ca6"/>
<rect x="767.28" y="401.33" width="21.48" height="7.42" fill="#4160a5"/>
<rect x="788.46" y="401.33" width="7.36" height="7.42" fill="#526ca6"/>
<rect x="795.52" y="401.33" width="28.54" height="7.42" fill="#4160a5"/>
<rect x="823.76" y="401.33" width="42.66" height="7.42" fill="#526ca6"/>
<rect x="866.12" y="401.33" width="7.36" height="7.42" fill="#6478ab"/>
<rect x="873.18" y="401.33" width="21.48" height="7.42" fill="#526ca6"/>
<rect x="894.36" y="401.33" width="7.36" height="7.42" fill="#6478ab"/>
<rect x="901.42" y="401.33" width="14.42" height="7.42" fill="#526ca6"/>
<rect x="915.54" y="401.33" width="7.36" height="7.42" fill="#6478ab"/>
<rect x="922.60" y="401.33" width="35.60" height="7.42" fill="#526ca6"/>
<rect x="957.90" y="401.33" width="14.42" height="7.42" fill="#6478ab"/>
<rect x="972.02" y="401.33" width="7.36" height="7.42" fill="#526ca6"/>
<rect x="979.08" y="401.33" width="7.36" height="7.42" fill="#6478ab"/>
<rect x="986.14" y="401.33" width="7.36" height="7.42" fill="#526ca6"/>
<rect x="993.20" y="401.33" width="7.36" height="7.42" fill="#6478ab"/>
<rect x="61.28" y="408.45" width="7.36" height="7.42" fill="#526ca6"/>
<rect x="68.34" y="408.45" width="14.42" height="7.42" fill="#4160a5"/>
<rect x="82.46" y="408.45" width="7.36" height="7.42" fill="#526ca6"/>
<rect x="89.52" y="408.45" width="49.72" height="7.42" fill="#6478ab"/>
<rect x="146.00" y="408.45" width="21.48" height="7.42" fill="#6478ab"/>
<rect x="167.18" y="408.45" width="7.36" height="7.42" fill="#526ca6"/>
<rect x="174.24" y="408.45" width="7.36" height="7.42" fill="#6478ab"/>
<rect x="604.90" y="408.45" width="7.36" height="7.42" fill="#6478ab"/>
<rect x="633.14" y="408.45" width="7.36" height="7.42" fill="#526ca6"/>
<rect x="640.20" y="408.45" width="7.36" height="7.42" fill="#4160a5"/>
<rect x="647.26" y="408.45" width="7.36" height="7.42" fill="#526ca6"/>
<rect x="654.32" y="408.45" width="7.36" height="7.42" fill="#6478ab"/>
<rect x="668.44" y="408.45" width="7.36" height="7.42" fill="#6478ab"/>
<rect x="689.62" y="408.45" width="14.42" height="7.42" fill="#6478ab"/>
<rect x="703.74" y="408.45" width="14.42" height="7.42" fill="#526ca6"/>
<rect x="717.86" y="408.45" width="7.36" height="7.42" fill="#6478ab"/>
<rect x="724.92" y="408.45" width="42.66" height="7.42" fill="#526ca6"/>
<rect x="767.28" y="408.45" width="21.48" height="7.42" fill="#4160a5"/>
<rect x="788.46" y="408.45" width="7.36" height="7.42" fill="#526ca6"/>
<rect x="795.52" y="408.45" width="28.54" height="7.42" fill="#4160a5"/>
<rect x="823.76" y="408.45" width="92.08" height="7.42" fill="#526ca6"/>
<rect x="915.54" y="408.45" width="14.42" height="7.42" fill="#6478ab"/>
<rect x="929.66" y="408.45" width="35.60" height="7.42" fill="#526ca6"/>
<rect x="964.96" y="408.45" width="7.36" height="7.42" fill="#6478ab"/>
<rect x="972.02" y="408.45" width="7.36" height="7.42" fill="#526ca6"/>
<rect x="979.08" y="408.45" width="21.48" height="7.42" fill="#6478ab"/>
<rect x="61.28" y="415.58" width="7.36" height="7.42" fill="#526ca6"/>
<rect x="68.34" y="415.58" width="14.42" height="7.42" fill="#4160a5"/>
<rect x="82.46" y="415.58" width="14.42" height="7.42" fill="#526ca6"/>
<rect x="96.58" y="415.58" width="14.42" height="7.42" fill="#6478ab"/>
<rect x="110.70" y="415.58" width="14.42" height="7.42" fill="#526ca6"/>
<rect x="124.82" y="415.58" width="7.36" height="7.42" fill="#6478ab"/>
<rect x="138.94" y="415.58" width="28.54" height="7.42" fill="#6478ab"/>
<rect x="167.18" y="415.58" width="14.42" height="7.42" fill="#526ca6"/>
<rect x="181.30" y="415.58" width="7.36" height="7.42" fill="#6478ab"/>
<rect x="604.90" y="415.58" width="7.36" height="7.42" fill="#6478ab"/>
<rect x="633.14" y="415.58" width="21.48" height="7.42" fill="#526ca6"/>
<rect x="654.32" y="415.58" width="7.36" height="7.42" fill="#6478ab"/>
<rect x="668.44" y="415.58" width="7.36" height="7.42" fill="#6478ab"/>
<rect x="689.62" y="415.58" width="14.42" height="7.42" fill="#6478ab"/>
<rect x="703.74" y="415.58" width="28.54" height="7.42" fill="#526ca6"/>
<rect x="731.98" y="415.58" width="14.42" height="7.42" fill="#6478ab"/>
<rect x="746.10" y="415.58" width="28.54" height="7.42" fill="#526ca6"/>
<rect x="774.34" y="415.58" width="14.42" height="7.42" fill="#4160a5"/>
<rect x="788.46" y="415.58" width="7.36" height="7.42" fill="#526ca6"/>
<rect x="795.52" y="415.58" width="14.42" height="7.42" fill="#4160a5"/>
<rect x="809.64" y="415.58" width="106.20" height="7.42" fill="#526ca6"/>
<rect x="915.54" y="415.58" width="14.42" height="7.42" fill="#6478ab"/>
<rect x="929.66" y="415.58" width="35.60" height="7.42" fill="#526ca6"/>
<rect x="964.96" y="415.58" width="7.36" height="7.42" fill="#6478ab"/>
<rect x="972.02" y="415.58" width="7.36" height="7.42" fill="#526ca6"/>
<rect x="979.08" y="415.58" width="7.36" height="7.42" fill="#6478ab"/>
<rect x="986.14" y="415.58" width="14.42" height="7.42" fill="#526ca6"/>
<rect x="61.28" y="422.70" width="21.48" height="7.42" fill="#4160a5"/>
<rect x="82.46" y="422.70" width="14.42" height="7.42" fill="#526ca6"/>
<rect x="96.58" y="422.70" width="14.42" height="7.42" fill="#6478ab"/>
<rect x="110.70" y="422.70" width="14.42" height="7.42" fill="#526ca6"/>
<rect x="124.82" y="422.70" width="70.90" height="7.42" fill="#6478ab"/>
<rect x="597.84" y="422.70" width="7.36" height="7.42" fill="#6478ab"/>
<rect x="640.20" y="422.70" width="14.42" height="7.42" fill="#6478ab"/>
<rect x="661.38" y="422.70" width="7.36" height="7.42" fill="#6478ab"/>
<rect x="689.62" y="422.70" width="14.42" height="7.42" fill="#6478ab"/>
<rect x="703.74" y="422.70" width="28.54" height="7.42" fill="#526ca6"/>
<rect x="731.98" y="422.70" width="14.42" height="7.42" fill="#6478ab"/>
<rect x="746.10" y="422.70" width="28.54" height="7.42" fill="#526ca6"/>
<rect x="774.34" y="422.70" width="35.60" height="7.42" fill="#4160a5"/>
<rect x="809.64" y="422.70" width="7.36" height="7.42" fill="#526ca6"/>
<rect x="816.70" y="422.70" width="7.36" height="7.42" fill="#4160a5"/>
<rect x="823.76" y="422.70" width="92.08" height="7.42" fill="#526ca6"/>
<rect x="915.54" y="422.70" width="7.36" height="7.42" fill="#6478ab"/>
<rect x="922.60" y="422.70" width="42.66" height="7.42" fill="#526ca6"/>
<rect x="964.96" y="422.70" width="7.36" height="7.42" fill="#6478ab"/>
<rect x="972.02" y="422.70" width="7.36" height="7.42" fill="#526ca6"/>
<rect x="979.08" y="422.70" width="14.42" height="7.42" fill="#6478ab"/>
<rect x="993.20" y="422.70" width="7.36" height="7.42" fill="#526ca6"/>
<rect x="61.28" y="429.82" width="7.36" height="7.42" fill="#4160a5"/>
<rect x="68.34" y="429.82" width="7.36" height="7.42" fill="#4a7db5"/>
<rect x="75.40" y="429.82" width="14.42" height="7.42" fill="#4160a5"/>
<rect x="89.52" y="429.82" width="7.36" height="7.42" fill="#526ca6"/>
<rect x="96.58" y="429.82" width="14.42" height="7.42" fill="#6478ab"/>
<rect x="110.70" y="429.82" width="7.36" height="7.42" fill="#4160a5"/>
<rect x="117.76" y="429.82" width="14.42" height="7.42" fill="#526ca6"/>
<rect x="131.88" y="429.82" width="21.48" height="7.42" fill="#6478ab"/>
<rect x="153.06" y="429.82" width="7.36" height="7.42" fill="#526ca6"/>
<rect x="160.12" y="429.82" width="42.66" height="7.42" fill="#6478ab"/>
<rect x="597.84" y="429.82" width="7.36" height="7.42" fill="#6478ab"/>
<rect x="647.26" y="429.82" width="7.36" height="7.42" fill="#6478ab"/>
<rect x="661.38" y="429.82" width="7.36" height="7.42" fill="#6478ab"/>
<rect x="682.56" y="429.82" width="21.48" height="7.42" fill="#6478ab"/>
<rect x="703.74" y="429.82" width="7.36" height="7.42" fill="#526ca6"/>
<rect x="710.80" y="429.82" width="14.42" height="7.42" fill="#6478ab"/>
<rect x="724.92" y="429.82" width="7.36" height="7.42" fill="#526ca6"/>
<rect x="731.98" y="429.82" width="14.42" height="7.42" fill="#6478ab"/>
<rect x="746.10" y="429.82" width="7.36" height="7.42" fill="#4160a5"/>
<rect x="753.16" y="429.82" width="21.48" height="7.42" fill="#526ca6"/>
<rect x="774.34" y="429.82" width="21.48" height="7.42" fill="#4160a5"/>
<rect x="795.52" y="429.82" width="7.36" height="7.42" fill="#526ca6"/>
<rect x="802.58" y="429.82" width="21.48" height="7.42" fill="#4160a5"/>
<rect x="823.76" y="429.82" width="155.62" height="7.42" fill="#526ca6"/>
<rect x="979.08" y="429.82" width="14.42" height="7.42" fill="#6478ab"/>
<rect x="993.20" y="429.82" width="7.36" height="7.42" fill="#526ca6"/>
<rect x="61.28" y="436.94" width="21.48" height="7.42" fill="#4a7db5"/>
<rect x="82.46" y="436.94" width="14.42" height="7.42" fill="#4160a5"/>
<rect x="96.58" y="436.94" width="7.36" height="7.42" fill="#526ca6"/>
<rect x="103.64" y="436.94" width="7.36" height="7.42" fill="#6478ab"/>
<rect x="110.70" y="436.94" width="7.36" height="7.42" fill="#4160a5"/>
<rect x="117.76" y="436.94" width="7.36" height="7.42" fill="#526ca6"/>
<rect x="124.82" y="436.94" width="70.90" height="7.42" fill="#6478ab"/>
<rect x="647.26" y="436.94" width="14.42" height="7.42" fill="#6478ab"/>
<rect x="675.50" y="436.94" width="21.48" height="7.42" fill="#6478ab"/>
<rect x="696.68" y="436.94" width="7.36" height="7.42" fill="#526ca6"/>
<rect x="703.74" y="436.94" width="7.36" height="7.42" fill="#6478ab"/>
<rect x="717.86" y="436.94" width="7.36" height="7.42" fill="#6478ab"/>
<rect x="724.92" y="436.94" width="14.42" height="7.42" fill="#526ca6"/>
<rect x="739.04" y="436.94" width="7.36" height="7.42" fill="#6478ab"/>
<rect x="746.10" y="436.94" width="7.36" height="7.42" fill="#526ca6"/>
<rect x="753.16" y="436.94" width="7.36" height="7.42" fill="#6478ab"/>
<rect x="760.22" y="436.94" width="14.42" height="7.42" fill="#526ca6"/>
<rect x="774.34" y="436.94" width="21.48" height="7.42" fill="#4160a5"/>
<rect x="795.52" y="436.94" width="7.36" height="7.42" fill="#526ca6"/>
<rect x="802.58" y="436.94" width="21.48" height="7.42" fill="#4160a5"/>
<rect x="823.76" y="436.94" width="28.54" height="7.42" fill="#526ca6"/>
<rect x="852.00" y="436.94" width="14.42" height="7.42" fill="#4160a5"/>
<rect x="866.12" y="436.94" width="28.54" height="7.42" fill="#526ca6"/>
<rect x="894.36" y="436.94" width="7.36" height="7.42" fill="#4160a5"/>
<rect x="901.42" y="436.94" width="7.36" height="7.42" fill="#526ca6"/>
<rect x="908.48" y="436.94" width="7.36" height="7.42" fill="#4160a5"/>
<rect x="915.54" y="436.94" width="63.84" height="7.42" fill="#526ca6"/>
<rect x="979.08" y="436.94" width="14.42" height="7.42" fill="#6478ab"/>
<rect x="993.20" y="436.94" width="7.36" height="7.42" fill="#526ca6"/>
<rect x="61.28" y="444.07" width="21.48" height="7.42" fill="#4a7db5"/>
<rect x="82.46" y="444.07" width="7.36" height="7.42" fill="#4160a5"/>
<rect x="89.52" y="444.07" width="21.48" height="7.42" fill="#526ca6"/>
<rect x="110.70" y="444.07" width="7.36" height="7.42" fill="#4160a5"/>
<rect x="117.76" y="444.07" width="7.36" height="7.42" fill="#526ca6"/>
<rect x="124.82" y="444.07" width="28.54" height="7.42" fill="#6478ab"/>
<rect x="160.12" y="444.07" width="28.54" height="7.42" fill="#6478ab"/>
<rect x="640.20" y="444.07" width="21.48" height="7.42" fill="#6478ab"/>
<rect x="682.56" y="444.07" width="14.42" height="7.42" fill="#6478ab"/>
<rect x="696.68" y="444.07" width="7.36" height="7.42" fill="#526ca6"/>
<rect x="703.74" y="444.07" width="7.36" height="7.42" fill="#6478ab"/>
<rect x="717.86" y="444.07" width="7.36" height="7.42" fill="#6478ab"/>
<rect x="724.92" y="444.07" width="14.42" height="7.42" fill="#526ca6"/>
<rect x="739.04" y="444.07" width="7.36" height="7.42" fill="#6478ab"/>
<rect x="746.10" y="444.07" width="7.36" height="7.42" fill="#526ca6"/>
<rect x="753.16" y="444.07" width="7.36" height="7.42" fill="#6478ab"/>
<rect x="760.22" y="444.07" width="21.48" height="7.42" fill="#526ca6"/>
<rect x="781.40" y="444.07" width="35.60" height="7.42" fill="#4160a5"/>
<rect x="816.70" y="444.07" width="14.42" height="7.42" fill="#526ca6"/>
<rect x="830.82" y="444.07" width="7.36" height="7.42" fill="#4160a5"/>
<rect x="837.88" y="444.07" width="14.42" height="7.42" fill="#526ca6"/>
<rect x="852.00" y="444.07" width="14.42" height="7.42" fill="#4160a5"/>
<rect x="866.12" y="444.07" width="42.66" height="7.42" fill="#526ca6"/>
<rect x="908.48" y="444.07" width="7.36" height="7.42" fill="#4160a5"/>
<rect x="915.54" y="444.07" width="63.84" height="7.42" fill="#526ca6"/>
<rect x="979.08" y="444.07" width="14.42" height="7.42" fill="#6478ab"/>
<rect x="993.20" y="444.07" width="7.36" height="7.42" fill="#526ca6"/>
<rect x="61.28" y="451.19" width="7.36" height="7.42" fill="#4160a5"/>
<rect x="68.34" y="451.19" width="14.42" height="7.42" fill="#4a7db5"/>
<rect x="82.46" y="451.19" width="7.36" height="7.42" fill="#4160a5"/>
<rect x="89.52" y="451.19" width="35.60" height="7.42" fill="#526ca6"/>
<rect x="124.82" y="451.19" width="21.48" height="7.42" fill="#6478ab"/>
<rect x="153.06" y="451.19" width="35.60" height="7.42" fill="#6478ab"/>
<rect x="350.74" y="451.19" width="21.48" height="7.42" fill="#6478ab"/>
<rect x="640.20" y="451.19" width="14.42" height="7.42" fill="#6478ab"/>
<rect x="696.68" y="451.19" width="28.54" height="7.42" fill="#6478ab"/>
<rect x="724.92" y="451.19" width="14.42" height="7.42" fill="#526ca6"/>
<rect x="739.04" y="451.19" width="7.36" height="7.42" fill="#6478ab"/>
<rect x="767.28" y="451.19" width="7.36" height="7.42" fill="#6478ab"/>
<rect x="774.34" y="451.19" width="7.36" height="7.42" fill="#526ca6"/>
<rect x="781.40" y="451.19" width="35.60" height="7.42" fill="#4160a5"/>
<rect x="816.70" y="451.19" width="14.42" height="7.42" fill="#526ca6"/>
<rect x="830.82" y="451.19" width="7.36" height="7.42" fill="#4160a5"/>
<rect x="837.88" y="451.19" width="14.42" height="7.42" fill="#526ca6"/>
<rect x="852.00" y="451.19" width="21.48" height="7.42" fill="#4160a5"/>
<rect x="873.18" y="451.19" width="21.48" height="7.42" fill="#526ca6"/>
<rect x="894.36" y="451.19" width="21.48" height="7.42" fill="#4160a5"/>
<rect x="915.54" y="451.19" width="70.90" height="7.42" fill="#526ca6"/>
<rect x="986.14" y="451.19" width="7.36" height="7.42" fill="#6478ab"/>
<rect x="993.20" y="451.19" width="7.36" height="7.42" fill="#4160a5"/>
<rect x="61.28" y="458.31" width="21.48" height="7.42" fill="#4a7db5"/>
<rect x="82.46" y="458.31" width="14.42" height="7.42" fill="#4160a5"/>
<rect x="96.58" y="458.31" width="7.36" height="7.42" fill="#526ca6"/>
<rect x="103.64" y="458.31" width="7.36" height="7.42" fill="#4160a5"/>
<rect x="110.70" y="458.31" width="7.36" height="7.42" fill="#526ca6"/>
<rect x="117.76" y="458.31" width="14.42" height="7.42" fill="#6478ab"/>
<rect x="153.06" y="458.31" width="7.36" height="7.42" fill="#6478ab"/>
<rect x="343.68" y="458.31" width="7.36" height="7.42" fill="#6478ab"/>
<rect x="350.74" y="458.31" width="14.42" height="7.42" fill="#526ca6"/>
<rect x="710.80" y="458.31" width="21.48" height="7.42" fill="#6478ab"/>
<rect x="731.98" y="458.31" width="7.36" height="7.42" fill="#526ca6"/>
<rect x="739.04" y="458.31" width="7.36" height="7.42" fill="#6478ab"/>
<rect x="774.34" y="458.31" width="7.36" height="7.42" fill="#526ca6"/>
<rect x="781.40" y="458.31" width="35.60" height="7.42" fill="#4160a5"/>
<rect x="816.70" y="458.31" width="14.42" height="7.42" fill="#526ca6"/>
<rect x="830.82" y="458.31" width="14.42" height="7.42" fill="#4160a5"/>
<rect x="844.94" y="458.31" width="7.36" height="7.42" fill="#526ca6"/>
<rect x="852.00" y="458.31" width="14.42" height="7.42" fill="#4160a5"/>
<rect x="866.12" y="458.31" width="21.48" height="7.42" fill="#526ca6"/>
<rect x="887.30" y="458.31" width="28.54" height="7.42" fill="#4160a5"/>
<rect x="915.54" y="458.31" width="85.02" height="7.42" fill="#526ca6"/>
<rect x="61.28" y="465.44" width="28.54" height="7.42" fill="#4a7db5"/>
<rect x="89.52" y="465.44" width="21.48" height="7.42" fill="#4160a5"/>
<rect x="110.70" y="465.44" width="7.36" height="7.42" fill="#526ca6"/>
<rect x="117.76" y="465.44" width="7.36" height="7.42" fill="#6478ab"/>
<rect x="131.88" y="465.44" width="21.48" height="7.42" fill="#6478ab"/>
<rect x="343.68" y="465.44" width="7.36" height="7.42" fill="#6478ab"/>
<rect x="350.74" y="465.44" width="7.36" height="7.42" fill="#526ca6"/>
<rect x="357.80" y="465.44" width="7.36" height="7.42" fill="#6478ab"/>
<rect x="710.80" y="465.44" width="7.36" height="7.42" fill="#6478ab"/>
<rect x="731.98" y="465.44" width="7.36" height="7.42" fill="#6478ab"/>
<rect x="774.34" y="465.44" width="7.36" height="7.42" fill="#526ca6"/>
<rect x="781.40" y="465.44" width="35.60" height="7.42" fill="#4160a5"/>
<rect x="816.70" y="465.44" width="14.42" height="7.42" fill="#526ca6"/>
<rect x="830.82" y="465.44" width="14.42" height="7.42" fill="#4160a5"/>
<rect x="844.94" y="465.44" width="7.36" height="7.42" fill="#526ca6"/>
<rect x="852.00" y="465.44" width="7.36" height="7.42" fill="#4160a5"/>
<rect x="859.06" y="465.44" width="28.54" height="7.42" fill="#526ca6"/>
<rect x="887.30" y="465.44" width="7.36" height="7.42" fill="#4160a5"/>
<rect x="894.36" y="465.44" width="7.36" height="7.42" fill="#526ca6"/>
<rect x="901.42" y="465.44" width="14.42" height="7.42" fill="#4160a5"/>
<rect x="915.54" y="465.44" width="7.36" height="7.42" fill="#526ca6"/>
<rect x="922.60" y="465.44" width="7.36" height="7.42" fill="#4160a5"/>
<rect x="929.66" y="465.44" width="70.90" height="7.42" fill="#526ca6"/>
<rect x="61.28" y="472.56" width="7.36" height="7.42" fill="#4160a5"/>
<rect x="68.34" y="472.56" width="7.36" height="7.42" fill="#4a7db5"/>
<rect x="75.40" y="472.56" width="14.42" height="7.42" fill="#5a9fc9"/>
<rect x="89.52" y="472.56" width="21.48" height="7.42" fill="#4160a5"/>
<rect x="110.70" y="472.56" width="7.36" height="7.42" fill="#526ca6"/>
<rect x="131.88" y="472.56" width="7.36" height="7.42" fill="#6478ab"/>
<rect x="336.62" y="472.56" width="21.48" height="7.42" fill="#6478ab"/>
<rect x="703.74" y="472.56" width="7.36" height="7.42" fill="#6478ab"/>
<rect x="739.04" y="472.56" width="7.36" height="7.42" fill="#6478ab"/>
<rect x="767.28" y="472.56" width="7.36" height="7.42" fill="#6478ab"/>
<rect x="774.34" y="472.56" width="7.36" height="7.42" fill="#526ca6"/>
<rect x="781.40" y="472.56" width="7.36" height="7.42" fill="#4160a5"/>
<rect x="788.46" y="472.56" width="7.36" height="7.42" fill="#526ca6"/>
<rect x="795.52" y="472.56" width="14.42" height="7.42" fill="#4160a5"/>
<rect x="809.64" y="472.56" width="21.48" height="7.42" fill="#526ca6"/>
<rect x="830.82" y="472.56" width="7.36" height="7.42" fill="#4160a5"/>
<rect x="837.88" y="472.56" width="7.36" height="7.42" fill="#526ca6"/>
<rect x="844.94" y="472.56" width="14.42" height="7.42" fill="#4160a5"/>
<rect x="859.06" y="472.56" width="42.66" height="7.42" fill="#526ca6"/>
<rect x="901.42" y="472.56" width="14.42" height="7.42" fill="#4160a5"/>
<rect x="915.54" y="472.56" width="7.36" height="7.42" fill="#526ca6"/>
<rect x="922.60" y="472.56" width="7.36" height="7.42" fill="#4160a5"/>
<rect x="929.66" y="472.56" width="70.90" height="7.42" fill="#526ca6"/>
<rect x="61.28" y="479.68" width="7.36" height="7.42" fill="#4160a5"/>
<rect x="68.34" y="479.68" width="7.36" height="7.42" fill="#4a7db5"/>
<rect x="75.40" y="479.68" width="14.42" height="7.42" fill="#5a9fc9"/>
<rect x="89.52" y="479.68" width="14.42" height="7.42" fill="#4a7db5"/>
<rect x="103.64" y="479.68" width="7.36" height="7.42" fill="#4160a5"/>
<rect x="110.70" y="479.68" width="7.36" height="7.42" fill="#526ca6"/>
<rect x="117.76" y="479.68" width="14.42" height="7.42" fill="#6478ab"/>
<rect x="160.12" y="479.68" width="14.42" height="7.42" fill="#6478ab"/>
<rect x="230.72" y="479.68" width="7.36" height="7.42" fill="#6478ab"/>
<rect x="329.56" y="479.68" width="21.48" height="7.42" fill="#6478ab"/>
<rect x="350.74" y="479.68" width="7.36" height="7.42" fill="#526ca6"/>
<rect x="357.80" y="479.68" width="7.36" height="7.42" fill="#6478ab"/>
<rect x="696.68" y="479.68" width="14.42" height="7.42" fill="#6478ab"/>
<rect x="731.98" y="479.68" width="7.36" height="7.42" fill="#6478ab"/>
<rect x="767.28" y="479.68" width="7.36" height="7.42" fill="#6478ab"/>
<rect x="774.34" y="479.68" width="7.36" height="7.42" fill="#526ca6"/>
<rect x="781.40" y="479.68" width="7.36" height="7.42" fill="#4160a5"/>
<rect x="788.46" y="479.68" width="7.36" height="7.42" fill="#526ca6"/>
<rect x="795.52" y="479.68" width="14.42" height="7.42" fill="#4160a5"/>
<rect x="809.64" y="479.68" width="35.60" height="7.42" fill="#526ca6"/>
<rect x="844.94" y="479.68" width="14.42" height="7.42" fill="#4160a5"/>
<rect x="859.06" y="479.68" width="49.72" height="7.42" fill="#526ca6"/>
<rect x="908.48" y="479.68" width="7.36" height="7.42" fill="#4160a5"/>
<rect x="915.54" y="479.68" width="7.36" height="7.42" fill="#526ca6"/>
<rect x="922.60" y="479.68" width="7.36" height="7.42" fill="#4160a5"/>
<rect x="929.66" y="479.68" width="14.42" height="7.42" fill="#526ca6"/>
<rect x="943.78" y="479.68" width="7.36" height="7.42" fill="#6478ab"/>
<rect x="950.84" y="479.68" width="49.72" height="7.42" fill="#526ca6"/>
<rect x="61.28" y="486.81" width="7.36" height="7.42" fill="#4160a5"/>
<rect x="68.34" y="486.81" width="7.36" height="7.42" fill="#4a7db5"/>
<rect x="75.40" y="486.81" width="7.36" height="7.42" fill="#5a9fc9"/>
<rect x="82.46" y="486.81" width="28.54" height="7.42" fill="#4a7db5"/>
<rect x="110.70" y="486.81" width="7.36" height="7.42" fill="#526ca6"/>
<rect x="117.76" y="486.81" width="7.36" height="7.42" fill="#6478ab"/>
<rect x="124.82" y="486.81" width="7.36" height="7.42" fill="#526ca6"/>
<rect x="131.88" y="486.81" width="7.36" height="7.42" fill="#6478ab"/>
<rect x="160.12" y="486.81" width="14.42" height="7.42" fill="#6478ab"/>
<rect x="202.48" y="486.81" width="7.36" height="7.42" fill="#6478ab"/>
<rect x="223.66" y="486.81" width="7.36" height="7.42" fill="#6478ab"/>
<rect x="280.14" y="486.81" width="7.36" height="7.42" fill="#6478ab"/>
<rect x="329.56" y="486.81" width="21.48" height="7.42" fill="#6478ab"/>
<rect x="350.74" y="486.81" width="7.36" height="7.42" fill="#526ca6"/>
<rect x="357.80" y="486.81" width="21.48" height="7.42" fill="#6478ab"/>
<rect x="724.92" y="486.81" width="14.42" height="7.42" fill="#6478ab"/>
<rect x="753.16" y="486.81" width="21.48" height="7.42" fill="#6478ab"/>
<rect x="774.34" y="486.81" width="7.36" height="7.42" fill="#526ca6"/>
<rect x="781.40" y="486.81" width="7.36" height="7.42" fill="#4160a5"/>
<rect x="788.46" y="486.81" width="7.36" height="7.42" fill="#526ca6"/>
<rect x="795.52" y="486.81" width="14.42" height="7.42" fill="#4160a5"/>
<rect x="809.64" y="486.81" width="35.60" height="7.42" fill="#526ca6"/>
<rect x="844.94" y="486.81" width="7.36" height="7.42" fill="#4160a5"/>
<rect x="852.00" y="486.81" width="56.78" height="7.42" fill="#526ca6"/>
<rect x="908.48" y="486.81" width="7.36" height="7.42" fill="#4160a5"/>
<rect x="915.54" y="486.81" width="7.36" height="7.42" fill="#526ca6"/>
<rect x="922.60" y="486.81" width="7.36" height="7.42" fill="#4160a5"/>
<rect x="929.66" y="486.81" width="14.42" height="7.42" fill="#526ca6"/>
<rect x="943.78" y="486.81" width="7.36" height="7.42" fill="#6478ab"/>
<rect x="950.84" y="486.81" width="7.36" height="7.42" fill="#526ca6"/>
<rect x="957.90" y="486.81" width="7.36" height="7.42" fill="#6478ab"/>
<rect x="964.96" y="486.81" width="28.54" height="7.42" fill="#526ca6"/>
<rect x="993.20" y="486.81" width="7.36" height="7.42" fill="#6478ab"/>
<rect x="61.28" y="493.93" width="7.36" height="7.42" fill="#4160a5"/>
<rect x="68.34" y="493.93" width="28.54" height="7.42" fill="#4a7db5"/>
<rect x="96.58" y="493.93" width="7.36" height="7.42" fill="#4160a5"/>
<rect x="103.64" y="493.93" width="7.36" height="7.42" fill="#4a7db5"/>
<rect x="110.70" y="493.93" width="7.36" height="7.42" fill="#526ca6"/>
<rect x="117.76" y="493.93" width="7.36" height="7.42" fill="#6478ab"/>
<rect x="124.82" y="493.93" width="7.36" height="7.42" fill="#526ca6"/>
<rect x="131.88" y="493.93" width="7.36" height="7.42" fill="#6478ab"/>
<rect x="153.06" y="493.93" width="14.42" height="7.42" fill="#6478ab"/>
<rect x="195.42" y="493.93" width="35.60" height="7.42" fill="#6478ab"/>
<rect x="273.08" y="493.93" width="7.36" height="7.42" fill="#6478ab"/>
<rect x="322.50" y="493.93" width="14.42" height="7.42" fill="#6478ab"/>
<rect x="350.74" y="493.93" width="21.48" height="7.42" fill="#6478ab"/>
<rect x="371.92" y="493.93" width="7.36" height="7.42" fill="#526ca6"/>
<rect x="378.98" y="493.93" width="7.36" height="7.42" fill="#6478ab"/>
<rect x="724.92" y="493.93" width="7.36" height="7.42" fill="#6478ab"/>
<rect x="753.16" y="493.93" width="7.36" height="7.42" fill="#6478ab"/>
<rect x="774.34" y="493.93" width="7.36" height="7.42" fill="#6478ab"/>
<rect x="781.40" y="493.93" width="7.36" height="7.42" fill="#4160a5"/>
<rect x="788.46" y="493.93" width="7.36" height="7.42" fill="#526ca6"/>
<rect x="795.52" y="493.93" width="14.42" height="7.42" fill="#4160a5"/>
<rect x="809.64" y="493.93" width="14.42" height="7.42" fill="#526ca6"/>
<rect x="823.76" y="493.93" width="7.36" height="7.42" fill="#4160a5"/>
<rect x="830.82" y="493.93" width="92.08" height="7.42" fill="#526ca6"/>
<rect x="922.60" y="493.93" width="7.36" height="7.42" fill="#4160a5"/>
<rect x="929.66" y="493.93" width="14.42" height="7.42" fill="#526ca6"/>
<rect x="943.78" y="493.93" width="7.36" height="7.42" fill="#6478ab"/>
<rect x="950.84" y="493.93" width="7.36" height="7.42" fill="#526ca6"/>
<rect x="957.90" y="493.93" width="7.36" height="7.42" fill="#6478ab"/>
<rect x="964.96" y="493.93" width="21.48" height="7.42" fill="#526ca6"/>
<rect x="986.14" y="493.93" width="7.36" height="7.42" fill="#6478ab"/>
<rect x="61.28" y="501.05" width="28.54" height="7.42" fill="#4a7db5"/>
<rect x="89.52" y="501.05" width="14.42" height="7.42" fill="#4160a5"/>
<rect x="103.64" y="501.05" width="7.36" height="7.42" fill="#4a7db5"/>
<rect x="110.70" y="501.05" width="7.36" height="7.42" fill="#4160a5"/>
<rect x="117.76" y="501.05" width="14.42" height="7.42" fill="#6478ab"/>
<rect x="146.00" y="501.05" width="7.36" height="7.42" fill="#6478ab"/>
<rect x="188.36" y="501.05" width="7.36" height="7.42" fill="#6478ab"/>
<rect x="195.42" y="501.05" width="7.36" height="7.42" fill="#526ca6"/>
<rect x="202.48" y="501.05" width="14.42" height="7.42" fill="#6478ab"/>
<rect x="266.02" y="501.05" width="14.42" height="7.42" fill="#6478ab"/>
<rect x="301.32" y="501.05" width="21.48" height="7.42" fill="#6478ab"/>
<rect x="322.50" y="501.05" width="7.36" height="7.42" fill="#526ca6"/>
<rect x="329.56" y="501.05" width="7.36" height="7.42" fill="#6478ab"/>
<rect x="343.68" y="501.05" width="7.36" height="7.42" fill="#6478ab"/>
<rect x="350.74" y="501.05" width="7.36" height="7.42" fill="#526ca6"/>
<rect x="357.80" y="501.05" width="28.54" height="7.42" fill="#6478ab"/>
<rect x="753.16" y="501.05" width="7.36" height="7.42" fill="#6478ab"/>
<rect x="767.28" y="501.05" width="14.42" height="7.42" fill="#6478ab"/>
<rect x="781.40" y="501.05" width="21.48" height="7.42" fill="#526ca6"/>
<rect x="802.58" y="501.05" width="7.36" height="7.42" fill="#4160a5"/>
<rect x="809.64" y="501.05" width="14.42" height="7.42" fill="#526ca6"/>
<rect x="823.76" y="501.05" width="7.36" height="7.42" fill="#4160a5"/>
<rect x="830.82" y="501.05" width="7.36" height="7.42" fill="#526ca6"/>
<rect x="837.88" y="501.05" width="7.36" height="7.42" fill="#6478ab"/>
<rect x="844.94" y="501.05" width="7.36" height="7.42" fill="#526ca6"/>
<rect x="852.00" y="501.05" width="7.36" height="7.42" fill="#4160a5"/>
<rect x="859.06" y="501.05" width="49.72" height="7.42" fill="#526ca6"/>
<rect x="908.48" y="501.05" width="7.36" height="7.42" fill="#4160a5"/>
<rect x="915.54" y="501.05" width="21.48" height="7.42" fill="#526ca6"/>
<rect x="936.72" y="501.05" width="7.36" height="7.42" fill="#6478ab"/>
<rect x="943.78" y="501.05" width="14.42" height="7.42" fill="#526ca6"/>
<rect x="957.90" y="501.05" width="7.36" height="7.42" fill="#6478ab"/>
<rect x="964.96" y="501.05" width="21.48" height="7.42" fill="#526ca6"/>
<rect x="986.14" y="501.05" width="7.36" height="7.42" fill="#6478ab"/>
<rect x="61.28" y="508.18" width="28.54" height="7.42" fill="#4a7db5"/>
<rect x="89.52" y="508.18" width="14.42" height="7.42" fill="#4160a5"/>
<rect x="103.64" y="508.18" width="7.36" height="7.42" fill="#4a7db5"/>
<rect x="110.70" y="508.18" width="7.36" height="7.42" fill="#4160a5"/>
<rect x="117.76" y="508.18" width="7.36" height="7.42" fill="#6478ab"/>
<rect x="138.94" y="508.18" width="7.36" height="7.42" fill="#6478ab"/>
<rect x="188.36" y="508.18" width="7.36" height="7.42" fill="#6478ab"/>
<rect x="202.48" y="508.18" width="14.42" height="7.42" fill="#6478ab"/>
<rect x="223.66" y="508.18" width="7.36" height="7.42" fill="#6478ab"/>
<rect x="258.96" y="508.18" width="7.36" height="7.42" fill="#6478ab"/>
<rect x="266.02" y="508.18" width="7.36" height="7.42" fill="#4160a5"/>
<rect x="294.26" y="508.18" width="14.42" height="7.42" fill="#6478ab"/>
<rect x="322.50" y="508.18" width="7.36" height="7.42" fill="#526ca6"/>
<rect x="336.62" y="508.18" width="7.36" height="7.42" fill="#6478ab"/>
<rect x="343.68" y="508.18" width="14.42" height="7.42" fill="#526ca6"/>
<rect x="357.80" y="508.18" width="28.54" height="7.42" fill="#6478ab"/>
<rect x="746.10" y="508.18" width="7.36" height="7.42" fill="#6478ab"/>
<rect x="767.28" y="508.18" width="14.42" height="7.42" fill="#6478ab"/>
<rect x="781.40" y="508.18" width="14.42" height="7.42" fill="#526ca6"/>
<rect x="795.52" y="508.18" width="21.48" height="7.42" fill="#4160a5"/>
<rect x="816.70" y="508.18" width="7.36" height="7.42" fill="#526ca6"/>
<rect x="823.76" y="508.18" width="7.36" height="7.42" fill="#4160a5"/>
<rect x="830.82" y="508.18" width="7.36" height="7.42" fill="#526ca6"/>
<rect x="837.88" y="508.18" width="7.36" height="7.42" fill="#6478ab"/>
<rect x="844.94" y="508.18" width="7.36" height="7.42" fill="#526ca6"/>
<rect x="852.00" y="508.18" width="7.36" height="7.42" fill="#4160a5"/>
<rect x="859.06" y="508.18" width="49.72" height="7.42" fill="#526ca6"/>
<rect x="908.48" y="508.18" width="7.36" height="7.42" fill="#4160a5"/>
<rect x="915.54" y="508.18" width="21.48" height="7.42" fill="#526ca6"/>
<rect x="936.72" y="508.18" width="7.36" height="7.42" fill="#6478ab"/>
<rect x="943.78" y="508.18" width="14.42" height="7.42" fill="#526ca6"/>
<rect x="957.90" y="508.18" width="14.42" height="7.42" fill="#6478ab"/>
<rect x="972.02" y="508.18" width="7.36" height="7.42" fill="#526ca6"/>
<rect x="979.08" y="508.18" width="7.36" height="7.42" fill="#6478ab"/>
<rect x="993.20" y="508.18" width="7.36" height="7.42" fill="#6478ab"/>
<rect x="61.28" y="515.30" width="21.48" height="7.42" fill="#4a7db5"/>
<rect x="82.46" y="515.30" width="7.36" height="7.42" fill="#4160a5"/>
<rect x="89.52" y="515.30" width="7.36" height="7.42" fill="#526ca6"/>
<rect x="96.58" y="515.30" width="7.36" height="7.42" fill="#4160a5"/>
<rect x="103.64" y="515.30" width="7.36" height="7.42" fill="#4a7db5"/>
<rect x="110.70" y="515.30" width="7.36" height="7.42" fill="#4160a5"/>
<rect x="160.12" y="515.30" width="7.36" height="7.42" fill="#6478ab"/>
<rect x="181.30" y="515.30" width="7.36" height="7.42" fill="#6478ab"/>
<rect x="216.60" y="515.30" width="7.36" height="7.42" fill="#526ca6"/>
<rect x="223.66" y="515.30" width="7.36" height="7.42" fill="#4160a5"/>
<rect x="230.72" y="515.30" width="7.36" height="7.42" fill="#526ca6"/>
<rect x="237.78" y="515.30" width="7.36" height="7.42" fill="#6478ab"/>
<rect x="251.90" y="515.30" width="7.36" height="7.42" fill="#6478ab"/>
<rect x="258.96" y="515.30" width="14.42" height="7.42" fill="#4160a5"/>
<rect x="273.08" y="515.30" width="7.36" height="7.42" fill="#526ca6"/>
<rect x="287.20" y="515.30" width="21.48" height="7.42" fill="#6478ab"/>
<rect x="322.50" y="515.30" width="7.36" height="7.42" fill="#526ca6"/>
<rect x="329.56" y="515.30" width="14.42" height="7.42" fill="#6478ab"/>
<rect x="343.68" y="515.30" width="14.42" height="7.42" fill="#526ca6"/>
<rect x="357.80" y="515.30" width="21.48" height="7.42" fill="#6478ab"/>
<rect x="767.28" y="515.30" width="14.42" height="7.42" fill="#6478ab"/>
<rect x="781.40" y="515.30" width="14.42" height="7.42" fill="#526ca6"/>
<rect x="795.52" y="515.30" width="7.36" height="7.42" fill="#4160a5"/>
<rect x="802.58" y="515.30" width="7.36" height="7.42" fill="#526ca6"/>
<rect x="809.64" y="515.30" width="7.36" height="7.42" fill="#4160a5"/>
<rect x="816.70" y="515.30" width="35.60" height="7.42" fill="#526ca6"/>
<rect x="852.00" y="515.30" width="7.36" height="7.42" fill="#4160a5"/>
<rect x="859.06" y="515.30" width="28.54" height="7.42" fill="#526ca6"/>
<rect x="887.30" y="515.30" width="7.36" height="7.42" fill="#6478ab"/>
<rect x="894.36" y="515.30" width="14.42" height="7.42" fill="#526ca6"/>
<rect x="908.48" y="515.30" width="7.36" height="7.42" fill="#4160a5"/>
<rect x="915.54" y="515.30" width="14.42" height="7.42" fill="#526ca6"/>
<rect x="929.66" y="515.30" width="14.42" height="7.42" fill="#6478ab"/>
<rect x="943.78" y="515.30" width="7.36" height="7.42" fill="#526ca6"/>
<rect x="950.84" y="515.30" width="21.48" height="7.42" fill="#6478ab"/>
<rect x="972.02" y="515.30" width="7.36" height="7.42" fill="#526ca6"/>
<rect x="979.08" y="515.30" width="7.36" height="7.42" fill="#6478ab"/>
<rect x="993.20" y="515.30" width="7.36" height="7.42" fill="#6478ab"/>
<rect x="61.28" y="522.42" width="21.48" height="7.42" fill="#4a7db5"/>
<rect x="82.46" y="522.42" width="7.36" height="7.42" fill="#4160a5"/>
<rect x="89.52" y="522.42" width="14.42" height="7.42" fill="#526ca6"/>
<rect x="103.64" y="522.42" width="14.42" height="7.42" fill="#4160a5"/>
<rect x="153.06" y="522.42" width="7.36" height="7.42" fill="#6478ab"/>
<rect x="174.24" y="522.42" width="7.36" height="7.42" fill="#6478ab"/>
<rect x="202.48" y="522.42" width="7.36" height="7.42" fill="#6478ab"/>
<rect x="209.54" y="522.42" width="7.36" height="7.42" fill="#526ca6"/>
<rect x="216.60" y="522.42" width="14.42" height="7.42" fill="#4160a5"/>
<rect x="230.72" y="522.42" width="7.36" height="7.42" fill="#526ca6"/>
<rect x="251.90" y="522.42" width="7.36" height="7.42" fill="#526ca6"/>
<rect x="258.96" y="522.42" width="14.42" height="7.42" fill="#4160a5"/>
<rect x="273.08" y="522.42" width="7.36" height="7.42" fill="#526ca6"/>
<rect x="280.14" y="522.42" width="21.48" height="7.42" fill="#6478ab"/>
<rect x="315.44" y="522.42" width="14.42" height="7.42" fill="#526ca6"/>
<rect x="329.56" y="522.42" width="7.36" height="7.42" fill="#6478ab"/>
<rect x="343.68" y="522.42" width="7.36" height="7.42" fill="#6478ab"/>
<rect x="350.74" y="522.42" width="7.36" height="7.42" fill="#526ca6"/>
<rect x="357.80" y="522.42" width="14.42" height="7.42" fill="#6478ab"/>
<rect x="767.28" y="522.42" width="7.36" height="7.42" fill="#6478ab"/>
<rect x="774.34" y="522.42" width="21.48" height="7.42" fill="#526ca6"/>
<rect x="795.52" y="522.42" width="7.36" height="7.42" fill="#4160a5"/>
<rect x="802.58" y="522.42" width="14.42" height="7.42" fill="#526ca6"/>
<rect x="823.76" y="522.42" width="7.36" height="7.42" fill="#6478ab"/>
<rect x="830.82" y="522.42" width="7.36" height="7.42" fill="#526ca6"/>
<rect x="837.88" y="522.42" width="7.36" height="7.42" fill="#6478ab"/>
<rect x="844.94" y="522.42" width="7.36" height="7.42" fill="#526ca6"/>
<rect x="852.00" y="522.42" width="7.36" height="7.42" fill="#4160a5"/>
<rect x="859.06" y="522.42" width="7.36" height="7.42" fill="#526ca6"/>
<rect x="866.12" y="522.42" width="7.36" height="7.42" fill="#6478ab"/>
<rect x="873.18" y="522.42" width="14.42" height="7.42" fill="#526ca6"/>
<rect x="887.30" y="522.42" width="7.36" height="7.42" fill="#6478ab"/>
<rect x="894.36" y="522.42" width="14.42" height="7.42" fill="#526ca6"/>
<rect x="908.48" y="522.42" width="7.36" height="7.42" fill="#4160a5"/>
<rect x="915.54" y="522.42" width="14.42" height="7.42" fill="#526ca6"/>
<rect x="929.66" y="522.42" width="7.36" height="7.42" fill="#6478ab"/>
<rect x="936.72" y="522.42" width="14.42" height="7.42" fill="#526ca6"/>
<rect x="950.84" y="522.42" width="28.54" height="7.42" fill="#6478ab"/>
<rect x="986.14" y="522.42" width="7.36" height="7.42" fill="#6478ab"/>
<rect x="993.20" y="522.42" width="7.36" height="7.42" fill="#526ca6"/>
<rect x="61.28" y="529.54" width="7.36" height="7.42" fill="#4160a5"/>
<rect x="68.34" y="529.54" width="21.48" height="7.42" fill="#4a7db5"/>
<rect x="89.52" y="529.54" width="7.36" height="7.42" fill="#4160a5"/>
<rect x="96.58" y="529.54" width="7.36" height="7.42" fill="#526ca6"/>
<rect x="103.64" y="529.54" width="7.36" height="7.42" fill="#4160a5"/>
<rect x="110.70" y="529.54" width="7.36" height="7.42" fill="#526ca6"/>
<rect x="124.82" y="529.54" width="28.54" height="7.42" fill="#526ca6"/>
<rect x="167.18" y="529.54" width="21.48" height="7.42" fill="#6478ab"/>
<rect x="195.42" y="529.54" width="14.42" height="7.42" fill="#526ca6"/>
<rect x="209.54" y="529.54" width="7.36" height="7.42" fill="#4160a5"/>
<rect x="216.60" y="529.54" width="7.36" height="7.42" fill="#4a7db5"/>
<rect x="223.66" y="529.54" width="7.36" height="7.42" fill="#4160a5"/>
<rect x="230.72" y="529.54" width="7.36" height="7.42" fill="#526ca6"/>
<rect x="244.84" y="529.54" width="7.36" height="7.42" fill="#6478ab"/>
<rect x="251.90" y="529.54" width="7.36" height="7.42" fill="#526ca6"/>
<rect x="258.96" y="529.54" width="7.36" height="7.42" fill="#4160a5"/>
<rect x="266.02" y="529.54" width="14.42" height="7.42" fill="#526ca6"/>
<rect x="280.14" y="529.54" width="21.48" height="7.42" fill="#6478ab"/>
<rect x="308.38" y="529.54" width="7.36" height="7.42" fill="#526ca6"/>
<rect x="315.44" y="529.54" width="7.36" height="7.42" fill="#4160a5"/>
<rect x="322.50" y="529.54" width="7.36" height="7.42" fill="#6478ab"/>
<rect x="350.74" y="529.54" width="21.48" height="7.42" fill="#6478ab"/>
<rect x="774.34" y="529.54" width="7.36" height="7.42" fill="#6478ab"/>
<rect x="781.40" y="529.54" width="28.54" height="7.42" fill="#526ca6"/>
<rect x="823.76" y="529.54" width="14.42" height="7.42" fill="#6478ab"/>
<rect x="844.94" y="529.54" width="7.36" height="7.42" fill="#526ca6"/>
<rect x="852.00" y="529.54" width="7.36" height="7.42" fill="#4160a5"/>
<rect x="859.06" y="529.54" width="7.36" height="7.42" fill="#526ca6"/>
<rect x="866.12" y="529.54" width="14.42" height="7.42" fill="#6478ab"/>
<rect x="880.24" y="529.54" width="7.36" height="7.42" fill="#526ca6"/>
<rect x="887.30" y="529.54" width="7.36" height="7.42" fill="#6478ab"/>
<rect x="894.36" y="529.54" width="14.42" height="7.42" fill="#526ca6"/>
<rect x="908.48" y="529.54" width="7.36" height="7.42" fill="#4160a5"/>
<rect x="915.54" y="529.54" width="14.42" height="7.42" fill="#526ca6"/>
<rect x="929.66" y="529.54" width="7.36" height="7.42" fill="#6478ab"/>
<rect x="936.72" y="529.54" width="14.42" height="7.42" fill="#526ca6"/>
<rect x="950.84" y="529.54" width="35.60" height="7.42" fill="#6478ab"/>
<rect x="986.14" y="529.54" width="14.42" height="7.42" fill="#526ca6"/>
<rect x="61.28" y="536.67" width="7.36" height="7.42" fill="#4160a5"/>
<rect x="68.34" y="536.67" width="7.36" height="7.42" fill="#4a7db5"/>
<rect x="75.40" y="536.67" width="14.42" height="7.42" fill="#5a9fc9"/>
<rect x="89.52" y="536.67" width="14.42" height="7.42" fill="#4a7db5"/>
<rect x="103.64" y="536.67" width="14.42" height="7.42" fill="#4160a5"/>
<rect x="117.76" y="536.67" width="7.36" height="7.42" fill="#526ca6"/>
<rect x="124.82" y="536.67" width="28.54" height="7.42" fill="#4160a5"/>
<rect x="153.06" y="536.67" width="35.60" height="7.42" fill="#6478ab"/>
<rect x="188.36" y="536.67" width="7.36" height="7.42" fill="#526ca6"/>
<rect x="195.42" y="536.67" width="7.36" height="7.42" fill="#4160a5"/>
<rect x="202.48" y="536.67" width="7.36" height="7.42" fill="#526ca6"/>
<rect x="209.54" y="536.67" width="7.36" height="7.42" fill="#4160a5"/>
<rect x="216.60" y="536.67" width="7.36" height="7.42" fill="#4a7db5"/>
<rect x="223.66" y="536.67" width="7.36" height="7.42" fill="#4160a5"/>
<rect x="230.72" y="536.67" width="7.36" height="7.42" fill="#6478ab"/>
<rect x="251.90" y="536.67" width="21.48" height="7.42" fill="#526ca6"/>
<rect x="273.08" y="536.67" width="21.48" height="7.42" fill="#6478ab"/>
<rect x="308.38" y="536.67" width="14.42" height="7.42" fill="#6478ab"/>
<rect x="357.80" y="536.67" width="14.42" height="7.42" fill="#6478ab"/>
<rect x="781.40" y="536.67" width="21.48" height="7.42" fill="#526ca6"/>
<rect x="802.58" y="536.67" width="7.36" height="7.42" fill="#6478ab"/>
<rect x="816.70" y="536.67" width="21.48" height="7.42" fill="#6478ab"/>
<rect x="844.94" y="536.67" width="7.36" height="7.42" fill="#6478ab"/>
<rect x="852.00" y="536.67" width="14.42" height="7.42" fill="#526ca6"/>
<rect x="866.12" y="536.67" width="28.54" height="7.42" fill="#6478ab"/>
<rect x="894.36" y="536.67" width="14.42" height="7.42" fill="#526ca6"/>
<rect x="908.48" y="536.67" width="7.36" height="7.42" fill="#4160a5"/>
<rect x="915.54" y="536.67" width="14.42" height="7.42" fill="#526ca6"/>
<rect x="929.66" y="536.67" width="7.36" height="7.42" fill="#6478ab"/>
<rect x="936.72" y="536.67" width="7.36" height="7.42" fill="#526ca6"/>
<rect x="943.78" y="536.67" width="35.60" height="7.42" fill="#6478ab"/>
<rect x="979.08" y="536.67" width="14.42" height="7.42" fill="#526ca6"/>
<rect x="993.20" y="536.67" width="7.36" height="7.42" fill="#4160a5"/>
<rect x="61.28" y="543.79" width="14.42" height="7.42" fill="#4a7db5"/>
<rect x="75.40" y="543.79" width="14.42" height="7.42" fill="#5a9fc9"/>
<rect x="89.52" y="543.79" width="7.36" height="7.42" fill="#65c0dc"/>
<rect x="96.58" y="543.79" width="7.36" height="7.42" fill="#5a9fc9"/>
<rect x="103.64" y="543.79" width="21.48" height="7.42" fill="#4a7db5"/>
<rect x="124.82" y="543.79" width="7.36" height="7.42" fill="#4160a5"/>
<rect x="131.88" y="543.79" width="21.48" height="7.42" fill="#4a7db5"/>
<rect x="153.06" y="543.79" width="14.42" height="7.42" fill="#526ca6"/>
<rect x="167.18" y="543.79" width="14.42" height="7.42" fill="#6478ab"/>
<rect x="181.30" y="543.79" width="14.42" height="7.42" fill="#526ca6"/>
<rect x="195.42" y="543.79" width="14.42" height="7.42" fill="#4160a5"/>
<rect x="209.54" y="543.79" width="7.36" height="7.42" fill="#4a7db5"/>
<rect x="216.60" y="543.79" width="7.36" height="7.42" fill="#5a9fc9"/>
<rect x="223.66" y="543.79" width="7.36" height="7.42" fill="#4160a5"/>
<rect x="230.72" y="543.79" width="7.36" height="7.42" fill="#526ca6"/>
<rect x="237.78" y="543.79" width="14.42" height="7.42" fill="#6478ab"/>
<rect x="251.90" y="543.79" width="7.36" height="7.42" fill="#526ca6"/>
<rect x="258.96" y="543.79" width="7.36" height="7.42" fill="#4160a5"/>
<rect x="266.02" y="543.79" width="7.36" height="7.42" fill="#6478ab"/>
<rect x="287.20" y="543.79" width="7.36" height="7.42" fill="#6478ab"/>
<rect x="301.32" y="543.79" width="7.36" height="7.42" fill="#6478ab"/>
<rect x="357.80" y="543.79" width="14.42" height="7.42" fill="#6478ab"/>
<rect x="774.34" y="543.79" width="7.36" height="7.42" fill="#6478ab"/>
<rect x="781.40" y="543.79" width="14.42" height="7.42" fill="#526ca6"/>
<rect x="795.52" y="543.79" width="7.36" height="7.42" fill="#6478ab"/>
<rect x="816.70" y="543.79" width="14.42" height="7.42" fill="#6478ab"/>
<rect x="837.88" y="543.79" width="7.36" height="7.42" fill="#6478ab"/>
<rect x="844.94" y="543.79" width="21.48" height="7.42" fill="#526ca6"/>
<rect x="866.12" y="543.79" width="28.54" height="7.42" fill="#6478ab"/>
<rect x="894.36" y="543.79" width="7.36" height="7.42" fill="#526ca6"/>
<rect x="901.42" y="543.79" width="14.42" height="7.42" fill="#4160a5"/>
<rect x="915.54" y="543.79" width="14.42" height="7.42" fill="#526ca6"/>
<rect x="929.66" y="543.79" width="7.36" height="7.42" fill="#6478ab"/>
<rect x="936.72" y="543.79" width="7.36" height="7.42" fill="#526ca6"/>
<rect x="943.78" y="543.79" width="7.36" height="7.42" fill="#6478ab"/>
<rect x="950.84" y="543.79" width="7.36" height="7.42" fill="#526ca6"/>
<rect x="957.90" y="543.79" width="14.42" height="7.42" fill="#6478ab"/>
<rect x="972.02" y="543.79" width="21.48" height="7.42" fill="#526ca6"/>
<rect x="993.20" y="543.79" width="7.36" height="7.42" fill="#4160a5"/>
<rect x="61.28" y="550.91" width="7.36" height="7.42" fill="#4a7db5"/>
<rect x="68.34" y="550.91" width="21.48" height="7.42" fill="#5a9fc9"/>
<rect x="89.52" y="550.91" width="14.42" height="7.42" fill="#65c0dc"/>
<rect x="103.64" y="550.91" width="14.42" height="7.42" fill="#5a9fc9"/>
<rect x="117.76" y="550.91" width="35.60" height="7.42" fill="#4a7db5"/>
<rect x="153.06" y="550.91" width="7.36" height="7.42" fill="#4160a5"/>
<rect x="160.12" y="550.91" width="21.48" height="7.42" fill="#526ca6"/>
<rect x="181.30" y="550.91" width="21.48" height="7.42" fill="#4160a5"/>
<rect x="202.48" y="550.91" width="7.36" height="7.42" fill="#526ca6"/>
<rect x="209.54" y="550.91" width="7.36" height="7.42" fill="#4160a5"/>
<rect x="216.60" y="550.91" width="7.36" height="7.42" fill="#4a7db5"/>
<rect x="223.66" y="550.91" width="7.36" height="7.42" fill="#4160a5"/>
<rect x="230.72" y="550.91" width="7.36" height="7.42" fill="#526ca6"/>
<rect x="237.78" y="550.91" width="14.42" height="7.42" fill="#6478ab"/>
<rect x="251.90" y="550.91" width="7.36" height="7.42" fill="#4160a5"/>
<rect x="258.96" y="550.91" width="7.36" height="7.42" fill="#526ca6"/>
<rect x="294.26" y="550.91" width="7.36" height="7.42" fill="#6478ab"/>
<rect x="350.74" y="550.91" width="14.42" height="7.42" fill="#6478ab"/>
<rect x="774.34" y="550.91" width="7.36" height="7.42" fill="#6478ab"/>
<rect x="781.40" y="550.91" width="7.36" height="7.42" fill="#526ca6"/>
<rect x="788.46" y="550.91" width="7.36" height="7.42" fill="#6478ab"/>
<rect x="816.70" y="550.91" width="7.36" height="7.42" fill="#6478ab"/>
<rect x="837.88" y="550.91" width="7.36" height="7.42" fill="#6478ab"/>
<rect x="844.94" y="550.91" width="21.48" height="7.42" fill="#526ca6"/>
<rect x="866.12" y="550.91" width="14.42" height="7.42" fill="#6478ab"/>
<rect x="880.24" y="550.91" width="7.36" height="7.42" fill="#526ca6"/>
<rect x="887.30" y="550.91" width="7.36" height="7.42" fill="#6478ab"/>
<rect x="894.36" y="550.91" width="35.60" height="7.42" fill="#526ca6"/>
<rect x="929.66" y="550.91" width="7.36" height="7.42" fill="#6478ab"/>
<rect x="936.72" y="550.91" width="7.36" height="7.42" fill="#526ca6"/>
<rect x="943.78" y="550.91" width="21.48" height="7.42" fill="#6478ab"/>
<rect x="964.96" y="550.91" width="7.36" height="7.42" fill="#526ca6"/>
<rect x="972.02" y="550.91" width="14.42" height="7.42" fill="#6478ab"/>
<rect x="986.14" y="550.91" width="7.36" height="7.42" fill="#526ca6"/>
<rect x="993.20" y="550.91" width="7.36" height="7.42" fill="#4160a5"/>
<rect x="61.28" y="558.04" width="7.36" height="7.42" fill="#5a9fc9"/>
<rect x="68.34" y="558.04" width="42.66" height="7.42" fill="#65c0dc"/>
<rect x="110.70" y="558.04" width="28.54" height="7.42" fill="#5a9fc9"/>
<rect x="138.94" y="558.04" width="14.42" height="7.42" fill="#4a7db5"/>
<rect x="153.06" y="558.04" width="14.42" height="7.42" fill="#4160a5"/>
<rect x="167.18" y="558.04" width="7.36" height="7.42" fill="#526ca6"/>
<rect x="174.24" y="558.04" width="14.42" height="7.42" fill="#4160a5"/>
<rect x="188.36" y="558.04" width="7.36" height="7.42" fill="#4a7db5"/>
<rect x="195.42" y="558.04" width="21.48" height="7.42" fill="#4160a5"/>
<rect x="216.60" y="558.04" width="7.36" height="7.42" fill="#4a7db5"/>
<rect x="223.66" y="558.04" width="7.36" height="7.42" fill="#4160a5"/>
<rect x="230.72" y="558.04" width="35.60" height="7.42" fill="#526ca6"/>
<rect x="294.26" y="558.04" width="7.36" height="7.42" fill="#526ca6"/>
<rect x="343.68" y="558.04" width="21.48" height="7.42" fill="#6478ab"/>
<rect x="767.28" y="558.04" width="14.42" height="7.42" fill="#6478ab"/>
<rect x="781.40" y="558.04" width="7.36" height="7.42" fill="#526ca6"/>
<rect x="788.46" y="558.04" width="7.36" height="7.42" fill="#6478ab"/>
<rect x="830.82" y="558.04" width="21.48" height="7.42" fill="#6478ab"/>
<rect x="852.00" y="558.04" width="14.42" height="7.42" fill="#526ca6"/>
<rect x="866.12" y="558.04" width="14.42" height="7.42" fill="#6478ab"/>
<rect x="880.24" y="558.04" width="42.66" height="7.42" fill="#526ca6"/>
<rect x="922.60" y="558.04" width="7.36" height="7.42" fill="#4160a5"/>
<rect x="929.66" y="558.04" width="14.42" height="7.42" fill="#526ca6"/>
<rect x="943.78" y="558.04" width="14.42" height="7.42" fill="#6478ab"/>
<rect x="957.90" y="558.04" width="14.42" height="7.42" fill="#526ca6"/>
<rect x="972.02" y="558.04" width="7.36" height="7.42" fill="#6478ab"/>
<rect x="986.14" y="558.04" width="7.36" height="7.42" fill="#6478ab"/>
<rect x="993.20" y="558.04" width="7.36" height="7.42" fill="#526ca6"/>
<rect x="61.28" y="565.16" width="7.36" height="7.42" fill="#65c0dc"/>
<rect x="68.34" y="565.16" width="28.54" height="7.42" fill="#63d5c4"/>
<rect x="96.58" y="565.16" width="7.36" height="7.42" fill="#65c0dc"/>
<rect x="103.64" y="565.16" width="14.42" height="7.42" fill="#5a9fc9"/>
<rect x="117.76" y="565.16" width="7.36" height="7.42" fill="#65c0dc"/>
<rect x="124.82" y="565.16" width="21.48" height="7.42" fill="#5a9fc9"/>
<rect x="146.00" y="565.16" width="7.36" height="7.42" fill="#4a7db5"/>
<rect x="153.06" y="565.16" width="28.54" height="7.42" fill="#4160a5"/>
<rect x="181.30" y="565.16" width="21.48" height="7.42" fill="#4a7db5"/>
<rect x="202.48" y="565.16" width="14.42" height="7.42" fill="#4160a5"/>
<rect x="216.60" y="565.16" width="7.36" height="7.42" fill="#4a7db5"/>
<rect x="223.66" y="565.16" width="7.36" height="7.42" fill="#4160a5"/>
<rect x="230.72" y="565.16" width="21.48" height="7.42" fill="#6478ab"/>
<rect x="251.90" y="565.16" width="14.42" height="7.42" fill="#526ca6"/>
<rect x="266.02" y="565.16" width="7.36" height="7.42" fill="#6478ab"/>
<rect x="294.26" y="565.16" width="7.36" height="7.42" fill="#6478ab"/>
<rect x="350.74" y="565.16" width="7.36" height="7.42" fill="#6478ab"/>
<rect x="781.40" y="565.16" width="14.42" height="7.42" fill="#6478ab"/>
<rect x="844.94" y="565.16" width="7.36" height="7.42" fill="#6478ab"/>
<rect x="852.00" y="565.16" width="21.48" height="7.42" fill="#526ca6"/>
<rect x="873.18" y="565.16" width="7.36" height="7.42" fill="#6478ab"/>
<rect x="880.24" y="565.16" width="63.84" height="7.42" fill="#526ca6"/>
<rect x="943.78" y="565.16" width="14.42" height="7.42" fill="#6478ab"/>
<rect x="957.90" y="565.16" width="7.36" height="7.42" fill="#526ca6"/>
<rect x="964.96" y="565.16" width="7.36" height="7.42" fill="#6478ab"/>
<rect x="993.20" y="565.16" width="7.36" height="7.42" fill="#6478ab"/>
<rect x="61.28" y="572.28" width="7.36" height="7.42" fill="#65c0dc"/>
<rect x="68.34" y="572.28" width="28.54" height="7.42" fill="#63d5c4"/>
<rect x="96.58" y="572.28" width="7.36" height="7.42" fill="#65c0dc"/>
<rect x="103.64" y="572.28" width="14.42" height="7.42" fill="#5a9fc9"/>
<rect x="117.76" y="572.28" width="14.42" height="7.42" fill="#65c0dc"/>
<rect x="131.88" y="572.28" width="21.48" height="7.42" fill="#5a9fc9"/>
<rect x="153.06" y="572.28" width="14.42" height="7.42" fill="#4160a5"/>
<rect x="167.18" y="572.28" width="7.36" height="7.42" fill="#526ca6"/>
<rect x="174.24" y="572.28" width="7.36" height="7.42" fill="#4160a5"/>
<rect x="181.30" y="572.28" width="42.66" height="7.42" fill="#4a7db5"/>
<rect x="223.66" y="572.28" width="7.36" height="7.42" fill="#526ca6"/>
<rect x="230.72" y="572.28" width="21.48" height="7.42" fill="#6478ab"/>
<rect x="251.90" y="572.28" width="7.36" height="7.42" fill="#526ca6"/>
<rect x="258.96" y="572.28" width="7.36" height="7.42" fill="#6478ab"/>
<rect x="287.20" y="572.28" width="7.36" height="7.42" fill="#6478ab"/>
<rect x="852.00" y="572.28" width="7.36" height="7.42" fill="#6478ab"/>
<rect x="859.06" y="572.28" width="77.96" height="7.42" fill="#526ca6"/>
<rect x="936.72" y="572.28" width="28.54" height="7.42" fill="#6478ab"/>
<rect x="986.14" y="572.28" width="14.42" height="7.42" fill="#6478ab"/>
<rect x="61.28" y="579.40" width="7.36" height="7.42" fill="#65c0dc"/>
<rect x="68.34" y="579.40" width="28.54" height="7.42" fill="#63d5c4"/>
<rect x="96.58" y="579.40" width="7.36" height="7.42" fill="#65c0dc"/>
<rect x="103.64" y="579.40" width="14.42" height="7.42" fill="#5a9fc9"/>
<rect x="117.76" y="579.40" width="14.42" height="7.42" fill="#65c0dc"/>
<rect x="131.88" y="579.40" width="21.48" height="7.42" fill="#5a9fc9"/>
<rect x="153.06" y="579.40" width="14.42" height="7.42" fill="#4160a5"/>
<rect x="167.18" y="579.40" width="7.36" height="7.42" fill="#526ca6"/>
<rect x="174.24" y="579.40" width="7.36" height="7.42" fill="#4160a5"/>
<rect x="181.30" y="579.40" width="14.42" height="7.42" fill="#4a7db5"/>
<rect x="195.42" y="579.40" width="7.36" height="7.42" fill="#5a9fc9"/>
<rect x="202.48" y="579.40" width="21.48" height="7.42" fill="#4a7db5"/>
<rect x="223.66" y="579.40" width="7.36" height="7.42" fill="#526ca6"/>
<rect x="230.72" y="579.40" width="21.48" height="7.42" fill="#6478ab"/>
<rect x="251.90" y="579.40" width="7.36" height="7.42" fill="#526ca6"/>
<rect x="852.00" y="579.40" width="7.36" height="7.42" fill="#6478ab"/>
<rect x="859.06" y="579.40" width="49.72" height="7.42" fill="#526ca6"/>
<rect x="908.48" y="579.40" width="7.36" height="7.42" fill="#6478ab"/>
<rect x="915.54" y="579.40" width="21.48" height="7.42" fill="#526ca6"/>
<rect x="936.72" y="579.40" width="28.54" height="7.42" fill="#6478ab"/>
<rect x="986.14" y="579.40" width="7.36" height="7.42" fill="#6478ab"/>
<rect x="61.28" y="586.53" width="7.36" height="7.42" fill="#5a9fc9"/>
<rect x="68.34" y="586.53" width="7.36" height="7.42" fill="#65c0dc"/>
<rect x="75.40" y="586.53" width="21.48" height="7.42" fill="#63d5c4"/>
<rect x="96.58" y="586.53" width="7.36" height="7.42" fill="#65c0dc"/>
<rect x="103.64" y="586.53" width="7.36" height="7.42" fill="#5a9fc9"/>
<rect x="110.70" y="586.53" width="7.36" height="7.42" fill="#65c0dc"/>
<rect x="117.76" y="586.53" width="7.36" height="7.42" fill="#63d5c4"/>
<rect x="124.82" y="586.53" width="14.42" height="7.42" fill="#65c0dc"/>
<rect x="138.94" y="586.53" width="14.42" height="7.42" fill="#5a9fc9"/>
<rect x="153.06" y="586.53" width="7.36" height="7.42" fill="#4a7db5"/>
<rect x="160.12" y="586.53" width="7.36" height="7.42" fill="#4160a5"/>
<rect x="167.18" y="586.53" width="7.36" height="7.42" fill="#526ca6"/>
<rect x="174.24" y="586.53" width="14.42" height="7.42" fill="#4160a5"/>
<rect x="188.36" y="586.53" width="21.48" height="7.42" fill="#4a7db5"/>
<rect x="209.54" y="586.53" width="14.42" height="7.42" fill="#4160a5"/>
<rect x="223.66" y="586.53" width="14.42" height="7.42" fill="#526ca6"/>
<rect x="237.78" y="586.53" width="14.42" height="7.42" fill="#6478ab"/>
<rect x="251.90" y="586.53" width="7.36" height="7.42" fill="#526ca6"/>
<rect x="273.08" y="586.53" width="7.36" height="7.42" fill="#6478ab"/>
<rect x="844.94" y="586.53" width="7.36" height="7.42" fill="#6478ab"/>
<rect x="852.00" y="586.53" width="49.72" height="7.42" fill="#526ca6"/>
<rect x="901.42" y="586.53" width="14.42" height="7.42" fill="#6478ab"/>
<rect x="915.54" y="586.53" width="21.48" height="7.42" fill="#526ca6"/>
<rect x="936.72" y="586.53" width="7.36" height="7.42" fill="#6478ab"/>
<rect x="943.78" y="586.53" width="7.36" height="7.42" fill="#526ca6"/>
<rect x="950.84" y="586.53" width="7.36" height="7.42" fill="#6478ab"/>
<rect x="979.08" y="586.53" width="14.42" height="7.42" fill="#6478ab"/>
<rect x="61.28" y="593.65" width="14.42" height="7.42" fill="#65c0dc"/>
<rect x="75.40" y="593.65" width="21.48" height="7.42" fill="#63d5c4"/>
<rect x="96.58" y="593.65" width="14.42" height="7.42" fill="#65c0dc"/>
<rect x="110.70" y="593.65" width="21.48" height="7.42" fill="#63d5c4"/>
<rect x="131.88" y="593.65" width="7.36" height="7.42" fill="#65c0dc"/>
<rect x="138.94" y="593.65" width="28.54" height="7.42" fill="#4a7db5"/>
<rect x="167.18" y="593.65" width="28.54" height="7.42" fill="#4160a5"/>
<rect x="195.42" y="593.65" width="7.36" height="7.42" fill="#4a7db5"/>
<rect x="202.48" y="593.65" width="7.36" height="7.42" fill="#4160a5"/>
<rect x="209.54" y="593.65" width="7.36" height="7.42" fill="#526ca6"/>
<rect x="216.60" y="593.65" width="7.36" height="7.42" fill="#4160a5"/>
<rect x="223.66" y="593.65" width="14.42" height="7.42" fill="#526ca6"/>
<rect x="237.78" y="593.65" width="14.42" height="7.42" fill="#6478ab"/>
<rect x="251.90" y="593.65" width="7.36" height="7.42" fill="#526ca6"/>
<rect x="258.96" y="593.65" width="14.42" height="7.42" fill="#6478ab"/>
<rect x="294.26" y="593.65" width="7.36" height="7.42" fill="#6478ab"/>
<rect x="844.94" y="593.65" width="7.36" height="7.42" fill="#6478ab"/>
<rect x="852.00" y="593.65" width="28.54" height="7.42" fill="#526ca6"/>
<rect x="880.24" y="593.65" width="7.36" height="7.42" fill="#6478ab"/>
<rect x="887.30" y="593.65" width="14.42" height="7.42" fill="#526ca6"/>
<rect x="901.42" y="593.65" width="14.42" height="7.42" fill="#6478ab"/>
<rect x="915.54" y="593.65" width="42.66" height="7.42" fill="#526ca6"/>
<rect x="957.90" y="593.65" width="7.36" height="7.42" fill="#6478ab"/>
<rect x="979.08" y="593.65" width="7.36" height="7.42" fill="#6478ab"/>
<rect x="61.28" y="600.77" width="14.42" height="7.42" fill="#65c0dc"/>
<rect x="75.40" y="600.77" width="7.36" height="7.42" fill="#63d5c4"/>
<rect x="82.46" y="600.77" width="7.36" height="7.42" fill="#65c0dc"/>
<rect x="89.52" y="600.77" width="14.42" height="7.42" fill="#63d5c4"/>
<rect x="103.64" y="600.77" width="7.36" height="7.42" fill="#65c0dc"/>
<rect x="110.70" y="600.77" width="21.48" height="7.42" fill="#63d5c4"/>
<rect x="131.88" y="600.77" width="7.36" height="7.42" fill="#65c0dc"/>
<rect x="138.94" y="600.77" width="7.36" height="7.42" fill="#4a7db5"/>
<rect x="146.00" y="600.77" width="14.42" height="7.42" fill="#4160a5"/>
<rect x="160.12" y="600.77" width="14.42" height="7.42" fill="#4a7db5"/>
<rect x="174.24" y="600.77" width="28.54" height="7.42" fill="#4160a5"/>
<rect x="202.48" y="600.77" width="14.42" height="7.42" fill="#526ca6"/>
<rect x="216.60" y="600.77" width="7.36" height="7.42" fill="#4160a5"/>
<rect x="223.66" y="600.77" width="7.36" height="7.42" fill="#526ca6"/>
<rect x="230.72" y="600.77" width="21.48" height="7.42" fill="#6478ab"/>
<rect x="251.90" y="600.77" width="14.42" height="7.42" fill="#526ca6"/>
<rect x="266.02" y="600.77" width="7.36" height="7.42" fill="#6478ab"/>
<rect x="294.26" y="600.77" width="7.36" height="7.42" fill="#6478ab"/>
<rect x="837.88" y="600.77" width="7.36" height="7.42" fill="#6478ab"/>
<rect x="844.94" y="600.77" width="21.48" height="7.42" fill="#526ca6"/>
<rect x="866.12" y="600.77" width="7.36" height="7.42" fill="#4160a5"/>
<rect x="873.18" y="600.77" width="7.36" height="7.42" fill="#526ca6"/>
<rect x="880.24" y="600.77" width="7.36" height="7.42" fill="#6478ab"/>
<rect x="887.30" y="600.77" width="14.42" height="7.42" fill="#526ca6"/>
<rect x="901.42" y="600.77" width="14.42" height="7.42" fill="#6478ab"/>
<rect x="915.54" y="600.77" width="28.54" height="7.42" fill="#526ca6"/>
<rect x="943.78" y="600.77" width="7.36" height="7.42" fill="#6478ab"/>
<rect x="950.84" y="600.77" width="7.36" height="7.42" fill="#526ca6"/>
<rect x="957.90" y="600.77" width="14.42" height="7.42" fill="#6478ab"/>
<rect x="61.28" y="607.90" width="28.54" height="7.42" fill="#65c0dc"/>
<rect x="89.52" y="607.90" width="14.42" height="7.42" fill="#63d5c4"/>
<rect x="103.64" y="607.90" width="7.36" height="7.42" fill="#65c0dc"/>
<rect x="110.70" y="607.90" width="21.48" height="7.42" fill="#63d5c4"/>
<rect x="131.88" y="607.90" width="7.36" height="7.42" fill="#65c0dc"/>
<rect x="138.94" y="607.90" width="7.36" height="7.42" fill="#4160a5"/>
<rect x="146.00" y="607.90" width="7.36" height="7.42" fill="#526ca6"/>
<rect x="153.06" y="607.90" width="14.42" height="7.42" fill="#4160a5"/>
<rect x="167.18" y="607.90" width="7.36" height="7.42" fill="#4a7db5"/>
<rect x="174.24" y="607.90" width="14.42" height="7.42" fill="#4160a5"/>
<rect x="188.36" y="607.90" width="21.48" height="7.42" fill="#526ca6"/>
<rect x="209.54" y="607.90" width="7.36" height="7.42" fill="#6478ab"/>
<rect x="216.60" y="607.90" width="7.36" height="7.42" fill="#526ca6"/>
<rect x="223.66" y="607.90" width="14.42" height="7.42" fill="#6478ab"/>
<rect x="237.78" y="607.90" width="21.48" height="7.42" fill="#526ca6"/>
<rect x="258.96" y="607.90" width="7.36" height="7.42" fill="#6478ab"/>
<rect x="266.02" y="607.90" width="21.48" height="7.42" fill="#526ca6"/>
<rect x="287.20" y="607.90" width="14.42" height="7.42" fill="#6478ab"/>
<rect x="844.94" y="607.90" width="7.36" height="7.42" fill="#6478ab"/>
<rect x="852.00" y="607.90" width="14.42" height="7.42" fill="#526ca6"/>
<rect x="866.12" y="607.90" width="7.36" height="7.42" fill="#4160a5"/>
<rect x="873.18" y="607.90" width="7.36" height="7.42" fill="#526ca6"/>
<rect x="880.24" y="607.90" width="7.36" height="7.42" fill="#6478ab"/>
<rect x="887.30" y="607.90" width="14.42" height="7.42" fill="#526ca6"/>
<rect x="901.42" y="607.90" width="14.42" height="7.42" fill="#6478ab"/>
<rect x="915.54" y="607.90" width="7.36" height="7.42" fill="#526ca6"/>
<rect x="922.60" y="607.90" width="7.36" height="7.42" fill="#6478ab"/>
<rect x="929.66" y="607.90" width="14.42" height="7.42" fill="#526ca6"/>
<rect x="943.78" y="607.90" width="14.42" height="7.42" fill="#6478ab"/>
<rect x="979.08" y="607.90" width="7.36" height="7.42" fill="#6478ab"/>
<rect x="993.20" y="607.90" width="7.36" height="7.42" fill="#6478ab"/>
<rect x="61.28" y="615.02" width="7.36" height="7.42" fill="#5a9fc9"/>
<rect x="68.34" y="615.02" width="7.36" height="7.42" fill="#65c0dc"/>
<rect x="75.40" y="615.02" width="7.36" height="7.42" fill="#5a9fc9"/>
<rect x="82.46" y="615.02" width="7.36" height="7.42" fill="#65c0dc"/>
<rect x="89.52" y="615.02" width="14.42" height="7.42" fill="#63d5c4"/>
<rect x="103.64" y="615.02" width="14.42" height="7.42" fill="#65c0dc"/>
<rect x="117.76" y="615.02" width="7.36" height="7.42" fill="#63d5c4"/>
<rect x="124.82" y="615.02" width="7.36" height="7.42" fill="#65c0dc"/>
<rect x="131.88" y="615.02" width="7.36" height="7.42" fill="#5a9fc9"/>
<rect x="138.94" y="615.02" width="21.48" height="7.42" fill="#4160a5"/>
<rect x="160.12" y="615.02" width="14.42" height="7.42" fill="#4a7db5"/>
<rect x="174.24" y="615.02" width="14.42" height="7.42" fill="#4160a5"/>
<rect x="188.36" y="615.02" width="14.42" height="7.42" fill="#526ca6"/>
<rect x="202.48" y="615.02" width="14.42" height="7.42" fill="#6478ab"/>
<rect x="216.60" y="615.02" width="7.36" height="7.42" fill="#526ca6"/>
<rect x="223.66" y="615.02" width="14.42" height="7.42" fill="#6478ab"/>
<rect x="237.78" y="615.02" width="7.36" height="7.42" fill="#526ca6"/>
<rect x="244.84" y="615.02" width="7.36" height="7.42" fill="#4160a5"/>
<rect x="251.90" y="615.02" width="7.36" height="7.42" fill="#526ca6"/>
<rect x="258.96" y="615.02" width="7.36" height="7.42" fill="#6478ab"/>
<rect x="266.02" y="615.02" width="21.48" height="7.42" fill="#526ca6"/>
<rect x="287.20" y="615.02" width="7.36" height="7.42" fill="#6478ab"/>
<rect x="859.06" y="615.02" width="7.36" height="7.42" fill="#6478ab"/>
<rect x="866.12" y="615.02" width="14.42" height="7.42" fill="#526ca6"/>
<rect x="880.24" y="615.02" width="7.36" height="7.42" fill="#6478ab"/>
<rect x="887.30" y="615.02" width="21.48" height="7.42" fill="#526ca6"/>
<rect x="908.48" y="615.02" width="21.48" height="7.42" fill="#6478ab"/>
<rect x="929.66" y="615.02" width="14.42" height="7.42" fill="#526ca6"/>
<rect x="943.78" y="615.02" width="14.42" height="7.42" fill="#6478ab"/>
<rect x="964.96" y="615.02" width="21.48" height="7.42" fill="#6478ab"/>
<rect x="993.20" y="615.02" width="7.36" height="7.42" fill="#6478ab"/>
<rect x="61.28" y="622.14" width="7.36" height="7.42" fill="#5a9fc9"/>
<rect x="68.34" y="622.14" width="7.36" height="7.42" fill="#65c0dc"/>
<rect x="75.40" y="622.14" width="14.42" height="7.42" fill="#5a9fc9"/>
<rect x="89.52" y="622.14" width="35.60" height="7.42" fill="#65c0dc"/>
<rect x="124.82" y="622.14" width="7.36" height="7.42" fill="#5a9fc9"/>
<rect x="131.88" y="622.14" width="7.36" height="7.42" fill="#4a7db5"/>
<rect x="138.94" y="622.14" width="28.54" height="7.42" fill="#4160a5"/>
<rect x="167.18" y="622.14" width="7.36" height="7.42" fill="#4a7db5"/>
<rect x="174.24" y="622.14" width="14.42" height="7.42" fill="#4160a5"/>
<rect x="188.36" y="622.14" width="21.48" height="7.42" fill="#526ca6"/>
<rect x="209.54" y="622.14" width="21.48" height="7.42" fill="#6478ab"/>
<rect x="230.72" y="622.14" width="7.36" height="7.42" fill="#526ca6"/>
<rect x="237.78" y="622.14" width="14.42" height="7.42" fill="#4160a5"/>
<rect x="251.90" y="622.14" width="7.36" height="7.42" fill="#526ca6"/>
<rect x="258.96" y="622.14" width="7.36" height="7.42" fill="#6478ab"/>
<rect x="266.02" y="622.14" width="7.36" height="7.42" fill="#526ca6"/>
<rect x="273.08" y="622.14" width="14.42" height="7.42" fill="#6478ab"/>
<rect x="866.12" y="622.14" width="7.36" height="7.42" fill="#6478ab"/>
<rect x="873.18" y="622.14" width="7.36" height="7.42" fill="#526ca6"/>
<rect x="880.24" y="622.14" width="21.48" height="7.42" fill="#6478ab"/>
<rect x="901.42" y="622.14" width="7.36" height="7.42" fill="#526ca6"/>
<rect x="908.48" y="622.14" width="21.48" height="7.42" fill="#6478ab"/>
<rect x="929.66" y="622.14" width="14.42" height="7.42" fill="#526ca6"/>
<rect x="943.78" y="622.14" width="7.36" height="7.42" fill="#6478ab"/>
<rect x="964.96" y="622.14" width="7.36" height="7.42" fill="#6478ab"/>
<rect x="986.14" y="622.14" width="7.36" height="7.42" fill="#6478ab"/>
<rect x="61.28" y="629.27" width="35.60" height="7.42" fill="#5a9fc9"/>
<rect x="96.58" y="629.27" width="28.54" height="7.42" fill="#65c0dc"/>
<rect x="124.82" y="629.27" width="7.36" height="7.42" fill="#5a9fc9"/>
<rect x="131.88" y="629.27" width="7.36" height="7.42" fill="#4a7db5"/>
<rect x="138.94" y="629.27" width="42.66" height="7.42" fill="#4160a5"/>
<rect x="181.30" y="629.27" width="14.42" height="7.42" fill="#526ca6"/>
<rect x="195.42" y="629.27" width="14.42" height="7.42" fill="#4160a5"/>
<rect x="209.54" y="629.27" width="21.48" height="7.42" fill="#526ca6"/>
<rect x="230.72" y="629.27" width="21.48" height="7.42" fill="#4160a5"/>
<rect x="251.90" y="629.27" width="21.48" height="7.42" fill="#526ca6"/>
<rect x="273.08" y="629.27" width="7.36" height="7.42" fill="#6478ab"/>
<rect x="873.18" y="629.27" width="14.42" height="7.42" fill="#6478ab"/>
<rect x="894.36" y="629.27" width="7.36" height="7.42" fill="#6478ab"/>
<rect x="901.42" y="629.27" width="7.36" height="7.42" fill="#526ca6"/>
<rect x="908.48" y="629.27" width="21.48" height="7.42" fill="#6478ab"/>
<rect x="929.66" y="629.27" width="14.42" height="7.42" fill="#526ca6"/>
<rect x="943.78" y="629.27" width="7.36" height="7.42" fill="#6478ab"/>
<rect x="950.84" y="629.27" width="7.36" height="7.42" fill="#526ca6"/>
<rect x="957.90" y="629.27" width="7.36" height="7.42" fill="#6478ab"/>
<rect x="972.02" y="629.27" width="7.36" height="7.42" fill="#6478ab"/>
<rect x="986.14" y="629.27" width="7.36" height="7.42" fill="#6478ab"/>
<rect x="61.28" y="636.39" width="7.36" height="7.42" fill="#4a7db5"/>
<rect x="68.34" y="636.39" width="14.42" height="7.42" fill="#5a9fc9"/>
<rect x="82.46" y="636.39" width="7.36" height="7.42" fill="#4a7db5"/>
<rect x="89.52" y="636.39" width="14.42" height="7.42" fill="#5a9fc9"/>
<rect x="103.64" y="636.39" width="14.42" height="7.42" fill="#65c0dc"/>
<rect x="117.76" y="636.39" width="7.36" height="7.42" fill="#5a9fc9"/>
<rect x="124.82" y="636.39" width="21.48" height="7.42" fill="#4a7db5"/>
<rect x="146.00" y="636.39" width="21.48" height="7.42" fill="#4160a5"/>
<rect x="167.18" y="636.39" width="14.42" height="7.42" fill="#526ca6"/>
<rect x="181.30" y="636.39" width="7.36" height="7.42" fill="#6478ab"/>
<rect x="188.36" y="636.39" width="7.36" height="7.42" fill="#526ca6"/>
<rect x="195.42" y="636.39" width="56.78" height="7.42" fill="#4160a5"/>
<rect x="251.90" y="636.39" width="21.48" height="7.42" fill="#526ca6"/>
<rect x="866.12" y="636.39" width="14.42" height="7.42" fill="#6478ab"/>
<rect x="894.36" y="636.39" width="7.36" height="7.42" fill="#6478ab"/>
<rect x="901.42" y="636.39" width="14.42" height="7.42" fill="#526ca6"/>
<rect x="915.54" y="636.39" width="14.42" height="7.42" fill="#6478ab"/>
<rect x="929.66" y="636.39" width="14.42" height="7.42" fill="#526ca6"/>
<rect x="943.78" y="636.39" width="14.42" height="7.42" fill="#6478ab"/>
<rect x="61.28" y="643.51" width="7.36" height="7.42" fill="#4160a5"/>
<rect x="68.34" y="643.51" width="7.36" height="7.42" fill="#4a7db5"/>
<rect x="75.40" y="643.51" width="14.42" height="7.42" fill="#5a9fc9"/>
<rect x="89.52" y="643.51" width="7.36" height="7.42" fill="#4a7db5"/>
<rect x="96.58" y="643.51" width="28.54" height="7.42" fill="#5a9fc9"/>
<rect x="124.82" y="643.51" width="7.36" height="7.42" fill="#4a7db5"/>
<rect x="131.88" y="643.51" width="7.36" height="7.42" fill="#5a9fc9"/>
<rect x="138.94" y="643.51" width="7.36" height="7.42" fill="#4a7db5"/>
<rect x="146.00" y="643.51" width="14.42" height="7.42" fill="#526ca6"/>
<rect x="160.12" y="643.51" width="7.36" height="7.42" fill="#4160a5"/>
<rect x="167.18" y="643.51" width="14.42" height="7.42" fill="#526ca6"/>
<rect x="181.30" y="643.51" width="7.36" height="7.42" fill="#6478ab"/>
<rect x="188.36" y="643.51" width="7.36" height="7.42" fill="#526ca6"/>
<rect x="195.42" y="643.51" width="63.84" height="7.42" fill="#4160a5"/>
<rect x="258.96" y="643.51" width="14.42" height="7.42" fill="#526ca6"/>
<rect x="273.08" y="643.51" width="7.36" height="7.42" fill="#6478ab"/>
<rect x="859.06" y="643.51" width="14.42" height="7.42" fill="#6478ab"/>
<rect x="894.36" y="643.51" width="7.36" height="7.42" fill="#6478ab"/>
<rect x="901.42" y="643.51" width="7.36" height="7.42" fill="#526ca6"/>
<rect x="908.48" y="643.51" width="28.54" height="7.42" fill="#6478ab"/>
<rect x="936.72" y="643.51" width="7.36" height="7.42" fill="#526ca6"/>
<rect x="943.78" y="643.51" width="14.42" height="7.42" fill="#6478ab"/>
<rect x="986.14" y="643.51" width="7.36" height="7.42" fill="#6478ab"/>
<rect x="61.28" y="650.63" width="7.36" height="7.42" fill="#4160a5"/>
<rect x="68.34" y="650.63" width="14.42" height="7.42" fill="#4a7db5"/>
<rect x="82.46" y="650.63" width="7.36" height="7.42" fill="#5a9fc9"/>
<rect x="89.52" y="650.63" width="7.36" height="7.42" fill="#4a7db5"/>
<rect x="96.58" y="650.63" width="14.42" height="7.42" fill="#5a9fc9"/>
<rect x="110.70" y="650.63" width="35.60" height="7.42" fill="#4a7db5"/>
<rect x="146.00" y="650.63" width="7.36" height="7.42" fill="#4160a5"/>
<rect x="153.06" y="650.63" width="42.66" height="7.42" fill="#526ca6"/>
<rect x="195.42" y="650.63" width="21.48" height="7.42" fill="#4160a5"/>
<rect x="216.60" y="650.63" width="28.54" height="7.42" fill="#526ca6"/>
<rect x="244.84" y="650.63" width="7.36" height="7.42" fill="#4a7db5"/>
<rect x="251.90" y="650.63" width="21.48" height="7.42" fill="#526ca6"/>
<rect x="273.08" y="650.63" width="7.36" height="7.42" fill="#6478ab"/>
<rect x="866.12" y="650.63" width="7.36" height="7.42" fill="#6478ab"/>
<rect x="887.30" y="650.63" width="7.36" height="7.42" fill="#6478ab"/>
<rect x="894.36" y="650.63" width="7.36" height="7.42" fill="#526ca6"/>
<rect x="901.42" y="650.63" width="7.36" height="7.42" fill="#6478ab"/>
<rect x="929.66" y="650.63" width="21.48" height="7.42" fill="#6478ab"/>
<rect x="61.28" y="657.76" width="7.36" height="7.42" fill="#526ca6"/>
<rect x="68.34" y="657.76" width="7.36" height="7.42" fill="#4160a5"/>
<rect x="75.40" y="657.76" width="49.72" height="7.42" fill="#4a7db5"/>
<rect x="124.82" y="657.76" width="7.36" height="7.42" fill="#4160a5"/>
<rect x="131.88" y="657.76" width="7.36" height="7.42" fill="#4a7db5"/>
<rect x="138.94" y="657.76" width="7.36" height="7.42" fill="#4160a5"/>
<rect x="146.00" y="657.76" width="7.36" height="7.42" fill="#526ca6"/>
<rect x="153.06" y="657.76" width="7.36" height="7.42" fill="#4160a5"/>
<rect x="160.12" y="657.76" width="35.60" height="7.42" fill="#526ca6"/>
<rect x="195.42" y="657.76" width="14.42" height="7.42" fill="#4160a5"/>
<rect x="209.54" y="657.76" width="7.36" height="7.42" fill="#526ca6"/>
<rect x="216.60" y="657.76" width="14.42" height="7.42" fill="#6478ab"/>
<rect x="230.72" y="657.76" width="14.42" height="7.42" fill="#526ca6"/>
<rect x="244.84" y="657.76" width="7.36" height="7.42" fill="#4160a5"/>
<rect x="251.90" y="657.76" width="14.42" height="7.42" fill="#526ca6"/>
<rect x="266.02" y="657.76" width="7.36" height="7.42" fill="#6478ab"/>
<rect x="294.26" y="657.76" width="7.36" height="7.42" fill="#6478ab"/>
<rect x="880.24" y="657.76" width="7.36" height="7.42" fill="#6478ab"/>
<rect x="887.30" y="657.76" width="14.42" height="7.42" fill="#526ca6"/>
<rect x="901.42" y="657.76" width="7.36" height="7.42" fill="#6478ab"/>
<rect x="922.60" y="657.76" width="7.36" height="7.42" fill="#6478ab"/>
<rect x="936.72" y="657.76" width="14.42" height="7.42" fill="#6478ab"/>
<rect x="61.28" y="664.88" width="7.36" height="7.42" fill="#526ca6"/>
<rect x="68.34" y="664.88" width="14.42" height="7.42" fill="#4160a5"/>
<rect x="82.46" y="664.88" width="14.42" height="7.42" fill="#4a7db5"/>
<rect x="96.58" y="664.88" width="14.42" height="7.42" fill="#4160a5"/>
<rect x="110.70" y="664.88" width="7.36" height="7.42" fill="#4a7db5"/>
<rect x="117.76" y="664.88" width="28.54" height="7.42" fill="#4160a5"/>
<rect x="146.00" y="664.88" width="7.36" height="7.42" fill="#526ca6"/>
<rect x="153.06" y="664.88" width="7.36" height="7.42" fill="#4160a5"/>
<rect x="160.12" y="664.88" width="35.60" height="7.42" fill="#526ca6"/>
<rect x="195.42" y="664.88" width="14.42" height="7.42" fill="#4160a5"/>
<rect x="209.54" y="664.88" width="7.36" height="7.42" fill="#526ca6"/>
<rect x="216.60" y="664.88" width="14.42" height="7.42" fill="#6478ab"/>
<rect x="230.72" y="664.88" width="14.42" height="7.42" fill="#526ca6"/>
<rect x="244.84" y="664.88" width="7.36" height="7.42" fill="#4160a5"/>
<rect x="251.90" y="664.88" width="7.36" height="7.42" fill="#526ca6"/>
<rect x="258.96" y="664.88" width="7.36" height="7.42" fill="#6478ab"/>
<rect x="287.20" y="664.88" width="7.36" height="7.42" fill="#6478ab"/>
<rect x="880.24" y="664.88" width="21.48" height="7.42" fill="#6478ab"/>
<rect x="922.60" y="664.88" width="7.36" height="7.42" fill="#6478ab"/>
<rect x="943.78" y="664.88" width="7.36" height="7.42" fill="#6478ab"/>
<rect x="61.28" y="672.00" width="7.36" height="7.42" fill="#526ca6"/>
<rect x="68.34" y="672.00" width="14.42" height="7.42" fill="#4160a5"/>
<rect x="82.46" y="672.00" width="14.42" height="7.42" fill="#4a7db5"/>
<rect x="96.58" y="672.00" width="14.42" height="7.42" fill="#4160a5"/>
<rect x="110.70" y="672.00" width="14.42" height="7.42" fill="#4a7db5"/>
<rect x="124.82" y="672.00" width="21.48" height="7.42" fill="#4160a5"/>
<rect x="146.00" y="672.00" width="28.54" height="7.42" fill="#526ca6"/>
<rect x="174.24" y="672.00" width="14.42" height="7.42" fill="#6478ab"/>
<rect x="195.42" y="672.00" width="28.54" height="7.42" fill="#6478ab"/>
<rect x="223.66" y="672.00" width="28.54" height="7.42" fill="#526ca6"/>
<rect x="251.90" y="672.00" width="7.36" height="7.42" fill="#6478ab"/>
<rect x="280.14" y="672.00" width="7.36" height="7.42" fill="#6478ab"/>
<rect x="894.36" y="672.00" width="7.36" height="7.42" fill="#6478ab"/>
<rect x="915.54" y="672.00" width="7.36" height="7.42" fill="#6478ab"/>
<rect x="936.72" y="672.00" width="14.42" height="7.42" fill="#6478ab"/>
<rect x="61.28" y="679.13" width="14.42" height="7.42" fill="#4160a5"/>
<rect x="75.40" y="679.13" width="7.36" height="7.42" fill="#4a7db5"/>
<rect x="82.46" y="679.13" width="7.36" height="7.42" fill="#5a9fc9"/>
<rect x="89.52" y="679.13" width="7.36" height="7.42" fill="#4a7db5"/>
<rect x="96.58" y="679.13" width="21.48" height="7.42" fill="#4160a5"/>
<rect x="117.76" y="679.13" width="7.36" height="7.42" fill="#4a7db5"/>
<rect x="124.82" y="679.13" width="21.48" height="7.42" fill="#4160a5"/>
<rect x="146.00" y="679.13" width="21.48" height="7.42" fill="#526ca6"/>
<rect x="167.18" y="679.13" width="7.36" height="7.42" fill="#6478ab"/>
<rect x="188.36" y="679.13" width="7.36" height="7.42" fill="#6478ab"/>
<rect x="209.54" y="679.13" width="14.42" height="7.42" fill="#6478ab"/>
<rect x="223.66" y="679.13" width="14.42" height="7.42" fill="#526ca6"/>
<rect x="237.78" y="679.13" width="14.42" height="7.42" fill="#6478ab"/>
<rect x="908.48" y="679.13" width="14.42" height="7.42" fill="#6478ab"/>
<rect x="936.72" y="679.13" width="7.36" height="7.42" fill="#6478ab"/>
<rect x="61.28" y="686.25" width="7.36" height="7.42" fill="#4160a5"/>
<rect x="68.34" y="686.25" width="14.42" height="7.42" fill="#4a7db5"/>
<rect x="82.46" y="686.25" width="7.36" height="7.42" fill="#5a9fc9"/>
<rect x="89.52" y="686.25" width="7.36" height="7.42" fill="#4a7db5"/>
<rect x="96.58" y="686.25" width="21.48" height="7.42" fill="#4160a5"/>
<rect x="117.76" y="686.25" width="14.42" height="7.42" fill="#4a7db5"/>
<rect x="131.88" y="686.25" width="14.42" height="7.42" fill="#4160a5"/>
<rect x="146.00" y="686.25" width="14.42" height="7.42" fill="#526ca6"/>
<rect x="160.12" y="686.25" width="28.54" height="7.42" fill="#6478ab"/>
<rect x="216.60" y="686.25" width="7.36" height="7.42" fill="#6478ab"/>
<rect x="223.66" y="686.25" width="14.42" height="7.42" fill="#526ca6"/>
<rect x="237.78" y="686.25" width="14.42" height="7.42" fill="#6478ab"/>
<rect x="273.08" y="686.25" width="7.36" height="7.42" fill="#6478ab"/>
<rect x="929.66" y="686.25" width="7.36" height="7.42" fill="#6478ab"/>
<rect x="61.28" y="693.37" width="14.42" height="7.42" fill="#4160a5"/>
<rect x="75.40" y="693.37" width="14.42" height="7.42" fill="#4a7db5"/>
<rect x="89.52" y="693.37" width="28.54" height="7.42" fill="#4160a5"/>
<rect x="117.76" y="693.37" width="14.42" height="7.42" fill="#4a7db5"/>
<rect x="131.88" y="693.37" width="14.42" height="7.42" fill="#4160a5"/>
<rect x="146.00" y="693.37" width="14.42" height="7.42" fill="#526ca6"/>
<rect x="160.12" y="693.37" width="21.48" height="7.42" fill="#6478ab"/>
<rect x="223.66" y="693.37" width="35.60" height="7.42" fill="#6478ab"/>
<rect x="266.02" y="693.37" width="7.36" height="7.42" fill="#6478ab"/>
<rect x="929.66" y="693.37" width="7.36" height="7.42" fill="#6478ab"/>
<rect x="61.28" y="700.50" width="28.54" height="7.42" fill="#4160a5"/>
<rect x="89.52" y="700.50" width="21.48" height="7.42" fill="#526ca6"/>
<rect x="110.70" y="700.50" width="28.54" height="7.42" fill="#4160a5"/>
<rect x="138.94" y="700.50" width="21.48" height="7.42" fill="#526ca6"/>
<rect x="160.12" y="700.50" width="14.42" height="7.42" fill="#6478ab"/>
<rect x="230.72" y="700.50" width="42.66" height="7.42" fill="#6478ab"/>
<rect x="61.28" y="707.62" width="7.36" height="7.42" fill="#4160a5"/>
<rect x="68.34" y="707.62" width="49.72" height="7.42" fill="#526ca6"/>
<rect x="117.76" y="707.62" width="21.48" height="7.42" fill="#4160a5"/>
<rect x="138.94" y="707.62" width="21.48" height="7.42" fill="#526ca6"/>
<rect x="160.12" y="707.62" width="7.36" height="7.42" fill="#6478ab"/>
<rect x="237.78" y="707.62" width="28.54" height="7.42" fill="#6478ab"/>
<rect x="61.28" y="714.74" width="7.36" height="7.42" fill="#4160a5"/>
<rect x="68.34" y="714.74" width="7.36" height="7.42" fill="#526ca6"/>
<rect x="75.40" y="714.74" width="28.54" height="7.42" fill="#6478ab"/>
<rect x="103.64" y="714.74" width="7.36" height="7.42" fill="#526ca6"/>
<rect x="110.70" y="714.74" width="7.36" height="7.42" fill="#6478ab"/>
<rect x="117.76" y="714.74" width="14.42" height="7.42" fill="#526ca6"/>
<rect x="131.88" y="714.74" width="14.42" height="7.42" fill="#4160a5"/>
<rect x="146.00" y="714.74" width="14.42" height="7.42" fill="#526ca6"/>
<rect x="160.12" y="714.74" width="14.42" height="7.42" fill="#6478ab"/>
<rect x="251.90" y="714.74" width="7.36" height="7.42" fill="#6478ab"/>
<rect x="61.28" y="721.87" width="7.36" height="7.42" fill="#4a7db5"/>
<rect x="68.34" y="721.87" width="7.36" height="7.42" fill="#4160a5"/>
<rect x="75.40" y="721.87" width="28.54" height="7.42" fill="#6478ab"/>
<rect x="117.76" y="721.87" width="7.36" height="7.42" fill="#6478ab"/>
<rect x="124.82" y="721.87" width="7.36" height="7.42" fill="#526ca6"/>
<rect x="131.88" y="721.87" width="7.36" height="7.42" fill="#4160a5"/>
<rect x="138.94" y="721.87" width="21.48" height="7.42" fill="#526ca6"/>
<rect x="160.12" y="721.87" width="14.42" height="7.42" fill="#6478ab"/>
<rect x="251.90" y="721.87" width="7.36" height="7.42" fill="#6478ab"/>
<rect x="61.28" y="728.99" width="7.36" height="7.42" fill="#4a7db5"/>
<rect x="68.34" y="728.99" width="7.36" height="7.42" fill="#4160a5"/>
<rect x="75.40" y="728.99" width="21.48" height="7.42" fill="#6478ab"/>
<rect x="117.76" y="728.99" width="7.36" height="7.42" fill="#6478ab"/>
<rect x="124.82" y="728.99" width="7.36" height="7.42" fill="#526ca6"/>
<rect x="131.88" y="728.99" width="7.36" height="7.42" fill="#4160a5"/>
<rect x="138.94" y="728.99" width="14.42" height="7.42" fill="#526ca6"/>
<rect x="153.06" y="728.99" width="14.42" height="7.42" fill="#6478ab"/>
<rect x="237.78" y="728.99" width="21.48" height="7.42" fill="#6478ab"/>
<rect x="61.28" y="736.11" width="14.42" height="7.42" fill="#4160a5"/>
<rect x="75.40" y="736.11" width="7.36" height="7.42" fill="#526ca6"/>
<rect x="82.46" y="736.11" width="14.42" height="7.42" fill="#6478ab"/>
<rect x="110.70" y="736.11" width="7.36" height="7.42" fill="#6478ab"/>
<rect x="117.76" y="736.11" width="14.42" height="7.42" fill="#526ca6"/>
<rect x="131.88" y="736.11" width="7.36" height="7.42" fill="#4160a5"/>
<rect x="138.94" y="736.11" width="7.36" height="7.42" fill="#526ca6"/>
<rect x="146.00" y="736.11" width="14.42" height="7.42" fill="#6478ab"/>
<rect x="237.78" y="736.11" width="14.42" height="7.42" fill="#6478ab"/>
<rect x="61.28" y="743.23" width="21.48" height="7.42" fill="#526ca6"/>
<rect x="82.46" y="743.23" width="21.48" height="7.42" fill="#6478ab"/>
<rect x="103.64" y="743.23" width="14.42" height="7.42" fill="#526ca6"/>
<rect x="117.76" y="743.23" width="7.36" height="7.42" fill="#6478ab"/>
<rect x="124.82" y="743.23" width="7.36" height="7.42" fill="#526ca6"/>
<rect x="131.88" y="743.23" width="7.36" height="7.42" fill="#4160a5"/>
<rect x="138.94" y="743.23" width="7.36" height="7.42" fill="#526ca6"/>
<rect x="146.00" y="743.23" width="14.42" height="7.42" fill="#6478ab"/>
<rect x="237.78" y="743.23" width="7.36" height="7.42" fill="#6478ab"/>
<rect x="75.40" y="750.36" width="14.42" height="7.42" fill="#6478ab"/>
<rect x="103.64" y="750.36" width="28.54" height="7.42" fill="#6478ab"/>
<rect x="131.88" y="750.36" width="14.42" height="7.42" fill="#526ca6"/>
<rect x="146.00" y="750.36" width="7.36" height="7.42" fill="#6478ab"/>
<rect x="75.40" y="757.48" width="7.36" height="7.42" fill="#6478ab"/>
<rect x="110.70" y="757.48" width="42.66" height="7.42" fill="#6478ab"/>
<rect x="117.76" y="764.60" width="21.48" height="7.42" fill="#6478ab"/>
<rect x="110.70" y="771.73" width="21.48" height="7.42" fill="#6478ab"/>
<rect x="103.64" y="778.85" width="7.36" height="7.42" fill="#6478ab"/>
</g>
<g stroke="#b0b0b0" stroke-opacity="0.05" stroke-width="0.8" stroke-dasharray="2.6,1.2" fill="none">
<line x1="125.50" y1="45.4" x2="125.50" y2="1046.25"/>
<line x1="319.50" y1="45.4" x2="319.50" y2="1046.25"/>
<line x1="512.50" y1="45.4" x2="512.50" y2="1046.25"/>
<line x1="706.50" y1="45.4" x2="706.50" y2="1046.25"/>
<line x1="900.50" y1="45.4" x2="900.50" y2="1046.25"/>
<line x1="67.5" y1="925.50" x2="997.5" y2="925.50"/>
<line x1="67.5" y1="773.50" x2="997.5" y2="773.50"/>
<line x1="67.5" y1="622.50" x2="997.5" y2="622.50"/>
<line x1="67.5" y1="470.50" x2="997.5" y2="470.50"/>
<line x1="67.5" y1="318.50" x2="997.5" y2="318.50"/>
<line x1="67.5" y1="167.50" x2="997.5" y2="167.50"/>
</g>
<g fill="none" stroke="#6e6e6e" stroke-width="1.0" stroke-linejoin="round">
<path d="M121.6,315.2C121.7,316.5 120.1,318.2 122.3,321.9C124.5,325.6 126.7,331.3 132.4,333.7C138.1,336.1 143.2,334.5 150.9,333.7C158.6,332.9 164.4,329.9 171.1,329.6C177.8,329.3 178.5,329.5 184.6,332.0C190.7,334.5 194.7,339.4 201.4,342.1C208.1,344.8 212.1,346.2 218.2,345.5C224.3,344.8 226.6,343.1 231.7,338.7C236.8,334.3 239.1,325.6 243.5,323.6C247.9,321.6 247.9,327.1 253.6,328.6C259.3,330.1 264.4,331.7 272.1,331.0C279.8,330.3 286.2,323.8 292.3,325.3C298.4,326.8 298.2,333.7 302.4,338.7C306.6,343.7 308.5,349.4 313.2,350.5C317.9,351.6 320.1,346.1 326.0,344.4C331.9,342.7 336.1,341.9 342.8,342.1C349.5,342.3 353.6,343.1 359.7,345.5C365.8,347.9 367.7,350.9 373.1,353.9C378.5,356.9 379.2,358.7 386.6,360.6C394.0,362.5 400.8,363.0 410.2,363.3C419.6,363.6 424.6,363.1 433.7,362.0C442.8,360.9 448.9,358.0 455.6,358.0C462.3,358.0 460.2,360.7 467.3,362.0C474.4,363.3 481.5,365.4 490.9,364.7C500.3,364.0 507.8,359.1 514.5,358.6C521.2,358.1 519.9,359.1 524.6,362.0C529.3,364.9 531.3,371.8 538.0,373.1C544.7,374.4 548.1,369.4 558.2,368.7C568.3,368.0 573.8,368.8 588.6,369.7C603.4,370.6 621.2,368.7 632.3,373.1C643.4,377.5 639.4,385.2 644.1,391.6C648.8,398.0 651.5,397.7 655.9,405.1C660.3,412.5 662.0,420.6 666.0,428.7C670.0,436.8 673.4,436.8 676.1,445.5C678.8,454.2 676.8,463.0 679.5,472.4C682.2,481.8 684.9,483.8 689.6,492.6C694.3,501.4 696.9,511.1 703.0,516.2C709.1,521.3 714.8,511.8 719.9,517.9C725.0,524.0 724.3,540.0 728.3,546.5C732.3,553.0 735.2,550.2 740.1,550.5C745.0,550.8 748.5,547.9 752.8,548.2C757.1,548.5 757.3,548.5 761.6,552.0C765.9,555.5 769.1,559.1 774.2,565.9C779.3,572.7 782.9,580.7 786.9,586.1C790.9,591.5 789.9,592.2 794.4,593.1C798.9,594.0 802.5,591.1 809.6,590.4C816.7,589.7 823.2,587.9 829.8,589.8C836.4,591.7 837.3,594.6 842.4,599.9C847.5,605.2 852.2,610.1 855.1,616.4C858.0,622.7 858.1,626.2 857.1,631.5C856.1,636.8 854.2,639.5 850.0,642.9C845.8,646.3 836.6,646.2 836.1,648.7C835.6,651.2 845.2,654.1 847.5,655.5"/>
<path d="M313.2,350.5C310.7,352.2 304.7,354.9 300.7,358.9C296.7,362.9 294.5,365.0 293.3,370.7C292.1,376.4 293.2,380.1 294.7,387.5C296.2,394.9 297.8,400.6 300.7,407.7C303.6,414.8 306.2,418.2 309.2,422.9C312.2,427.6 314.4,425.6 315.9,431.3C317.4,437.0 316.7,442.7 316.6,451.5C316.5,460.3 319.4,470.9 315.2,475.1C311.0,479.3 301.8,473.5 295.7,472.7C289.6,471.9 287.3,473.2 284.9,471.0C282.5,468.8 285.1,465.4 283.9,461.6C282.7,457.8 282.6,455.0 278.9,452.2C275.2,449.4 270.8,448.3 265.4,447.5C260.0,446.7 256.6,446.6 251.9,448.1C247.2,449.6 245.5,450.8 241.8,454.9C238.1,459.0 237.1,462.0 233.4,468.4C229.7,474.8 226.9,479.5 223.3,486.9C219.7,494.3 218.0,498.3 215.6,505.4C213.2,512.5 214.3,514.8 211.5,522.2C208.7,529.6 206.8,534.3 201.4,542.4C196.0,550.5 192.0,555.2 184.6,562.6C177.2,570.0 172.5,574.0 164.4,579.5C156.3,585.0 152.3,586.5 144.2,590.2C136.1,593.9 127.7,593.4 124.0,598.0C120.3,602.6 122.7,606.0 125.7,613.1C128.7,620.2 135.7,626.6 139.1,633.3C142.5,640.0 142.5,641.5 142.5,646.8C142.5,652.1 139.8,657.4 139.1,660.0"/>
<path d="M517.8,238.0C517.8,239.4 518.5,242.1 517.8,245.2C517.1,248.3 517.9,250.2 514.5,253.6C511.1,257.0 507.1,260.0 501.0,262.0C494.9,264.0 488.4,260.0 484.2,263.7C480.0,267.4 481.3,271.8 480.1,280.5C478.9,289.2 478.8,298.0 478.1,307.4C477.4,316.8 479.6,321.5 476.8,327.6C474.0,333.7 468.2,331.6 464.0,337.7C459.8,343.8 457.3,353.9 455.6,358.0"/>
<path d="M728.3,546.5C726.4,548.1 723.7,551.4 718.7,554.5C713.7,557.6 708.6,558.3 703.5,562.1C698.4,565.9 696.7,568.6 693.4,573.4C690.1,578.2 690.6,582.3 687.1,586.1C683.6,589.9 679.6,589.4 675.8,592.4C672.0,595.4 670.0,596.9 668.2,601.2C666.4,605.5 666.7,609.2 666.9,613.8C667.1,618.4 666.1,621.4 669.4,624.4C672.7,627.4 677.5,626.3 683.3,629.0C689.1,631.7 693.7,634.2 698.5,637.8C703.3,641.4 707.1,642.9 707.3,647.2C707.5,651.5 703.7,655.5 699.7,659.3C695.7,663.1 691.9,665.6 687.1,666.4C682.3,667.2 680.6,664.8 675.8,663.1C671.0,661.4 668.7,658.0 663.1,658.0C657.5,658.0 654.1,658.8 648.0,663.1C641.9,667.4 637.3,674.2 632.8,679.5C628.3,684.8 627.8,685.1 625.3,689.6C622.8,694.1 625.3,699.1 620.2,702.2C615.1,705.3 606.0,704.4 600.0,705.3C594.0,706.2 596.2,704.9 590.2,706.5C584.2,708.1 574.7,705.5 570.0,713.2C565.3,720.9 569.0,735.4 566.6,745.2C564.2,755.0 559.5,753.2 558.2,762.0C556.9,770.8 558.9,779.9 559.9,789.0C560.9,798.1 560.5,798.8 563.2,807.5C565.9,816.2 569.9,821.6 573.3,832.7C576.7,843.8 578.2,849.9 580.1,863.0C582.0,876.1 582.3,891.3 582.8,898.4"/>
<path d="M240.0,648.2C244.7,647.4 257.2,643.3 263.6,644.2C270.0,645.1 270.3,647.9 272.0,652.6C273.7,657.3 271.0,662.7 272.0,667.7C273.0,672.7 273.3,675.0 277.0,677.8C280.7,680.6 285.8,681.6 290.5,681.9C295.2,682.2 297.2,676.9 300.6,679.5C304.0,682.1 303.6,689.6 307.3,694.7C311.0,699.8 317.4,701.1 319.1,704.8C320.8,708.5 317.1,710.8 315.8,713.2C314.5,715.6 312.1,715.1 312.4,716.6C312.7,718.1 314.7,721.1 317.4,720.9C320.1,720.7 323.5,714.1 325.9,715.6C328.3,717.1 326.3,724.7 329.2,728.4C332.1,732.1 336.6,734.6 340.3,734.1C344.0,733.6 342.2,727.1 347.7,726.0C353.2,724.9 359.8,725.6 367.9,728.4C376.0,731.2 380.0,734.7 388.1,740.1C396.2,745.5 399.6,750.2 408.4,755.3C417.2,760.4 425.2,760.7 431.9,765.4C438.6,770.1 438.5,772.8 442.0,778.9C445.5,785.0 448.4,789.6 449.4,795.7C450.4,801.8 449.2,803.1 447.1,809.2C445.0,815.3 441.5,819.3 438.7,826.0C435.9,832.7 433.9,834.4 432.9,842.8C431.9,851.2 431.8,864.4 433.6,868.1C435.4,871.8 436.3,866.7 442.0,861.3C447.7,855.9 455.5,846.5 462.2,841.1C468.9,835.7 468.0,835.9 475.7,834.4C483.4,832.9 490.8,835.8 500.9,833.4C511.0,831.0 513.7,827.8 526.2,822.6C538.7,817.4 555.8,810.5 563.2,807.5"/>
</g>
<g fill="none" stroke="#9298a4" stroke-opacity="0.75" stroke-width="0.9" stroke-linejoin="round">
<path d="M145.5,45.0C141.0,46.3 130.2,48.7 123.0,51.7C115.8,54.7 113.5,56.0 109.7,60.0C105.9,64.0 104.6,66.4 103.8,71.7C103.0,77.0 103.7,81.4 105.5,86.7C107.3,92.0 110.8,94.3 113.0,98.3C115.2,102.3 116.6,103.4 116.3,106.7C116.0,110.0 115.3,111.7 111.3,115.0C107.3,118.3 101.0,119.3 96.3,123.3C91.6,127.3 90.3,130.0 88.0,135.0C85.7,140.0 84.4,143.0 84.7,148.3C85.0,153.6 86.4,156.0 89.7,161.7C93.0,167.4 97.0,170.7 101.3,176.7C105.6,182.7 108.0,186.0 111.3,191.7C114.6,197.4 116.3,198.7 118.0,205.0C119.7,211.3 120.8,216.0 120.0,223.0C119.2,230.0 115.9,233.4 114.0,240.0C112.1,246.6 110.7,251.4 110.5,256.0C110.3,260.6 111.5,259.0 113.0,263.0C114.5,267.0 116.3,270.6 118.0,276.0C119.7,281.4 120.3,284.6 121.3,290.0C122.3,295.4 122.9,298.0 123.0,303.0C123.1,308.0 121.9,312.8 121.6,315.2"/>
<path d="M110.5,256.0C106.3,256.1 98.4,254.9 89.7,256.3C81.0,257.7 71.5,261.7 67.0,263.0"/>
<path d="M587.8,45.6C587.8,48.3 586.5,55.3 588.0,59.0C589.5,62.7 591.2,60.6 595.2,64.2C599.2,67.8 600.3,74.1 608.1,77.0C615.9,79.9 625.2,73.7 634.1,78.9C643.0,84.1 647.8,93.0 652.6,103.0C657.4,113.0 656.6,119.3 658.1,128.9C659.6,138.5 660.0,141.5 660.0,151.1C660.0,160.7 661.4,169.2 658.1,177.0C654.8,184.8 646.3,187.4 643.3,190.0"/>
<path d="M517.8,238.0C521.4,235.0 527.8,230.1 535.7,223.2C543.6,216.3 550.3,209.6 557.3,203.3C564.3,197.0 567.2,196.8 570.7,191.7C574.2,186.6 564.1,180.5 574.8,177.8C585.5,175.1 610.3,175.9 624.0,178.3C637.7,180.7 632.4,185.4 643.3,190.0C654.2,194.6 665.5,196.3 678.5,201.1C691.5,205.9 697.0,209.3 708.1,214.1C719.2,218.9 725.9,218.9 734.1,225.2C742.3,231.5 742.2,244.1 748.9,245.6C755.6,247.1 757.0,237.4 767.4,232.6C777.8,227.8 787.4,223.7 800.7,221.5C814.0,219.3 822.2,221.5 834.1,221.5C846.0,221.5 853.7,225.2 860.0,221.5C866.3,217.8 865.2,210.4 865.6,203.0C866.0,195.6 860.1,191.4 861.9,184.4C863.7,177.4 868.1,171.5 874.8,167.8C881.5,164.1 887.0,163.3 895.2,165.9C903.4,168.5 907.8,173.3 915.6,180.7C923.4,188.1 926.7,194.5 934.1,203.0C941.5,211.5 945.9,218.5 952.6,223.3C959.3,228.1 961.5,228.8 967.4,227.0C973.3,225.2 976.1,220.4 982.2,214.1C988.3,207.8 994.8,199.3 998.0,195.6"/>
<path d="M67.0,704.0C70.5,706.3 77.8,713.7 84.7,715.7C91.6,717.7 95.0,718.0 101.3,714.0C107.6,710.0 109.6,702.7 116.3,695.7C123.0,688.7 127.0,682.7 134.7,679.0C142.4,675.3 146.7,680.0 154.7,677.3C162.7,674.6 166.7,669.0 174.7,665.7C182.7,662.4 187.0,661.4 194.7,660.7C202.4,660.0 207.7,664.0 213.0,662.3C218.3,660.6 217.0,655.3 221.3,652.3C225.6,649.3 231.0,648.1 234.7,647.3C238.4,646.5 238.9,648.0 240.0,648.2"/>
<path d="M139.1,660.0C138.2,663.8 135.6,675.2 134.7,679.0"/>
</g>
<polygon points="475.6,574.0 480.3,566.9 486.8,562.8 493.3,558.0 501.5,553.9 499.2,549.8 505.1,546.3 512.7,542.1 515.1,543.3 516.9,540.4 519.2,542.1 521.0,539.8 519.8,536.2 523.3,533.3 525.7,533.9 525.1,530.4 528.6,525.6 533.3,522.1 538.7,520.3 541.6,518.6 542.8,516.0 545.7,514.8 547.5,515.6 549.8,516.8 553.4,519.2 556.3,518.0 559.3,519.2 562.8,517.4 559.9,507.4 566.9,504.2 571.1,511.5 578.1,506.2 584.0,507.4 589.9,509.7 593.4,513.3 594.0,516.8 592.3,519.2 585.2,521.5 578.1,525.0 571.1,527.4 566.3,529.2 562.2,532.7 562.8,539.2 556.3,543.9 552.8,538.6 547.5,539.2 540.4,542.1 539.2,545.1 534.5,546.9 528.6,551.0 524.5,555.1 522.7,561.0 522.2,565.7 519.8,570.4 520.4,573.4 517.4,575.7 516.9,578.7 505.1,578.1 504.5,575.1 501.5,572.2 496.2,572.8 488.6,575.1 481.5,576.3 476.8,575.7" fill="#bfbfbf" stroke="#4a4a4a" stroke-width="1.5" stroke-linejoin="round"/>
<polyline points="539.5,524.5 539.0,521.5 541.6,517.4 544.2,515.3 546.3,515.3 545.1,516.8 542.8,517.4" fill="none" stroke="#333" stroke-width="1.0"/>
<g fill="none" stroke="#000" stroke-width="2.6" stroke-linejoin="round" stroke-linecap="butt">
<polyline points="67.4,952.6 75.2,1026.0 96.0,1045.9"/>
<polyline points="225.0,1045.9 234.4,1029.4 264.4,1030.7 280.5,1045.9"/>
<polyline points="319.9,1046.5 318.6,1025.0 333.4,1010.8 361.3,1002.1 375.5,951.6 405.1,961.7 430.4,945.2 428.9,915.6 463.8,898.0 473.2,903.1 544.6,903.1 545.6,894.0 581.6,900.4 595.1,887.9 659.7,913.9 668.5,941.8 686.0,964.4 704.8,960.3 697.8,980.2 744.9,994.7 771.9,1025.0 790.4,1020.6 798.8,1027.3 805.5,1025.0 831.0,1046.3"/>
<polyline points="839.4,1046.6 836.9,1026.4 847.2,1026.4 845.6,1023.1 845.2,1019.3 836.1,1016.7"/>
<path d="M836.1,1016.7C836.2,1015.0 835.8,1016.1 836.5,1011.5C837.2,1006.9 837.8,1010.9 838.1,1002.8C838.4,994.7 837.3,997.6 837.5,987.3C837.7,977.0 838.0,981.5 838.8,971.8C839.6,962.1 840.0,966.0 840.0,958.2C840.0,950.4 840.1,955.6 838.8,948.5C837.5,941.4 836.9,945.3 836.1,936.9C835.3,928.5 836.4,931.7 836.5,923.3C836.6,914.9 837.8,922.0 836.5,911.7C835.2,901.4 835.8,905.2 832.6,892.3C829.4,879.4 830.3,885.2 826.8,872.9C823.3,860.6 824.6,864.7 822.0,855.5C819.4,846.3 820.9,852.6 819.1,845.4C817.3,838.2 817.1,840.3 816.6,833.8C816.1,827.3 815.7,831.8 817.5,826.0C819.3,820.2 818.2,822.2 822.0,816.4C825.8,810.6 824.0,813.1 828.8,808.6C833.6,804.1 832.3,807.3 836.5,802.8C840.7,798.3 837.5,800.2 841.4,795.0C845.3,789.8 842.9,792.8 848.1,787.3C853.3,781.8 852.4,785.1 856.9,778.6C861.4,772.1 859.1,774.7 861.7,767.9C864.3,761.1 863.6,764.0 864.6,758.2C865.6,752.4 866.2,755.7 864.6,750.5C863.0,745.3 865.9,748.8 859.8,742.7C853.7,736.6 855.6,739.2 846.2,732.1C836.8,725.0 840.1,727.9 831.7,721.4C823.3,714.9 825.7,717.9 821.0,712.7C816.3,707.5 818.5,710.1 817.5,705.9C816.5,701.7 816.3,704.3 818.1,700.1C819.9,695.9 818.4,697.5 822.9,693.3C827.4,689.1 826.2,690.2 831.7,687.5C837.2,684.8 834.9,685.5 839.4,685.2C843.9,684.9 841.3,684.6 845.2,686.5C849.1,688.4 847.1,688.7 851.0,690.8C854.9,692.9 853.0,692.7 856.9,692.7C860.8,692.7 859.8,693.5 862.7,690.8C865.6,688.1 865.0,688.9 865.6,684.6C866.2,680.3 866.9,682.3 864.6,677.8C862.3,673.3 862.7,676.2 858.8,671.0C854.9,665.8 855.8,668.1 853.0,662.3C850.2,656.5 850.8,659.1 850.5,653.6C850.2,648.1 850.5,650.3 852.0,645.8C853.5,641.3 852.2,644.8 854.9,640.0C857.6,635.2 854.6,637.7 860.1,631.5C865.6,625.3 863.1,625.4 871.5,621.4C879.9,617.4 875.9,622.8 885.4,619.4C894.9,616.0 893.4,615.6 900.0,611.3C906.6,607.0 898.8,613.9 905.2,606.4C911.6,598.9 909.3,600.6 919.2,588.9C929.1,577.2 926.7,581.2 934.9,571.3C943.1,561.4 939.6,570.8 943.7,559.1C947.8,547.4 943.7,550.9 947.2,536.3C950.7,521.7 947.8,530.5 954.2,515.3C960.6,500.1 959.5,507.1 966.5,490.7C973.5,474.3 971.2,480.2 975.3,466.2C979.4,452.2 978.8,457.5 978.8,448.7C978.8,439.9 980.0,444.0 975.3,439.9C970.6,435.8 971.7,438.2 964.7,436.4C957.7,434.6 958.9,437.5 954.2,434.6C949.5,431.7 950.7,434.0 950.7,427.6C950.7,421.2 948.9,423.6 954.2,415.4C959.5,407.2 957.1,410.7 966.5,403.1C975.9,395.5 971.8,402.0 982.3,392.6C992.8,383.2 992.8,380.9 998.0,375.0"/>
</g>
<g fill="none" stroke="#000" stroke-width="4.17" stroke-dasharray="15.42,6.67">
<path d="M520.4,991.3 A426.15 439.7 0 1 0 520.4,111.90000000000003 A426.15 439.7 0 1 0 520.4,991.3"/>
<path d="M520.4,771.45 A213.1 219.85 0 1 0 520.4,331.75 A213.1 219.85 0 1 0 520.4,771.45"/>
</g>
<g fill="none" stroke="#000" stroke-width="4.17"><path d="M515.4,991.28 L520.5,991.3"/><path d="M506.7,771.0 L520.5,771.45"/></g>
<text x="283.9" y="122.8" font-size="19.44" font-weight="bold">16 km</text>
<text x="403.8" y="317.8" font-size="19.44" font-weight="bold">8 km</text>
</g>
<rect x="67.5" y="45.4" width="930.0" height="1000.85" fill="none" stroke="#000" stroke-width="1.1"/>
<g stroke="#000" stroke-width="1.1">
<line x1="125.50" y1="1046.25" x2="125.50" y2="1051.25"/>
<line x1="319.50" y1="1046.25" x2="319.50" y2="1051.25"/>
<line x1="512.50" y1="1046.25" x2="512.50" y2="1051.25"/>
<line x1="706.50" y1="1046.25" x2="706.50" y2="1051.25"/>
<line x1="900.50" y1="1046.25" x2="900.50" y2="1051.25"/>
<line x1="62.5" y1="925.50" x2="67.5" y2="925.50"/>
<line x1="62.5" y1="773.50" x2="67.5" y2="773.50"/>
<line x1="62.5" y1="622.50" x2="67.5" y2="622.50"/>
<line x1="62.5" y1="470.50" x2="67.5" y2="470.50"/>
<line x1="62.5" y1="318.50" x2="67.5" y2="318.50"/>
<line x1="62.5" y1="167.50" x2="67.5" y2="167.50"/>
</g>
<g font-size="16.6" text-anchor="middle">
<text transform="translate(124.90,1070.5) scale(0.965,1.06)">6.0</text>
<text transform="translate(318.90,1070.5) scale(0.965,1.06)">6.1</text>
<text transform="translate(511.90,1070.5) scale(0.965,1.06)">6.2</text>
<text transform="translate(705.90,1070.5) scale(0.965,1.06)">6.3</text>
<text transform="translate(899.90,1070.5) scale(0.965,1.06)">6.4</text>
</g>
<g font-size="16.6" text-anchor="end">
<text transform="translate(57.5,932.40) scale(0.985,1.06)">49.50</text>
<text transform="translate(57.5,780.40) scale(0.985,1.06)">49.55</text>
<text transform="translate(57.5,629.40) scale(0.985,1.06)">49.60</text>
<text transform="translate(57.5,477.40) scale(0.985,1.06)">49.65</text>
<text transform="translate(57.5,325.40) scale(0.985,1.06)">49.70</text>
<text transform="translate(57.5,174.40) scale(0.985,1.06)">49.75</text>
</g>
<text transform="translate(533.4,38.3) scale(0.984,1.012)" font-size="35.5" text-anchor="middle">19.11.2025 02:14 UTC</text>
<rect x="1055.6" y="964.23" width="45.0" height="32.67" fill="#6478ab"/>
<rect x="1055.6" y="932.05" width="45.0" height="32.67" fill="#526ca6"/>
<rect x="1055.6" y="899.88" width="45.0" height="32.67" fill="#4160a5"/>
<rect x="1055.6" y="867.70" width="45.0" height="32.67" fill="#4a7db5"/>
<rect x="1055.6" y="835.52" width="45.0" height="32.67" fill="#5a9fc9"/>
<rect x="1055.6" y="803.35" width="45.0" height="32.67" fill="#65c0dc"/>
<rect x="1055.6" y="771.17" width="45.0" height="32.67" fill="#63d5c4"/>
<rect x="1055.6" y="739.00" width="45.0" height="32.67" fill="#3dd56f"/>
<rect x="1055.6" y="706.83" width="45.0" height="32.67" fill="#13c41c"/>
<rect x="1055.6" y="674.65" width="45.0" height="32.67" fill="#12b31a"/>
<rect x="1055.6" y="642.48" width="45.0" height="32.67" fill="#12a015"/>
<rect x="1055.6" y="610.30" width="45.0" height="32.67" fill="#0e8a12"/>
<rect x="1055.6" y="578.12" width="45.0" height="32.67" fill="#0b730b"/>
<rect x="1055.6" y="545.95" width="45.0" height="32.67" fill="#085e0a"/>
<rect x="1055.6" y="513.78" width="45.0" height="32.67" fill="#467a08"/>
<rect x="1055.6" y="481.60" width="45.0" height="32.67" fill="#b0b000"/>
<rect x="1055.6" y="449.43" width="45.0" height="32.67" fill="#ffd500"/>
<rect x="1055.6" y="417.25" width="45.0" height="32.67" fill="#fdb90a"/>
<rect x="1055.6" y="385.08" width="45.0" height="32.67" fill="#ff9f00"/>
<rect x="1055.6" y="352.90" width="45.0" height="32.67" fill="#ff7f00"/>
<rect x="1055.6" y="320.73" width="45.0" height="32.67" fill="#e30000"/>
<rect x="1055.6" y="288.55" width="45.0" height="32.67" fill="#c00000"/>
<rect x="1055.6" y="256.38" width="45.0" height="32.67" fill="#9e0000"/>
<rect x="1055.6" y="224.20" width="45.0" height="32.67" fill="#7a0000"/>
<rect x="1055.6" y="192.03" width="45.0" height="32.67" fill="#fee1fe"/>
<rect x="1055.6" y="159.85" width="45.0" height="32.67" fill="#feb3fe"/>
<rect x="1055.6" y="127.68" width="45.0" height="32.67" fill="#f866f8"/>
<rect x="1055.6" y="95.50" width="45.0" height="32.67" fill="#e933ea"/>
<rect x="1055.6" y="95.5" width="45.0" height="900.9" fill="none" stroke="#000" stroke-width="1.1"/>
<g stroke="#000" stroke-width="1.1">
<line x1="1100.6" y1="996.40" x2="1105.6" y2="996.40"/>
<line x1="1100.6" y1="867.70" x2="1105.6" y2="867.70"/>
<line x1="1100.6" y1="739.00" x2="1105.6" y2="739.00"/>
<line x1="1100.6" y1="610.30" x2="1105.6" y2="610.30"/>
<line x1="1100.6" y1="481.60" x2="1105.6" y2="481.60"/>
<line x1="1100.6" y1="352.90" x2="1105.6" y2="352.90"/>
<line x1="1100.6" y1="224.20" x2="1105.6" y2="224.20"/>
<line x1="1100.6" y1="95.50" x2="1105.6" y2="95.50"/>
</g>
<g font-size="27.8">
<text transform="translate(1110,1007.00) scale(0.98,1.046)">0</text>
<text transform="translate(1110,878.30) scale(0.98,1.046)">10</text>
<text transform="translate(1110,749.60) scale(0.98,1.046)">20</text>
<text transform="translate(1110,620.90) scale(0.98,1.046)">30</text>
<text transform="translate(1110,492.20) scale(0.98,1.046)">40</text>
<text transform="translate(1110,363.50) scale(0.98,1.046)">50</text>
<text transform="translate(1110,234.80) scale(0.98,1.046)">60</text>
<text transform="translate(1110,106.10) scale(0.98,1.046)">70</text>
</g>
<text transform="translate(1173.4,548.2) rotate(-90) scale(0.975,1.03)" font-size="27.8" text-anchor="middle">dBZ</text>
</svg></body></html>
